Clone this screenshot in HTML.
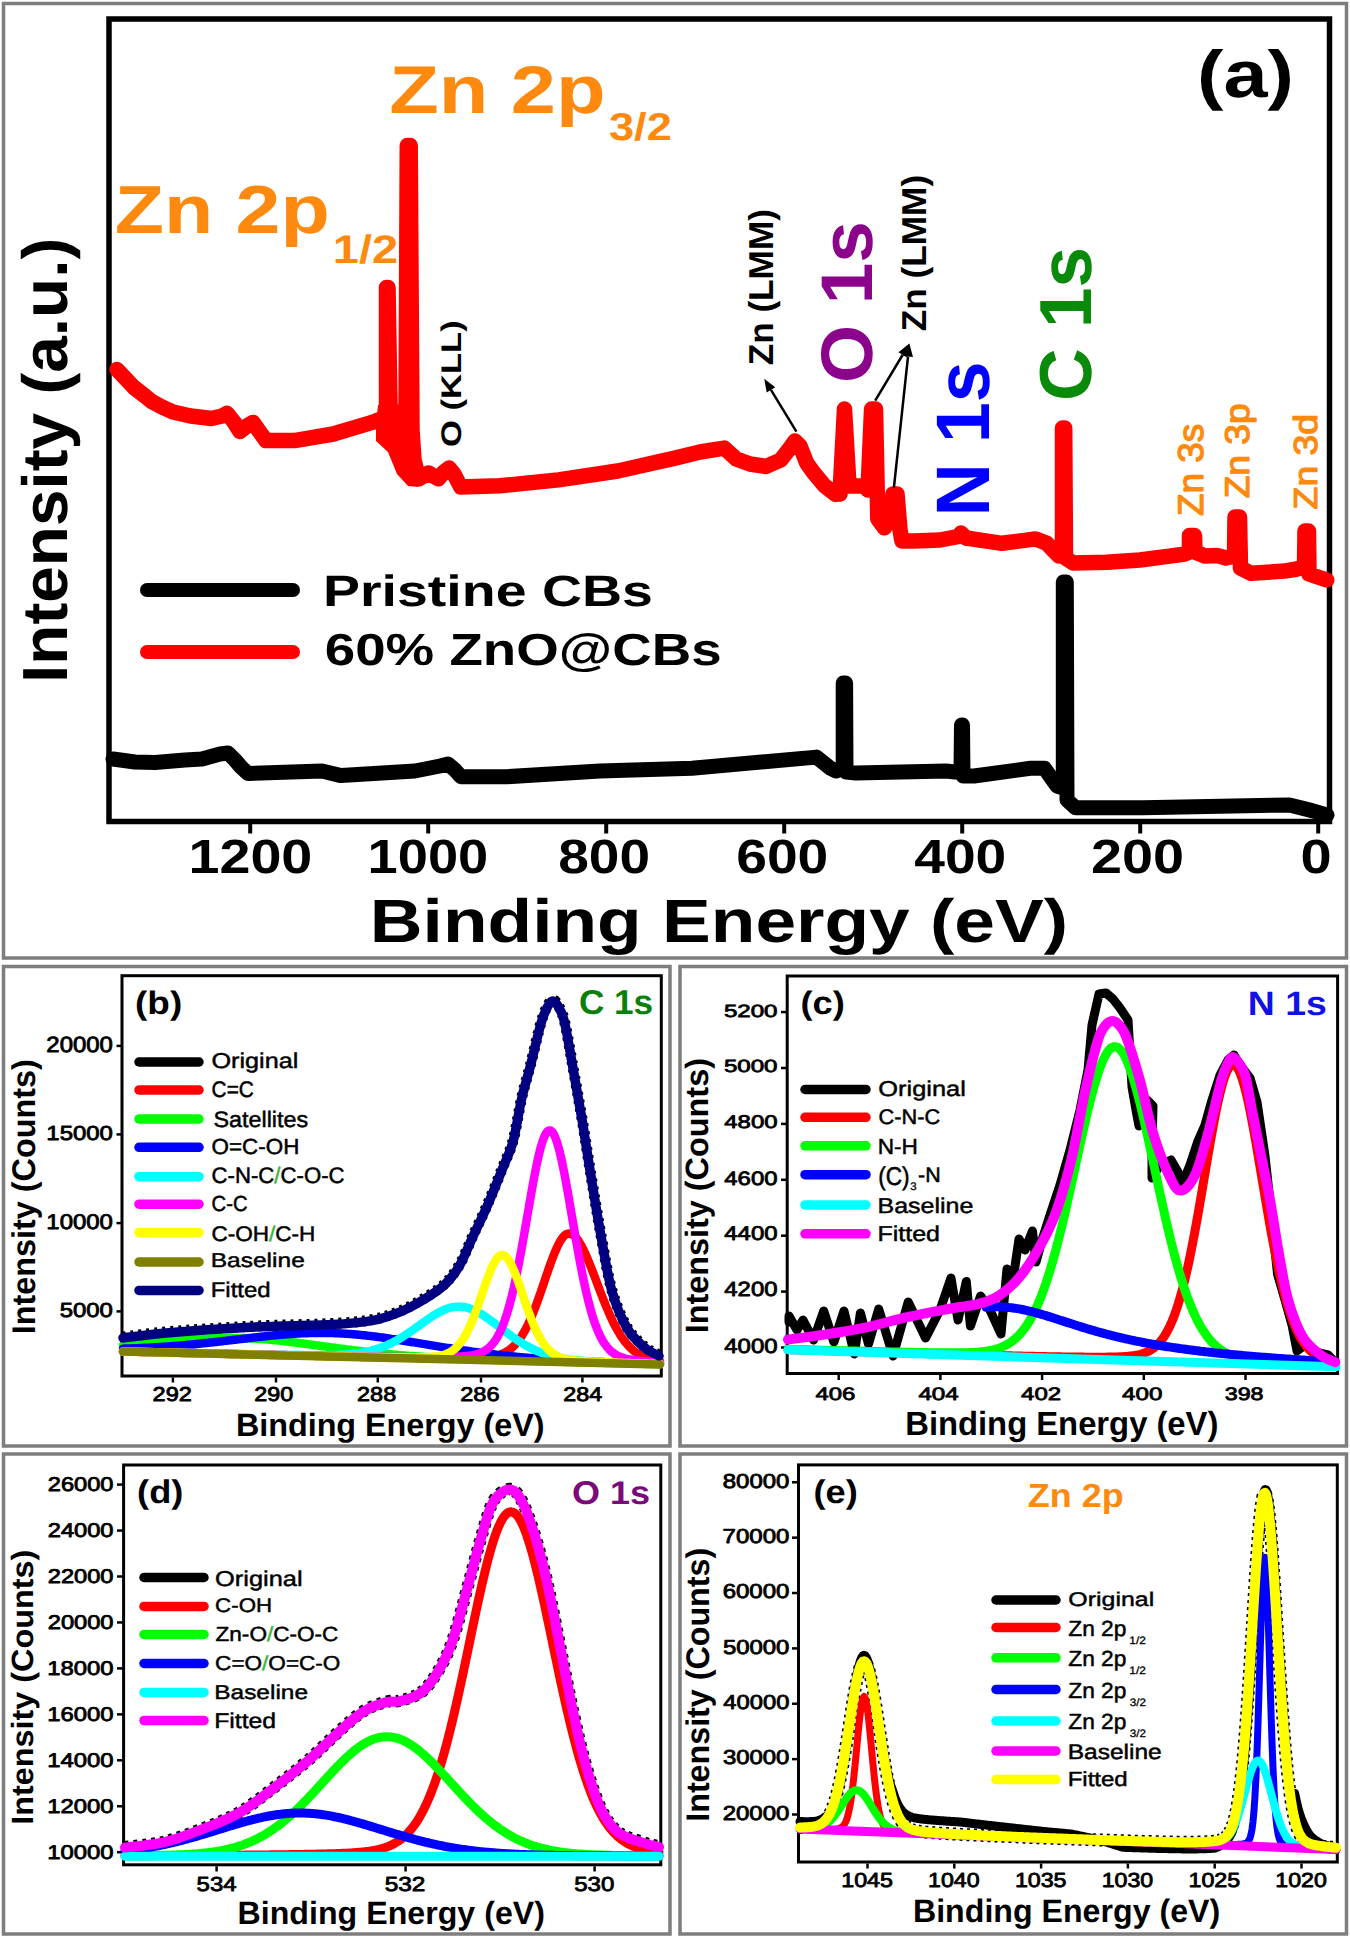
<!DOCTYPE html>
<html><head><meta charset="utf-8"><style>
html,body{margin:0;padding:0;background:#fff;}
svg{display:block;}
text{font-family:"Liberation Sans",sans-serif;font-kerning:none;text-rendering:geometricPrecision;}
</style></head><body>
<svg width="1350" height="1938" viewBox="0 0 1350 1938">
<rect width="1350" height="1938" fill="#fff"/>
<rect x="3.5" y="3.5" width="1343" height="954.5" fill="none" stroke="#7e7e7e" stroke-width="3.5"/>
<rect x="3.5" y="966.5" width="666.5" height="479.5" fill="none" stroke="#7e7e7e" stroke-width="3.5"/>
<rect x="680" y="966.5" width="666.5" height="479.5" fill="none" stroke="#7e7e7e" stroke-width="3.5"/>
<rect x="3.5" y="1454" width="666.5" height="480" fill="none" stroke="#7e7e7e" stroke-width="3.5"/>
<rect x="680" y="1454" width="666.5" height="480" fill="none" stroke="#7e7e7e" stroke-width="3.5"/>
<rect x="109" y="19" width="1220.5" height="802.5" fill="none" stroke="#000" stroke-width="5.5"/>
<line x1="1318.2" y1="824" x2="1318.2" y2="833.5" stroke="#000" stroke-width="4" stroke-linecap="butt"/>
<line x1="1140.2" y1="824" x2="1140.2" y2="833.5" stroke="#000" stroke-width="4" stroke-linecap="butt"/>
<line x1="962.2" y1="824" x2="962.2" y2="833.5" stroke="#000" stroke-width="4" stroke-linecap="butt"/>
<line x1="784.2" y1="824" x2="784.2" y2="833.5" stroke="#000" stroke-width="4" stroke-linecap="butt"/>
<line x1="606.2" y1="824" x2="606.2" y2="833.5" stroke="#000" stroke-width="4" stroke-linecap="butt"/>
<line x1="428.2" y1="824" x2="428.2" y2="833.5" stroke="#000" stroke-width="4" stroke-linecap="butt"/>
<line x1="250.2" y1="824" x2="250.2" y2="833.5" stroke="#000" stroke-width="4" stroke-linecap="butt"/>
<text transform="translate(188.5,872.53) scale(0.5564,0.4802)" font-size="100" font-weight="bold" fill="#000">1200</text>
<text transform="translate(367.58,872.53) scale(0.5423,0.4802)" font-size="100" font-weight="bold" fill="#000">1000</text>
<text transform="translate(558.25,872.53) scale(0.5502,0.4802)" font-size="100" font-weight="bold" fill="#000">800</text>
<text transform="translate(736.28,872.53) scale(0.5513,0.4802)" font-size="100" font-weight="bold" fill="#000">600</text>
<text transform="translate(914.27,872.53) scale(0.5514,0.4802)" font-size="100" font-weight="bold" fill="#000">400</text>
<text transform="translate(1090.97,872.53) scale(0.5581,0.4802)" font-size="100" font-weight="bold" fill="#000">200</text>
<text transform="translate(1300.49,872.53) scale(0.5593,0.4802)" font-size="100" font-weight="bold" fill="#000">0</text>
<text transform="translate(369.81,941.78) scale(0.7307,0.6097)" font-size="100" font-weight="bold" fill="#000">Binding Energy (eV)</text>
<text transform="translate(66.78,683) rotate(-90) scale(0.6570,0.6373)" font-size="100" font-weight="bold" fill="#000">Intensity (a.u.)</text>
<text transform="translate(1197.05,96.86) scale(0.7928,0.6619)" font-size="100" font-weight="bold" fill="#000">(a)</text>
<line x1="147" y1="590" x2="293" y2="590" stroke="#000" stroke-width="14" stroke-linecap="round"/>
<line x1="147" y1="652" x2="293" y2="652" stroke="#ff0000" stroke-width="14" stroke-linecap="round"/>
<text transform="translate(322.99,605.57) scale(0.5548,0.4385)" font-size="100" font-weight="bold" fill="#000">Pristine CBs</text>
<text transform="translate(324.7,665.39) scale(0.5472,0.4492)" font-size="100" font-weight="bold" fill="#000">60% ZnO@CBs</text>
<text transform="translate(389.18,112.7) scale(0.8113,0.6746)" font-size="100" font-weight="bold" fill="#fd8a0e">Zn 2p</text>
<text transform="translate(608.96,140.32) scale(0.4521,0.3881)" font-size="100" font-weight="bold" fill="#fd8a0e">3/2</text>
<text transform="translate(114.7,233.09) scale(0.8063,0.6801)" font-size="100" font-weight="bold" fill="#fd8a0e">Zn 2p</text>
<text transform="translate(332.84,263) scale(0.4700,0.3989)" font-size="100" font-weight="bold" fill="#fd8a0e">1/2</text>
<text transform="translate(461,446.92) rotate(-90) scale(0.3455,0.2843)" font-size="100" font-weight="bold" fill="#000">O (KLL)</text>
<text transform="translate(772.63,365.35) rotate(-90) scale(0.3518,0.3454)" font-size="100" font-weight="bold" fill="#000">Zn (LMM)</text>
<text transform="translate(872.39,382.96) rotate(-90) scale(0.7459,0.7316)" font-size="100" font-weight="bold" fill="#8b048b">O 1s</text>
<text transform="translate(926.13,331.15) rotate(-90) scale(0.3518,0.3454)" font-size="100" font-weight="bold" fill="#000">Zn (LMM)</text>
<text transform="translate(988.56,516.52) rotate(-90) scale(0.7349,0.7581)" font-size="100" font-weight="bold" fill="#0000ff">N 1s</text>
<text transform="translate(1090.78,401.09) rotate(-90) scale(0.7300,0.7373)" font-size="100" font-weight="bold" fill="#0a8a0a">C 1s</text>
<text transform="translate(1203.4,516.12) rotate(-90) scale(0.3695,0.3573)" font-size="100" font-weight="normal" fill="#fd8a0e" stroke="#fd8a0e" stroke-width="3.58" stroke-linejoin="round">Zn 3s</text>
<text transform="translate(1248.95,498.33) rotate(-90) scale(0.3709,0.3423)" font-size="100" font-weight="normal" fill="#fd8a0e" stroke="#fd8a0e" stroke-width="3.65" stroke-linejoin="round">Zn 3p</text>
<text transform="translate(1316.83,509.44) rotate(-90) scale(0.3738,0.3309)" font-size="100" font-weight="normal" fill="#fd8a0e" stroke="#fd8a0e" stroke-width="3.69" stroke-linejoin="round">Zn 3d</text>
<polyline points="113,759 135,762 155,762.5 185,760 202,759 211,756.5 220,754 228,753 235,760 241,767 248,773.5 322,771 341,775.6 415,771 440,766 448,764 455,770 461,776.7 507,776.7 600,771 692,768.3 816.5,757.1 830.6,768.3 836,771 843.2,768 843.2,683 845.6,683 846,772 856,773 946,771 955,772 961,771 961.5,725 962.5,725 963,776 974,776 1030.5,768.3 1044.5,768.3 1052,779 1057,786 1063.3,788 1063.3,582 1066.3,582 1067,800 1075.5,807.7 1143,807.7 1289.5,805 1312,810.6 1327,815" fill="none" stroke="#000" stroke-width="15" stroke-linejoin="round" stroke-linecap="round" />
<polyline points="117,369.5 125,378 134,387.5 145,396 152,401.7 162,407 173,412 190.7,416 211.5,418.5 222,416 227,413.3 234,422 240,431.5 247,426 253,422.4 259,431 266,440.6 294.5,440.6 333.3,434 372.2,422.4 381,419 386.5,418 386.5,287.5 388,287.5 390,405 395,420 400,425 406,412 407.3,145.4 410.2,145.4 412,430 414,460 418.8,478.8 428.6,473 438.4,478.8 444,472 449,468 454,474 460.7,487 499.3,485.8 558.5,479.9 617.8,471 677,457.6 700,452 724.4,448.1 736.3,459 750,464 765.9,466.5 780.7,460 790,448 795,441 800,446 806.7,463 813.3,472.2 824.4,485.6 835.6,494.4 840,494 844.5,409 844.5,409 849,486 856,486 864,486 868,490 871.6,409 875.5,409 877.8,518.9 884.4,527.8 889,520 893,494 897,494 900,530 902,541 913.3,541 940,540 957.8,536.7 961,533 966,538 1002,543.3 1035.6,538.9 1046.7,543.3 1053,550 1059,556 1062.5,548 1062.5,428 1064.7,428 1065.5,558 1073.3,563 1106.7,562.2 1140,560 1173.3,555.6 1185,554 1189.5,552 1189.5,535.5 1194.5,535.5 1195,552 1205,556 1217.8,555.6 1226,558 1234.5,556 1235,517 1239.5,517 1240.5,568 1251,573.3 1284.4,571.1 1297,569 1304.5,566 1305,531 1308.5,531 1309,574 1326.7,580" fill="none" stroke="#ff0000" stroke-width="15.5" stroke-linejoin="round" stroke-linecap="round" />
<polygon points="378,405 418.5,405 418.5,487 408,486 397,474 388,452 376,441 376,425" fill="#ff0000"/>
<line x1="796.4" y1="431.7" x2="770.96" y2="389.9" stroke="#000" stroke-width="2.5" stroke-linecap="butt"/>
<polygon points="764.2,378.8 775.23,387.3 766.69,392.5" fill="#000"/>
<line x1="875.2" y1="400.6" x2="902.71" y2="354.75" stroke="#000" stroke-width="2.5" stroke-linecap="butt"/>
<polygon points="909.4,343.6 907,357.32 898.42,352.17" fill="#000"/>
<line x1="893.9" y1="487.7" x2="908.01" y2="356.53" stroke="#000" stroke-width="2.5" stroke-linecap="butt"/>
<polygon points="909.4,343.6 912.98,357.06 903.04,355.99" fill="#000"/>
<rect x="122" y="975.7" width="539.3" height="400.3" fill="none" stroke="#000" stroke-width="3"/>
<line x1="172.9" y1="1377.5" x2="172.9" y2="1382.5" stroke="#000" stroke-width="2.5" stroke-linecap="butt"/>
<line x1="276" y1="1377.5" x2="276" y2="1382.5" stroke="#000" stroke-width="2.5" stroke-linecap="butt"/>
<line x1="377.8" y1="1377.5" x2="377.8" y2="1382.5" stroke="#000" stroke-width="2.5" stroke-linecap="butt"/>
<line x1="481" y1="1377.5" x2="481" y2="1382.5" stroke="#000" stroke-width="2.5" stroke-linecap="butt"/>
<line x1="582.4" y1="1377.5" x2="582.4" y2="1382.5" stroke="#000" stroke-width="2.5" stroke-linecap="butt"/>
<line x1="116.5" y1="1045.9" x2="122" y2="1045.9" stroke="#000" stroke-width="2.5" stroke-linecap="butt"/>
<line x1="116.5" y1="1134.4" x2="122" y2="1134.4" stroke="#000" stroke-width="2.5" stroke-linecap="butt"/>
<line x1="116.5" y1="1223.1" x2="122" y2="1223.1" stroke="#000" stroke-width="2.5" stroke-linecap="butt"/>
<line x1="116.5" y1="1311.4" x2="122" y2="1311.4" stroke="#000" stroke-width="2.5" stroke-linecap="butt"/>
<text transform="translate(152.57,1401.15) scale(0.2354,0.2006)" font-size="100" font-weight="normal" fill="#000" stroke="#000" stroke-width="4.13" stroke-linejoin="round">292</text>
<text transform="translate(254.17,1401.15) scale(0.2337,0.2006)" font-size="100" font-weight="normal" fill="#000" stroke="#000" stroke-width="4.15" stroke-linejoin="round">290</text>
<text transform="translate(357.07,1401.15) scale(0.2343,0.2006)" font-size="100" font-weight="normal" fill="#000" stroke="#000" stroke-width="4.14" stroke-linejoin="round">288</text>
<text transform="translate(460.26,1401.36) scale(0.2357,0.1992)" font-size="100" font-weight="normal" fill="#000" stroke="#000" stroke-width="4.14" stroke-linejoin="round">286</text>
<text transform="translate(563.28,1401.36) scale(0.2335,0.1992)" font-size="100" font-weight="normal" fill="#000" stroke="#000" stroke-width="4.16" stroke-linejoin="round">284</text>
<text transform="translate(46.35,1052.23) scale(0.2393,0.2203)" font-size="100" font-weight="normal" fill="#000" stroke="#000" stroke-width="3.92" stroke-linejoin="round">20000</text>
<text transform="translate(46.33,1140.15) scale(0.2394,0.2034)" font-size="100" font-weight="normal" fill="#000" stroke="#000" stroke-width="4.07" stroke-linejoin="round">15000</text>
<text transform="translate(46.33,1229.34) scale(0.2394,0.2133)" font-size="100" font-weight="normal" fill="#000" stroke="#000" stroke-width="3.98" stroke-linejoin="round">10000</text>
<text transform="translate(59.69,1317.25) scale(0.2391,0.2034)" font-size="100" font-weight="normal" fill="#000" stroke="#000" stroke-width="4.07" stroke-linejoin="round">5000</text>
<text transform="translate(235.94,1435.97) scale(0.3229,0.3225)" font-size="100" font-weight="bold" fill="#000">Binding Energy (eV)</text>
<text transform="translate(34.59,1334.26) rotate(-90) scale(0.3236,0.3283)" font-size="100" font-weight="bold" fill="#000">Intensity (Counts)</text>
<text transform="translate(135.06,1013.58) scale(0.3695,0.3240)" font-size="100" font-weight="bold" fill="#000">(b)</text>
<text transform="translate(578.96,1013.76) scale(0.3512,0.3446)" font-size="100" font-weight="bold" fill="#0a800a">C 1s</text>
<line x1="139" y1="1062" x2="199" y2="1062" stroke="#000" stroke-width="9.5" stroke-linecap="round"/>
<text transform="translate(211.46,1068.1) scale(0.2521,0.2146)" font-size="100" font-weight="normal" fill="#000" stroke="#000" stroke-width="2.14" stroke-linejoin="round">Original</text>
<line x1="139" y1="1090" x2="199" y2="1090" stroke="#ff0000" stroke-width="9.5" stroke-linecap="round"/>
<text transform="translate(211.59,1097.23) scale(0.2083,0.2246)" font-size="100" font-weight="normal" fill="#000" stroke="#000" stroke-width="2.31" stroke-linejoin="round">C=C</text>
<line x1="139" y1="1119" x2="199" y2="1119" stroke="#00ff00" stroke-width="9.5" stroke-linecap="round"/>
<text transform="translate(213.39,1126.53) scale(0.2336,0.2233)" font-size="100" font-weight="normal" fill="#000" stroke="#000" stroke-width="2.19" stroke-linejoin="round">Satellites</text>
<line x1="139" y1="1147.3" x2="199" y2="1147.3" stroke="#0000ff" stroke-width="9.5" stroke-linecap="round"/>
<text transform="translate(211.59,1153.54) scale(0.2241,0.2189)" font-size="100" font-weight="normal" fill="#000" stroke="#000" stroke-width="2.26" stroke-linejoin="round">O=C-OH</text>
<line x1="139" y1="1176.7" x2="199" y2="1176.7" stroke="#00ffff" stroke-width="9.5" stroke-linecap="round"/>
<text transform="translate(211.52,1182.83) scale(0.2218,0.2233)" font-size="100" font-weight="normal" fill="#000" stroke="#000" stroke-width="2.25" stroke-linejoin="round">C-N-C<tspan fill="#3cb43c" stroke="#3cb43c">/</tspan>C-O-C</text>
<line x1="139" y1="1204.2" x2="199" y2="1204.2" stroke="#ff00ff" stroke-width="9.5" stroke-linecap="round"/>
<text transform="translate(211.62,1211.34) scale(0.2025,0.2189)" font-size="100" font-weight="normal" fill="#000" stroke="#000" stroke-width="2.37" stroke-linejoin="round">C-C</text>
<line x1="139" y1="1232.7" x2="199" y2="1232.7" stroke="#ffff00" stroke-width="9.5" stroke-linecap="round"/>
<text transform="translate(211.51,1240.64) scale(0.2253,0.2111)" font-size="100" font-weight="normal" fill="#000" stroke="#000" stroke-width="2.29" stroke-linejoin="round">C-OH<tspan fill="#3cb43c" stroke="#3cb43c">/</tspan>C-H</text>
<line x1="139" y1="1262" x2="199" y2="1262" stroke="#808000" stroke-width="9.5" stroke-linecap="round"/>
<text transform="translate(210.64,1267.36) scale(0.2456,0.1988)" font-size="100" font-weight="normal" fill="#000" stroke="#000" stroke-width="2.25" stroke-linejoin="round">Baseline</text>
<line x1="139" y1="1290.4" x2="199" y2="1290.4" stroke="#000080" stroke-width="9.5" stroke-linecap="round"/>
<text transform="translate(210.69,1296.64) scale(0.2395,0.2111)" font-size="100" font-weight="normal" fill="#000" stroke="#000" stroke-width="2.22" stroke-linejoin="round">Fitted</text>
<path d="M123.0,1337.0 C130.7,1336.1 147.8,1333.5 169.0,1331.7 C190.2,1329.9 223.0,1327.7 250.0,1326.3 C277.0,1324.9 310.7,1324.7 331.0,1323.6 C351.3,1322.5 360.7,1321.6 372.0,1319.6 C383.3,1317.6 390.5,1314.8 399.0,1311.4 C407.5,1308.0 415.4,1303.6 423.0,1299.0 C430.6,1294.4 438.3,1289.7 444.4,1284.0 C450.5,1278.3 454.8,1272.6 459.5,1264.7 C464.2,1256.8 467.8,1246.8 472.4,1236.8 C477.0,1226.8 482.4,1216.1 487.4,1204.6 C492.4,1193.1 498.1,1178.8 502.4,1168.0 C506.7,1157.2 510.0,1151.8 513.2,1140.0 C516.4,1128.2 518.9,1109.5 521.8,1097.0 C524.7,1084.5 527.2,1077.5 530.4,1065.0 C533.6,1052.5 538.2,1032.0 541.1,1022.0 C544.0,1012.0 546.0,1008.7 548.0,1005.0 C550.0,1001.3 551.2,1000.0 552.9,1000.0 C554.6,1000.0 556.0,1001.3 558.0,1005.0 C560.0,1008.7 562.2,1011.3 564.7,1022.0 C567.2,1032.7 570.4,1052.9 573.3,1069.0 C576.2,1085.1 579.1,1101.4 582.0,1118.6 C584.9,1135.8 587.3,1152.6 590.5,1172.3 C593.7,1192.0 597.7,1217.1 601.3,1236.8 C604.9,1256.5 607.7,1275.5 612.0,1290.5 C616.3,1305.5 621.6,1317.7 627.0,1327.0 C632.4,1336.3 638.9,1341.6 644.2,1346.3 C649.5,1351.0 656.5,1353.5 659.0,1355.0" fill="none" stroke="#000" stroke-width="11" stroke-linejoin="round" stroke-linecap="butt" stroke-dasharray="3,5"/>
<polyline points="123,1351.51 124.5,1351.55 126,1351.58 127.5,1351.62 129,1351.65 130.5,1351.69 132,1351.72 133.5,1351.76 135,1351.79 136.5,1351.83 138,1351.86 139.5,1351.9 141,1351.93 142.5,1351.97 144,1352 145.5,1352.04 147,1352.07 148.5,1352.11 150,1352.14 151.5,1352.18 153,1352.21 154.5,1352.25 156,1352.28 157.5,1352.32 159,1352.35 160.5,1352.39 162,1352.42 163.5,1352.46 165,1352.49 166.5,1352.53 168,1352.56 169.5,1352.6 171,1352.63 172.5,1352.67 174,1352.7 175.5,1352.74 177,1352.77 178.5,1352.81 180,1352.84 181.5,1352.88 183,1352.91 184.5,1352.95 186,1352.98 187.5,1353.02 189,1353.05 190.5,1353.09 192,1353.12 193.5,1353.16 195,1353.19 196.5,1353.22 198,1353.26 199.5,1353.29 201,1353.33 202.5,1353.36 204,1353.4 205.5,1353.43 207,1353.47 208.5,1353.5 210,1353.54 211.5,1353.57 213,1353.61 214.5,1353.64 216,1353.67 217.5,1353.71 219,1353.74 220.5,1353.78 222,1353.81 223.5,1353.85 225,1353.88 226.5,1353.92 228,1353.95 229.5,1353.99 231,1354.02 232.5,1354.05 234,1354.09 235.5,1354.12 237,1354.16 238.5,1354.19 240,1354.23 241.5,1354.26 243,1354.29 244.5,1354.33 246,1354.36 247.5,1354.4 249,1354.43 250.5,1354.46 252,1354.5 253.5,1354.53 255,1354.57 256.5,1354.6 258,1354.64 259.5,1354.67 261,1354.7 262.5,1354.74 264,1354.77 265.5,1354.8 267,1354.84 268.5,1354.87 270,1354.91 271.5,1354.94 273,1354.97 274.5,1355.01 276,1355.04 277.5,1355.07 279,1355.11 280.5,1355.14 282,1355.18 283.5,1355.21 285,1355.24 286.5,1355.28 288,1355.31 289.5,1355.34 291,1355.38 292.5,1355.41 294,1355.44 295.5,1355.48 297,1355.51 298.5,1355.54 300,1355.58 301.5,1355.61 303,1355.64 304.5,1355.67 306,1355.71 307.5,1355.74 309,1355.77 310.5,1355.81 312,1355.84 313.5,1355.87 315,1355.9 316.5,1355.94 318,1355.97 319.5,1356 321,1356.03 322.5,1356.07 324,1356.1 325.5,1356.13 327,1356.16 328.5,1356.2 330,1356.23 331.5,1356.26 333,1356.29 334.5,1356.32 336,1356.35 337.5,1356.39 339,1356.42 340.5,1356.45 342,1356.48 343.5,1356.51 345,1356.54 346.5,1356.57 348,1356.61 349.5,1356.64 351,1356.67 352.5,1356.7 354,1356.73 355.5,1356.76 357,1356.79 358.5,1356.82 360,1356.85 361.5,1356.88 363,1356.91 364.5,1356.94 366,1356.97 367.5,1357 369,1357.03 370.5,1357.06 372,1357.09 373.5,1357.12 375,1357.15 376.5,1357.18 378,1357.2 379.5,1357.23 381,1357.26 382.5,1357.29 384,1357.32 385.5,1357.34 387,1357.37 388.5,1357.4 390,1357.43 391.5,1357.45 393,1357.48 394.5,1357.51 396,1357.53 397.5,1357.56 399,1357.59 400.5,1357.61 402,1357.64 403.5,1357.66 405,1357.69 406.5,1357.71 408,1357.74 409.5,1357.76 411,1357.78 412.5,1357.81 414,1357.83 415.5,1357.85 417,1357.87 418.5,1357.9 420,1357.92 421.5,1357.94 423,1357.96 424.5,1357.98 426,1358 427.5,1358.02 429,1358.04 430.5,1358.05 432,1358.07 433.5,1358.09 435,1358.1 436.5,1358.12 438,1358.13 439.5,1358.15 441,1358.16 442.5,1358.18 444,1358.19 445.5,1358.2 447,1358.21 448.5,1358.22 450,1358.23 451.5,1358.23 453,1358.24 454.5,1358.25 456,1358.25 457.5,1358.25 459,1358.25 460.5,1358.25 462,1358.25 463.5,1358.24 465,1358.23 466.5,1358.22 468,1358.2 469.5,1358.18 471,1358.16 472.5,1358.13 474,1358.1 475.5,1358.06 477,1358.01 478.5,1357.95 480,1357.88 481.5,1357.8 483,1357.71 484.5,1357.6 486,1357.47 487.5,1357.31 489,1357.14 490.5,1356.94 492,1356.7 493.5,1356.43 495,1356.12 496.5,1355.76 498,1355.35 499.5,1354.88 501,1354.34 502.5,1353.74 504,1353.05 505.5,1352.28 507,1351.41 508.5,1350.44 510,1349.35 511.5,1348.14 513,1346.8 514.5,1345.32 516,1343.7 517.5,1341.91 519,1339.96 520.5,1337.84 522,1335.55 523.5,1333.07 525,1330.41 526.5,1327.57 528,1324.53 529.5,1321.32 531,1317.92 532.5,1314.35 534,1310.62 535.5,1306.73 537,1302.71 538.5,1298.56 540,1294.3 541.5,1289.97 543,1285.57 544.5,1281.15 546,1276.72 547.5,1272.32 549,1267.98 550.5,1263.74 552,1259.63 553.5,1255.69 555,1251.96 556.5,1248.48 558,1245.27 559.5,1242.39 561,1239.87 562.5,1237.73 564,1236 565.5,1234.72 567,1233.89 568.5,1233.53 570,1233.62 571.5,1234.09 573,1234.92 574.5,1236.1 576,1237.63 577.5,1239.49 579,1241.66 580.5,1244.11 582,1246.83 583.5,1249.79 585,1252.96 586.5,1256.33 588,1259.85 589.5,1263.52 591,1267.29 592.5,1271.15 594,1275.08 595.5,1279.04 597,1283.01 598.5,1286.98 600,1290.93 601.5,1294.83 603,1298.67 604.5,1302.44 606,1306.12 607.5,1309.69 609,1313.16 610.5,1316.5 612,1319.71 613.5,1322.79 615,1325.73 616.5,1328.53 618,1331.18 619.5,1333.69 621,1336.05 622.5,1338.27 624,1340.35 625.5,1342.29 627,1344.1 628.5,1345.78 630,1347.34 631.5,1348.78 633,1350.11 634.5,1351.32 636,1352.44 637.5,1353.47 639,1354.4 640.5,1355.25 642,1356.03 643.5,1356.74 645,1357.38 646.5,1357.96 648,1358.49 649.5,1358.96 651,1359.39 652.5,1359.78 654,1360.14 655.5,1360.46 657,1360.75 658.5,1361.01 660,1361.25" fill="none" stroke="#ff0000" stroke-width="8.5" stroke-linejoin="round" stroke-linecap="round" />
<polyline points="123,1345.16 124.5,1345.05 126,1344.94 127.5,1344.82 129,1344.71 130.5,1344.59 132,1344.47 133.5,1344.35 135,1344.22 136.5,1344.1 138,1343.97 139.5,1343.85 141,1343.72 142.5,1343.59 144,1343.46 145.5,1343.33 147,1343.2 148.5,1343.07 150,1342.93 151.5,1342.8 153,1342.66 154.5,1342.53 156,1342.4 157.5,1342.26 159,1342.13 160.5,1341.99 162,1341.86 163.5,1341.72 165,1341.59 166.5,1341.45 168,1341.32 169.5,1341.19 171,1341.05 172.5,1340.92 174,1340.79 175.5,1340.66 177,1340.54 178.5,1340.41 180,1340.29 181.5,1340.16 183,1340.04 184.5,1339.92 186,1339.81 187.5,1339.69 189,1339.58 190.5,1339.47 192,1339.36 193.5,1339.26 195,1339.15 196.5,1339.05 198,1338.96 199.5,1338.87 201,1338.78 202.5,1338.69 204,1338.61 205.5,1338.53 207,1338.45 208.5,1338.38 210,1338.32 211.5,1338.25 213,1338.2 214.5,1338.14 216,1338.09 217.5,1338.05 219,1338.01 220.5,1337.97 222,1337.94 223.5,1337.92 225,1337.9 226.5,1337.88 228,1337.87 229.5,1337.87 231,1337.87 232.5,1337.87 234,1337.89 235.5,1337.9 237,1337.92 238.5,1337.95 240,1337.98 241.5,1338.02 243,1338.07 244.5,1338.12 246,1338.17 247.5,1338.23 249,1338.3 250.5,1338.37 252,1338.44 253.5,1338.52 255,1338.61 256.5,1338.7 258,1338.8 259.5,1338.9 261,1339.01 262.5,1339.12 264,1339.24 265.5,1339.36 267,1339.48 268.5,1339.61 270,1339.74 271.5,1339.88 273,1340.03 274.5,1340.17 276,1340.32 277.5,1340.48 279,1340.63 280.5,1340.79 282,1340.96 283.5,1341.12 285,1341.3 286.5,1341.47 288,1341.65 289.5,1341.82 291,1342.01 292.5,1342.19 294,1342.38 295.5,1342.56 297,1342.76 298.5,1342.95 300,1343.14 301.5,1343.34 303,1343.54 304.5,1343.73 306,1343.93 307.5,1344.14 309,1344.34 310.5,1344.54 312,1344.75 313.5,1344.95 315,1345.16 316.5,1345.36 318,1345.57 319.5,1345.77 321,1345.98 322.5,1346.19 324,1346.39 325.5,1346.6 327,1346.81 328.5,1347.01 330,1347.22 331.5,1347.42 333,1347.62 334.5,1347.83 336,1348.03 337.5,1348.23 339,1348.43 340.5,1348.63 342,1348.83 343.5,1349.03 345,1349.22 346.5,1349.42 348,1349.61 349.5,1349.8 351,1349.99 352.5,1350.18 354,1350.37 355.5,1350.55 357,1350.73 358.5,1350.91 360,1351.09 361.5,1351.27 363,1351.45 364.5,1351.62 366,1351.79 367.5,1351.96 369,1352.13 370.5,1352.3 372,1352.46 373.5,1352.62 375,1352.78 376.5,1352.94 378,1353.1 379.5,1353.25 381,1353.4 382.5,1353.55 384,1353.7 385.5,1353.84 387,1353.99 388.5,1354.13 390,1354.27 391.5,1354.4 393,1354.54 394.5,1354.67 396,1354.8 397.5,1354.93 399,1355.05 400.5,1355.18 402,1355.3 403.5,1355.42 405,1355.54 406.5,1355.65 408,1355.77 409.5,1355.88 411,1355.99 412.5,1356.1 414,1356.21 415.5,1356.31 417,1356.41 418.5,1356.51 420,1356.61 421.5,1356.71 423,1356.81 424.5,1356.9 426,1356.99 427.5,1357.08 429,1357.17 430.5,1357.26 432,1357.35 433.5,1357.43 435,1357.51 436.5,1357.6 438,1357.68 439.5,1357.76 441,1357.83 442.5,1357.91 444,1357.98 445.5,1358.06 447,1358.13 448.5,1358.2 450,1358.27 451.5,1358.34 453,1358.41 454.5,1358.48 456,1358.54 457.5,1358.61 459,1358.67 460.5,1358.73 462,1358.8 463.5,1358.86 465,1358.92 466.5,1358.98 468,1359.03 469.5,1359.09 471,1359.15 472.5,1359.21 474,1359.26 475.5,1359.32 477,1359.37 478.5,1359.42 480,1359.48 481.5,1359.53 483,1359.58 484.5,1359.63 486,1359.68 487.5,1359.73 489,1359.78 490.5,1359.83 492,1359.88 493.5,1359.92 495,1359.97 496.5,1360.02 498,1360.07 499.5,1360.11 501,1360.16 502.5,1360.2 504,1360.25 505.5,1360.29 507,1360.34 508.5,1360.38 510,1360.42 511.5,1360.47 513,1360.51 514.5,1360.55 516,1360.6 517.5,1360.64 519,1360.68 520.5,1360.72 522,1360.77 523.5,1360.81 525,1360.85 526.5,1360.89 528,1360.93 529.5,1360.97 531,1361.01 532.5,1361.05 534,1361.09 535.5,1361.13 537,1361.17 538.5,1361.21 540,1361.25 541.5,1361.29 543,1361.33 544.5,1361.37 546,1361.41 547.5,1361.45 549,1361.49 550.5,1361.53 552,1361.56 553.5,1361.6 555,1361.64 556.5,1361.68 558,1361.72 559.5,1361.76 561,1361.8 562.5,1361.83 564,1361.87 565.5,1361.91 567,1361.95 568.5,1361.99 570,1362.02 571.5,1362.06 573,1362.1 574.5,1362.14 576,1362.18 577.5,1362.21 579,1362.25 580.5,1362.29 582,1362.33 583.5,1362.36 585,1362.4 586.5,1362.44 588,1362.48 589.5,1362.51 591,1362.55 592.5,1362.59 594,1362.63 595.5,1362.66 597,1362.7 598.5,1362.74 600,1362.77 601.5,1362.81 603,1362.85 604.5,1362.89 606,1362.92 607.5,1362.96 609,1363 610.5,1363.03 612,1363.07 613.5,1363.11 615,1363.15 616.5,1363.18 618,1363.22 619.5,1363.26 621,1363.29 622.5,1363.33 624,1363.37 625.5,1363.4 627,1363.44 628.5,1363.48 630,1363.51 631.5,1363.55 633,1363.59 634.5,1363.62 636,1363.66 637.5,1363.7 639,1363.74 640.5,1363.77 642,1363.81 643.5,1363.85 645,1363.88 646.5,1363.92 648,1363.96 649.5,1363.99 651,1364.03 652.5,1364.07 654,1364.1 655.5,1364.14 657,1364.18 658.5,1364.21 660,1364.25" fill="none" stroke="#00ff00" stroke-width="8.5" stroke-linejoin="round" stroke-linecap="round" />
<polyline points="123,1348.65 124.5,1348.61 126,1348.57 127.5,1348.52 129,1348.47 130.5,1348.42 132,1348.37 133.5,1348.31 135,1348.25 136.5,1348.19 138,1348.13 139.5,1348.07 141,1348 142.5,1347.94 144,1347.87 145.5,1347.79 147,1347.72 148.5,1347.64 150,1347.56 151.5,1347.48 153,1347.4 154.5,1347.32 156,1347.23 157.5,1347.14 159,1347.04 160.5,1346.95 162,1346.85 163.5,1346.75 165,1346.65 166.5,1346.55 168,1346.44 169.5,1346.33 171,1346.22 172.5,1346.11 174,1345.99 175.5,1345.88 177,1345.76 178.5,1345.63 180,1345.51 181.5,1345.38 183,1345.25 184.5,1345.12 186,1344.99 187.5,1344.85 189,1344.72 190.5,1344.58 192,1344.44 193.5,1344.29 195,1344.15 196.5,1344 198,1343.85 199.5,1343.7 201,1343.55 202.5,1343.39 204,1343.23 205.5,1343.08 207,1342.92 208.5,1342.75 210,1342.59 211.5,1342.43 213,1342.26 214.5,1342.1 216,1341.93 217.5,1341.76 219,1341.59 220.5,1341.42 222,1341.24 223.5,1341.07 225,1340.9 226.5,1340.72 228,1340.55 229.5,1340.37 231,1340.2 232.5,1340.02 234,1339.84 235.5,1339.66 237,1339.49 238.5,1339.31 240,1339.13 241.5,1338.96 243,1338.78 244.5,1338.6 246,1338.43 247.5,1338.25 249,1338.08 250.5,1337.91 252,1337.73 253.5,1337.56 255,1337.39 256.5,1337.23 258,1337.06 259.5,1336.89 261,1336.73 262.5,1336.57 264,1336.41 265.5,1336.25 267,1336.09 268.5,1335.94 270,1335.79 271.5,1335.64 273,1335.49 274.5,1335.35 276,1335.21 277.5,1335.07 279,1334.94 280.5,1334.81 282,1334.68 283.5,1334.56 285,1334.44 286.5,1334.32 288,1334.21 289.5,1334.1 291,1333.99 292.5,1333.89 294,1333.8 295.5,1333.7 297,1333.62 298.5,1333.54 300,1333.46 301.5,1333.38 303,1333.32 304.5,1333.25 306,1333.2 307.5,1333.14 309,1333.1 310.5,1333.06 312,1333.02 313.5,1332.99 315,1332.96 316.5,1332.94 318,1332.93 319.5,1332.92 321,1332.92 322.5,1332.92 324,1332.93 325.5,1332.95 327,1332.97 328.5,1332.99 330,1333.03 331.5,1333.07 333,1333.11 334.5,1333.16 336,1333.22 337.5,1333.28 339,1333.35 340.5,1333.42 342,1333.5 343.5,1333.59 345,1333.68 346.5,1333.77 348,1333.88 349.5,1333.98 351,1334.1 352.5,1334.22 354,1334.34 355.5,1334.47 357,1334.6 358.5,1334.74 360,1334.89 361.5,1335.03 363,1335.19 364.5,1335.35 366,1335.51 367.5,1335.68 369,1335.85 370.5,1336.02 372,1336.21 373.5,1336.39 375,1336.58 376.5,1336.77 378,1336.96 379.5,1337.16 381,1337.37 382.5,1337.57 384,1337.78 385.5,1337.99 387,1338.21 388.5,1338.42 390,1338.64 391.5,1338.87 393,1339.09 394.5,1339.32 396,1339.55 397.5,1339.78 399,1340.01 400.5,1340.25 402,1340.49 403.5,1340.72 405,1340.96 406.5,1341.21 408,1341.45 409.5,1341.69 411,1341.94 412.5,1342.18 414,1342.43 415.5,1342.67 417,1342.92 418.5,1343.17 420,1343.42 421.5,1343.67 423,1343.91 424.5,1344.16 426,1344.41 427.5,1344.66 429,1344.91 430.5,1345.16 432,1345.4 433.5,1345.65 435,1345.9 436.5,1346.14 438,1346.38 439.5,1346.63 441,1346.87 442.5,1347.11 444,1347.35 445.5,1347.59 447,1347.83 448.5,1348.07 450,1348.3 451.5,1348.54 453,1348.77 454.5,1349 456,1349.23 457.5,1349.46 459,1349.69 460.5,1349.91 462,1350.13 463.5,1350.35 465,1350.57 466.5,1350.79 468,1351 469.5,1351.22 471,1351.43 472.5,1351.64 474,1351.84 475.5,1352.05 477,1352.25 478.5,1352.45 480,1352.65 481.5,1352.85 483,1353.04 484.5,1353.23 486,1353.42 487.5,1353.61 489,1353.79 490.5,1353.97 492,1354.15 493.5,1354.33 495,1354.51 496.5,1354.68 498,1354.85 499.5,1355.02 501,1355.18 502.5,1355.35 504,1355.51 505.5,1355.67 507,1355.83 508.5,1355.98 510,1356.13 511.5,1356.28 513,1356.43 514.5,1356.58 516,1356.72 517.5,1356.86 519,1357 520.5,1357.14 522,1357.27 523.5,1357.4 525,1357.54 526.5,1357.66 528,1357.79 529.5,1357.91 531,1358.04 532.5,1358.16 534,1358.28 535.5,1358.39 537,1358.51 538.5,1358.62 540,1358.73 541.5,1358.84 543,1358.95 544.5,1359.05 546,1359.16 547.5,1359.26 549,1359.36 550.5,1359.46 552,1359.56 553.5,1359.65 555,1359.74 556.5,1359.84 558,1359.93 559.5,1360.02 561,1360.11 562.5,1360.19 564,1360.28 565.5,1360.36 567,1360.44 568.5,1360.52 570,1360.6 571.5,1360.68 573,1360.76 574.5,1360.84 576,1360.91 577.5,1360.99 579,1361.06 580.5,1361.13 582,1361.2 583.5,1361.27 585,1361.34 586.5,1361.41 588,1361.47 589.5,1361.54 591,1361.6 592.5,1361.67 594,1361.73 595.5,1361.79 597,1361.85 598.5,1361.91 600,1361.97 601.5,1362.03 603,1362.09 604.5,1362.15 606,1362.21 607.5,1362.26 609,1362.32 610.5,1362.37 612,1362.43 613.5,1362.48 615,1362.53 616.5,1362.59 618,1362.64 619.5,1362.69 621,1362.74 622.5,1362.79 624,1362.84 625.5,1362.89 627,1362.94 628.5,1362.99 630,1363.04 631.5,1363.08 633,1363.13 634.5,1363.18 636,1363.23 637.5,1363.27 639,1363.32 640.5,1363.36 642,1363.41 643.5,1363.45 645,1363.5 646.5,1363.54 648,1363.59 649.5,1363.63 651,1363.68 652.5,1363.72 654,1363.76 655.5,1363.8 657,1363.85 658.5,1363.89 660,1363.93" fill="none" stroke="#0000ff" stroke-width="8.5" stroke-linejoin="round" stroke-linecap="round" />
<polyline points="123,1351.43 124.5,1351.47 126,1351.5 127.5,1351.53 129,1351.57 130.5,1351.6 132,1351.64 133.5,1351.67 135,1351.7 136.5,1351.74 138,1351.77 139.5,1351.81 141,1351.84 142.5,1351.87 144,1351.91 145.5,1351.94 147,1351.98 148.5,1352.01 150,1352.04 151.5,1352.08 153,1352.11 154.5,1352.15 156,1352.18 157.5,1352.21 159,1352.25 160.5,1352.28 162,1352.31 163.5,1352.35 165,1352.38 166.5,1352.41 168,1352.45 169.5,1352.48 171,1352.52 172.5,1352.55 174,1352.58 175.5,1352.62 177,1352.65 178.5,1352.68 180,1352.71 181.5,1352.75 183,1352.78 184.5,1352.81 186,1352.85 187.5,1352.88 189,1352.91 190.5,1352.95 192,1352.98 193.5,1353.01 195,1353.04 196.5,1353.08 198,1353.11 199.5,1353.14 201,1353.18 202.5,1353.21 204,1353.24 205.5,1353.27 207,1353.3 208.5,1353.34 210,1353.37 211.5,1353.4 213,1353.43 214.5,1353.47 216,1353.5 217.5,1353.53 219,1353.56 220.5,1353.59 222,1353.63 223.5,1353.66 225,1353.69 226.5,1353.72 228,1353.75 229.5,1353.78 231,1353.81 232.5,1353.85 234,1353.88 235.5,1353.91 237,1353.94 238.5,1353.97 240,1354 241.5,1354.03 243,1354.06 244.5,1354.09 246,1354.12 247.5,1354.15 249,1354.18 250.5,1354.21 252,1354.24 253.5,1354.27 255,1354.3 256.5,1354.33 258,1354.36 259.5,1354.39 261,1354.42 262.5,1354.45 264,1354.48 265.5,1354.5 267,1354.53 268.5,1354.56 270,1354.59 271.5,1354.62 273,1354.64 274.5,1354.67 276,1354.7 277.5,1354.73 279,1354.75 280.5,1354.78 282,1354.8 283.5,1354.83 285,1354.86 286.5,1354.88 288,1354.9 289.5,1354.93 291,1354.95 292.5,1354.98 294,1355 295.5,1355.02 297,1355.04 298.5,1355.06 300,1355.08 301.5,1355.1 303,1355.12 304.5,1355.13 306,1355.15 307.5,1355.16 309,1355.18 310.5,1355.19 312,1355.2 313.5,1355.21 315,1355.21 316.5,1355.22 318,1355.22 319.5,1355.22 321,1355.21 322.5,1355.21 324,1355.2 325.5,1355.18 327,1355.17 328.5,1355.15 330,1355.12 331.5,1355.09 333,1355.06 334.5,1355.01 336,1354.97 337.5,1354.91 339,1354.85 340.5,1354.78 342,1354.71 343.5,1354.62 345,1354.53 346.5,1354.42 348,1354.31 349.5,1354.18 351,1354.04 352.5,1353.89 354,1353.73 355.5,1353.55 357,1353.36 358.5,1353.15 360,1352.93 361.5,1352.68 363,1352.42 364.5,1352.14 366,1351.84 367.5,1351.52 369,1351.18 370.5,1350.82 372,1350.43 373.5,1350.02 375,1349.59 376.5,1349.13 378,1348.65 379.5,1348.13 381,1347.6 382.5,1347.03 384,1346.44 385.5,1345.82 387,1345.17 388.5,1344.49 390,1343.79 391.5,1343.06 393,1342.3 394.5,1341.51 396,1340.69 397.5,1339.85 399,1338.99 400.5,1338.09 402,1337.18 403.5,1336.24 405,1335.27 406.5,1334.29 408,1333.29 409.5,1332.27 411,1331.24 412.5,1330.19 414,1329.14 415.5,1328.07 417,1326.99 418.5,1325.92 420,1324.84 421.5,1323.76 423,1322.69 424.5,1321.62 426,1320.56 427.5,1319.52 429,1318.49 430.5,1317.49 432,1316.51 433.5,1315.55 435,1314.63 436.5,1313.73 438,1312.88 439.5,1312.07 441,1311.3 442.5,1310.58 444,1309.91 445.5,1309.29 447,1308.74 448.5,1308.24 450,1307.8 451.5,1307.43 453,1307.12 454.5,1306.89 456,1306.72 457.5,1306.63 459,1306.6 460.5,1306.65 462,1306.77 463.5,1306.96 465,1307.22 466.5,1307.55 468,1307.95 469.5,1308.41 471,1308.94 472.5,1309.53 474,1310.18 475.5,1310.89 477,1311.65 478.5,1312.46 480,1313.31 481.5,1314.21 483,1315.15 484.5,1316.12 486,1317.13 487.5,1318.16 489,1319.23 490.5,1320.31 492,1321.41 493.5,1322.53 495,1323.66 496.5,1324.8 498,1325.95 499.5,1327.1 501,1328.25 502.5,1329.4 504,1330.54 505.5,1331.68 507,1332.8 508.5,1333.92 510,1335.02 511.5,1336.1 513,1337.17 514.5,1338.22 516,1339.24 517.5,1340.24 519,1341.22 520.5,1342.18 522,1343.11 523.5,1344.02 525,1344.89 526.5,1345.74 528,1346.57 529.5,1347.36 531,1348.13 532.5,1348.87 534,1349.58 535.5,1350.26 537,1350.91 538.5,1351.54 540,1352.14 541.5,1352.71 543,1353.26 544.5,1353.78 546,1354.28 547.5,1354.75 549,1355.2 550.5,1355.63 552,1356.04 553.5,1356.42 555,1356.78 556.5,1357.13 558,1357.45 559.5,1357.76 561,1358.05 562.5,1358.33 564,1358.59 565.5,1358.83 567,1359.06 568.5,1359.28 570,1359.49 571.5,1359.68 573,1359.86 574.5,1360.03 576,1360.2 577.5,1360.35 579,1360.5 580.5,1360.63 582,1360.76 583.5,1360.89 585,1361 586.5,1361.11 588,1361.22 589.5,1361.32 591,1361.41 592.5,1361.5 594,1361.59 595.5,1361.67 597,1361.75 598.5,1361.83 600,1361.91 601.5,1361.98 603,1362.05 604.5,1362.11 606,1362.18 607.5,1362.24 609,1362.3 610.5,1362.36 612,1362.42 613.5,1362.47 615,1362.53 616.5,1362.58 618,1362.64 619.5,1362.69 621,1362.74 622.5,1362.79 624,1362.84 625.5,1362.89 627,1362.94 628.5,1362.99 630,1363.04 631.5,1363.08 633,1363.13 634.5,1363.18 636,1363.22 637.5,1363.27 639,1363.31 640.5,1363.36 642,1363.4 643.5,1363.45 645,1363.49 646.5,1363.54 648,1363.58 649.5,1363.62 651,1363.67 652.5,1363.71 654,1363.75 655.5,1363.8 657,1363.84 658.5,1363.88 660,1363.92" fill="none" stroke="#00ffff" stroke-width="8.5" stroke-linejoin="round" stroke-linecap="round" />
<polyline points="123,1351.46 124.5,1351.49 126,1351.53 127.5,1351.56 129,1351.6 130.5,1351.63 132,1351.66 133.5,1351.7 135,1351.73 136.5,1351.77 138,1351.8 139.5,1351.84 141,1351.87 142.5,1351.91 144,1351.94 145.5,1351.98 147,1352.01 148.5,1352.04 150,1352.08 151.5,1352.11 153,1352.15 154.5,1352.18 156,1352.22 157.5,1352.25 159,1352.29 160.5,1352.32 162,1352.35 163.5,1352.39 165,1352.42 166.5,1352.46 168,1352.49 169.5,1352.53 171,1352.56 172.5,1352.59 174,1352.63 175.5,1352.66 177,1352.7 178.5,1352.73 180,1352.77 181.5,1352.8 183,1352.83 184.5,1352.87 186,1352.9 187.5,1352.94 189,1352.97 190.5,1353 192,1353.04 193.5,1353.07 195,1353.11 196.5,1353.14 198,1353.17 199.5,1353.21 201,1353.24 202.5,1353.28 204,1353.31 205.5,1353.34 207,1353.38 208.5,1353.41 210,1353.44 211.5,1353.48 213,1353.51 214.5,1353.55 216,1353.58 217.5,1353.61 219,1353.65 220.5,1353.68 222,1353.71 223.5,1353.75 225,1353.78 226.5,1353.81 228,1353.85 229.5,1353.88 231,1353.91 232.5,1353.95 234,1353.98 235.5,1354.01 237,1354.05 238.5,1354.08 240,1354.11 241.5,1354.15 243,1354.18 244.5,1354.21 246,1354.25 247.5,1354.28 249,1354.31 250.5,1354.34 252,1354.38 253.5,1354.41 255,1354.44 256.5,1354.47 258,1354.51 259.5,1354.54 261,1354.57 262.5,1354.6 264,1354.64 265.5,1354.67 267,1354.7 268.5,1354.73 270,1354.77 271.5,1354.8 273,1354.83 274.5,1354.86 276,1354.89 277.5,1354.93 279,1354.96 280.5,1354.99 282,1355.02 283.5,1355.05 285,1355.08 286.5,1355.12 288,1355.15 289.5,1355.18 291,1355.21 292.5,1355.24 294,1355.27 295.5,1355.3 297,1355.33 298.5,1355.37 300,1355.4 301.5,1355.43 303,1355.46 304.5,1355.49 306,1355.52 307.5,1355.55 309,1355.58 310.5,1355.61 312,1355.64 313.5,1355.67 315,1355.7 316.5,1355.73 318,1355.76 319.5,1355.79 321,1355.82 322.5,1355.85 324,1355.88 325.5,1355.91 327,1355.93 328.5,1355.96 330,1355.99 331.5,1356.02 333,1356.05 334.5,1356.08 336,1356.1 337.5,1356.13 339,1356.16 340.5,1356.19 342,1356.21 343.5,1356.24 345,1356.27 346.5,1356.3 348,1356.32 349.5,1356.35 351,1356.37 352.5,1356.4 354,1356.43 355.5,1356.45 357,1356.48 358.5,1356.5 360,1356.53 361.5,1356.55 363,1356.57 364.5,1356.6 366,1356.62 367.5,1356.65 369,1356.67 370.5,1356.69 372,1356.71 373.5,1356.74 375,1356.76 376.5,1356.78 378,1356.8 379.5,1356.82 381,1356.84 382.5,1356.86 384,1356.88 385.5,1356.9 387,1356.92 388.5,1356.94 390,1356.96 391.5,1356.97 393,1356.99 394.5,1357.01 396,1357.02 397.5,1357.04 399,1357.05 400.5,1357.06 402,1357.08 403.5,1357.09 405,1357.1 406.5,1357.11 408,1357.12 409.5,1357.13 411,1357.14 412.5,1357.15 414,1357.16 415.5,1357.16 417,1357.17 418.5,1357.17 420,1357.18 421.5,1357.18 423,1357.18 424.5,1357.18 426,1357.18 427.5,1357.17 429,1357.17 430.5,1357.16 432,1357.16 433.5,1357.15 435,1357.14 436.5,1357.13 438,1357.11 439.5,1357.1 441,1357.08 442.5,1357.06 444,1357.03 445.5,1357.01 447,1356.98 448.5,1356.94 450,1356.91 451.5,1356.87 453,1356.82 454.5,1356.77 456,1356.71 457.5,1356.64 459,1356.57 460.5,1356.49 462,1356.39 463.5,1356.28 465,1356.16 466.5,1356.01 468,1355.85 469.5,1355.65 471,1355.43 472.5,1355.18 474,1354.88 475.5,1354.53 477,1354.13 478.5,1353.67 480,1353.13 481.5,1352.51 483,1351.79 484.5,1350.97 486,1350.02 487.5,1348.93 489,1347.68 490.5,1346.27 492,1344.66 493.5,1342.83 495,1340.78 496.5,1338.47 498,1335.89 499.5,1333.02 501,1329.83 502.5,1326.31 504,1322.44 505.5,1318.2 507,1313.58 508.5,1308.57 510,1303.17 511.5,1297.37 513,1291.17 514.5,1284.58 516,1277.62 517.5,1270.31 519,1262.66 520.5,1254.72 522,1246.51 523.5,1238.09 525,1229.51 526.5,1220.83 528,1212.1 529.5,1203.41 531,1194.82 532.5,1186.42 534,1178.29 535.5,1170.51 537,1163.18 538.5,1156.39 540,1150.22 541.5,1144.75 543,1140.07 544.5,1136.24 546,1133.34 547.5,1131.39 549,1130.45 550.5,1130.52 552,1131.6 553.5,1133.68 555,1136.72 556.5,1140.68 558,1145.49 559.5,1151.07 561,1157.36 562.5,1164.27 564,1171.7 565.5,1179.57 567,1187.8 568.5,1196.28 570,1204.95 571.5,1213.72 573,1222.52 574.5,1231.27 576,1239.91 577.5,1248.39 579,1256.65 580.5,1264.65 582,1272.34 583.5,1279.71 585,1286.71 586.5,1293.35 588,1299.59 589.5,1305.43 591,1310.88 592.5,1315.94 594,1320.6 595.5,1324.89 597,1328.81 598.5,1332.38 600,1335.62 601.5,1338.54 603,1341.17 604.5,1343.53 606,1345.64 607.5,1347.52 609,1349.19 610.5,1350.67 612,1351.97 613.5,1353.12 615,1354.13 616.5,1355.02 618,1355.8 619.5,1356.49 621,1357.09 622.5,1357.63 624,1358.09 625.5,1358.51 627,1358.87 628.5,1359.2 630,1359.49 631.5,1359.75 633,1359.99 634.5,1360.2 636,1360.4 637.5,1360.58 639,1360.74 640.5,1360.9 642,1361.04 643.5,1361.18 645,1361.31 646.5,1361.43 648,1361.55 649.5,1361.66 651,1361.77 652.5,1361.87 654,1361.97 655.5,1362.07 657,1362.16 658.5,1362.26 660,1362.35" fill="none" stroke="#ff00ff" stroke-width="8.5" stroke-linejoin="round" stroke-linecap="round" />
<polyline points="123,1351.53 124.5,1351.57 126,1351.6 127.5,1351.64 129,1351.67 130.5,1351.71 132,1351.74 133.5,1351.78 135,1351.81 136.5,1351.85 138,1351.88 139.5,1351.92 141,1351.95 142.5,1351.99 144,1352.02 145.5,1352.06 147,1352.09 148.5,1352.13 150,1352.16 151.5,1352.2 153,1352.23 154.5,1352.27 156,1352.3 157.5,1352.34 159,1352.37 160.5,1352.41 162,1352.44 163.5,1352.48 165,1352.51 166.5,1352.55 168,1352.58 169.5,1352.62 171,1352.65 172.5,1352.69 174,1352.72 175.5,1352.76 177,1352.79 178.5,1352.83 180,1352.86 181.5,1352.9 183,1352.93 184.5,1352.97 186,1353 187.5,1353.04 189,1353.07 190.5,1353.11 192,1353.14 193.5,1353.17 195,1353.21 196.5,1353.24 198,1353.28 199.5,1353.31 201,1353.35 202.5,1353.38 204,1353.42 205.5,1353.45 207,1353.49 208.5,1353.52 210,1353.56 211.5,1353.59 213,1353.62 214.5,1353.66 216,1353.69 217.5,1353.73 219,1353.76 220.5,1353.8 222,1353.83 223.5,1353.87 225,1353.9 226.5,1353.93 228,1353.97 229.5,1354 231,1354.04 232.5,1354.07 234,1354.11 235.5,1354.14 237,1354.17 238.5,1354.21 240,1354.24 241.5,1354.28 243,1354.31 244.5,1354.34 246,1354.38 247.5,1354.41 249,1354.45 250.5,1354.48 252,1354.51 253.5,1354.55 255,1354.58 256.5,1354.62 258,1354.65 259.5,1354.68 261,1354.72 262.5,1354.75 264,1354.78 265.5,1354.82 267,1354.85 268.5,1354.88 270,1354.92 271.5,1354.95 273,1354.98 274.5,1355.02 276,1355.05 277.5,1355.08 279,1355.12 280.5,1355.15 282,1355.18 283.5,1355.22 285,1355.25 286.5,1355.28 288,1355.31 289.5,1355.35 291,1355.38 292.5,1355.41 294,1355.45 295.5,1355.48 297,1355.51 298.5,1355.54 300,1355.57 301.5,1355.61 303,1355.64 304.5,1355.67 306,1355.7 307.5,1355.73 309,1355.77 310.5,1355.8 312,1355.83 313.5,1355.86 315,1355.89 316.5,1355.92 318,1355.96 319.5,1355.99 321,1356.02 322.5,1356.05 324,1356.08 325.5,1356.11 327,1356.14 328.5,1356.17 330,1356.2 331.5,1356.23 333,1356.26 334.5,1356.29 336,1356.32 337.5,1356.35 339,1356.38 340.5,1356.41 342,1356.44 343.5,1356.47 345,1356.49 346.5,1356.52 348,1356.55 349.5,1356.58 351,1356.61 352.5,1356.63 354,1356.66 355.5,1356.69 357,1356.71 358.5,1356.74 360,1356.77 361.5,1356.79 363,1356.82 364.5,1356.84 366,1356.87 367.5,1356.89 369,1356.92 370.5,1356.94 372,1356.96 373.5,1356.99 375,1357.01 376.5,1357.03 378,1357.05 379.5,1357.08 381,1357.1 382.5,1357.12 384,1357.14 385.5,1357.15 387,1357.17 388.5,1357.19 390,1357.21 391.5,1357.22 393,1357.24 394.5,1357.25 396,1357.27 397.5,1357.28 399,1357.29 400.5,1357.3 402,1357.31 403.5,1357.32 405,1357.33 406.5,1357.34 408,1357.34 409.5,1357.34 411,1357.34 412.5,1357.34 414,1357.34 415.5,1357.33 417,1357.32 418.5,1357.3 420,1357.29 421.5,1357.26 423,1357.23 424.5,1357.19 426,1357.14 427.5,1357.08 429,1357.01 430.5,1356.92 432,1356.81 433.5,1356.68 435,1356.53 436.5,1356.34 438,1356.12 439.5,1355.86 441,1355.54 442.5,1355.18 444,1354.74 445.5,1354.24 447,1353.65 448.5,1352.96 450,1352.17 451.5,1351.27 453,1350.23 454.5,1349.05 456,1347.72 457.5,1346.22 459,1344.54 460.5,1342.67 462,1340.59 463.5,1338.31 465,1335.82 466.5,1333.11 468,1330.18 469.5,1327.02 471,1323.66 472.5,1320.1 474,1316.34 475.5,1312.42 477,1308.34 478.5,1304.15 480,1299.86 481.5,1295.51 483,1291.15 484.5,1286.82 486,1282.56 487.5,1278.42 489,1274.45 490.5,1270.72 492,1267.27 493.5,1264.15 495,1261.42 496.5,1259.12 498,1257.31 499.5,1256 501,1255.24 502.5,1255.03 504,1255.39 505.5,1256.29 507,1257.74 508.5,1259.69 510,1262.12 511.5,1264.98 513,1268.21 514.5,1271.78 516,1275.62 517.5,1279.68 519,1283.91 520.5,1288.25 522,1292.67 523.5,1297.1 525,1301.51 526.5,1305.86 528,1310.11 529.5,1314.24 531,1318.22 532.5,1322.02 534,1325.63 535.5,1329.03 537,1332.23 538.5,1335.2 540,1337.96 541.5,1340.49 543,1342.81 544.5,1344.93 546,1346.85 547.5,1348.57 549,1350.12 550.5,1351.51 552,1352.74 553.5,1353.83 555,1354.79 556.5,1355.64 558,1356.38 559.5,1357.03 561,1357.59 562.5,1358.09 564,1358.52 565.5,1358.9 567,1359.23 568.5,1359.51 570,1359.77 571.5,1359.99 573,1360.19 574.5,1360.36 576,1360.52 577.5,1360.66 579,1360.79 580.5,1360.91 582,1361.02 583.5,1361.12 585,1361.22 586.5,1361.31 588,1361.4 589.5,1361.48 591,1361.56 592.5,1361.63 594,1361.7 595.5,1361.77 597,1361.84 598.5,1361.91 600,1361.97 601.5,1362.04 603,1362.1 604.5,1362.16 606,1362.22 607.5,1362.28 609,1362.34 610.5,1362.4 612,1362.45 613.5,1362.51 615,1362.57 616.5,1362.62 618,1362.67 619.5,1362.73 621,1362.78 622.5,1362.83 624,1362.88 625.5,1362.93 627,1362.98 628.5,1363.03 630,1363.08 631.5,1363.13 633,1363.18 634.5,1363.23 636,1363.27 637.5,1363.32 639,1363.37 640.5,1363.41 642,1363.46 643.5,1363.51 645,1363.55 646.5,1363.6 648,1363.64 649.5,1363.69 651,1363.73 652.5,1363.77 654,1363.82 655.5,1363.86 657,1363.91 658.5,1363.95 660,1363.99" fill="none" stroke="#ffff00" stroke-width="8.5" stroke-linejoin="round" stroke-linecap="round" />
<polyline points="123,1351.6 660,1364.38" fill="none" stroke="#808000" stroke-width="8.5" stroke-linejoin="round" stroke-linecap="round" />
<path d="M123.0,1338.0 C130.7,1337.1 147.8,1334.5 169.0,1332.7 C190.2,1330.9 223.0,1328.7 250.0,1327.3 C277.0,1325.9 310.7,1325.7 331.0,1324.6 C351.3,1323.5 360.7,1322.6 372.0,1320.6 C383.3,1318.6 390.5,1315.8 399.0,1312.4 C407.5,1309.0 415.4,1304.6 423.0,1300.0 C430.6,1295.4 438.3,1290.7 444.4,1285.0 C450.5,1279.3 454.8,1273.6 459.5,1265.7 C464.2,1257.8 467.8,1247.8 472.4,1237.8 C477.0,1227.8 482.4,1217.1 487.4,1205.6 C492.4,1194.1 498.1,1179.8 502.4,1169.0 C506.7,1158.2 510.0,1152.8 513.2,1141.0 C516.4,1129.2 518.9,1110.5 521.8,1098.0 C524.7,1085.5 527.2,1078.5 530.4,1066.0 C533.6,1053.5 538.2,1033.0 541.1,1023.0 C544.0,1013.0 546.0,1009.7 548.0,1006.0 C550.0,1002.3 551.2,1001.0 552.9,1001.0 C554.6,1001.0 556.0,1002.3 558.0,1006.0 C560.0,1009.7 562.2,1012.3 564.7,1023.0 C567.2,1033.7 570.4,1053.9 573.3,1070.0 C576.2,1086.1 579.1,1102.4 582.0,1119.6 C584.9,1136.8 587.3,1153.6 590.5,1173.3 C593.7,1193.0 597.7,1218.1 601.3,1237.8 C604.9,1257.5 607.7,1276.5 612.0,1291.5 C616.3,1306.5 621.6,1318.7 627.0,1328.0 C632.4,1337.3 638.9,1342.6 644.2,1347.3 C649.5,1352.0 656.5,1354.5 659.0,1356.0" fill="none" stroke="#000080" stroke-width="9.5" stroke-linejoin="round" stroke-linecap="round" />
<rect x="787.2" y="976" width="550.4" height="397.5" fill="none" stroke="#000" stroke-width="3"/>
<line x1="838.7" y1="1375" x2="838.7" y2="1380" stroke="#000" stroke-width="2.5" stroke-linecap="butt"/>
<line x1="940.4" y1="1375" x2="940.4" y2="1380" stroke="#000" stroke-width="2.5" stroke-linecap="butt"/>
<line x1="1042.1" y1="1375" x2="1042.1" y2="1380" stroke="#000" stroke-width="2.5" stroke-linecap="butt"/>
<line x1="1143.8" y1="1375" x2="1143.8" y2="1380" stroke="#000" stroke-width="2.5" stroke-linecap="butt"/>
<line x1="1245.5" y1="1375" x2="1245.5" y2="1380" stroke="#000" stroke-width="2.5" stroke-linecap="butt"/>
<line x1="781" y1="1347.5" x2="787.2" y2="1347.5" stroke="#000" stroke-width="2.5" stroke-linecap="butt"/>
<line x1="781" y1="1291.6" x2="787.2" y2="1291.6" stroke="#000" stroke-width="2.5" stroke-linecap="butt"/>
<line x1="781" y1="1235.7" x2="787.2" y2="1235.7" stroke="#000" stroke-width="2.5" stroke-linecap="butt"/>
<line x1="781" y1="1179.8" x2="787.2" y2="1179.8" stroke="#000" stroke-width="2.5" stroke-linecap="butt"/>
<line x1="781" y1="1123.9" x2="787.2" y2="1123.9" stroke="#000" stroke-width="2.5" stroke-linecap="butt"/>
<line x1="781" y1="1068" x2="787.2" y2="1068" stroke="#000" stroke-width="2.5" stroke-linecap="butt"/>
<line x1="781" y1="1012.1" x2="787.2" y2="1012.1" stroke="#000" stroke-width="2.5" stroke-linecap="butt"/>
<text transform="translate(815.5,1399.77) scale(0.2391,0.1808)" font-size="100" font-weight="normal" fill="#000" stroke="#000" stroke-width="4.29" stroke-linejoin="round">406</text>
<text transform="translate(918.39,1399.77) scale(0.2419,0.1808)" font-size="100" font-weight="normal" fill="#000" stroke="#000" stroke-width="4.26" stroke-linejoin="round">404</text>
<text transform="translate(1021,1399.77) scale(0.2407,0.1808)" font-size="100" font-weight="normal" fill="#000" stroke="#000" stroke-width="4.27" stroke-linejoin="round">402</text>
<text transform="translate(1122.1,1399.77) scale(0.2415,0.1808)" font-size="100" font-weight="normal" fill="#000" stroke="#000" stroke-width="4.26" stroke-linejoin="round">400</text>
<text transform="translate(1224.76,1399.77) scale(0.2325,0.1808)" font-size="100" font-weight="normal" fill="#000" stroke="#000" stroke-width="4.36" stroke-linejoin="round">398</text>
<text transform="translate(723.89,1017.08) scale(0.2410,0.1766)" font-size="100" font-weight="normal" fill="#000" stroke="#000" stroke-width="4.31" stroke-linejoin="round">5200</text>
<text transform="translate(723.89,1072.48) scale(0.2410,0.1766)" font-size="100" font-weight="normal" fill="#000" stroke="#000" stroke-width="4.31" stroke-linejoin="round">5000</text>
<text transform="translate(724.3,1128.37) scale(0.2391,0.1822)" font-size="100" font-weight="normal" fill="#000" stroke="#000" stroke-width="4.27" stroke-linejoin="round">4800</text>
<text transform="translate(724.3,1184.56) scale(0.2391,0.1935)" font-size="100" font-weight="normal" fill="#000" stroke="#000" stroke-width="4.16" stroke-linejoin="round">4600</text>
<text transform="translate(724.3,1240.26) scale(0.2391,0.1992)" font-size="100" font-weight="normal" fill="#000" stroke="#000" stroke-width="4.11" stroke-linejoin="round">4400</text>
<text transform="translate(724.3,1296.45) scale(0.2391,0.2048)" font-size="100" font-weight="normal" fill="#000" stroke="#000" stroke-width="4.06" stroke-linejoin="round">4200</text>
<text transform="translate(724.3,1352.75) scale(0.2391,0.2062)" font-size="100" font-weight="normal" fill="#000" stroke="#000" stroke-width="4.04" stroke-linejoin="round">4000</text>
<text transform="translate(905.21,1435.07) scale(0.3277,0.3364)" font-size="100" font-weight="bold" fill="#000">Binding Energy (eV)</text>
<text transform="translate(708.3,1333.37) rotate(-90) scale(0.3239,0.3229)" font-size="100" font-weight="bold" fill="#000">Intensity (Counts)</text>
<text transform="translate(800.39,1013.9) scale(0.3635,0.3229)" font-size="100" font-weight="bold" fill="#000">(c)</text>
<text transform="translate(1247.8,1015.47) scale(0.3742,0.3397)" font-size="100" font-weight="bold" fill="#1010e8">N 1s</text>
<line x1="805" y1="1089.5" x2="866" y2="1089.5" stroke="#000" stroke-width="9.5" stroke-linecap="round"/>
<text transform="translate(878.35,1096.32) scale(0.2539,0.2135)" font-size="100" font-weight="normal" fill="#000" stroke="#000" stroke-width="2.14" stroke-linejoin="round">Original</text>
<line x1="805" y1="1117.3" x2="866" y2="1117.3" stroke="#ff0000" stroke-width="9.5" stroke-linecap="round"/>
<text transform="translate(878.44,1124.14) scale(0.2180,0.2119)" font-size="100" font-weight="normal" fill="#000" stroke="#000" stroke-width="2.33" stroke-linejoin="round">C-N-C</text>
<line x1="805" y1="1145.8" x2="866" y2="1145.8" stroke="#00ff00" stroke-width="9.5" stroke-linecap="round"/>
<text transform="translate(877.69,1153.65) scale(0.2262,0.2180)" font-size="100" font-weight="normal" fill="#000" stroke="#000" stroke-width="2.25" stroke-linejoin="round">N-H</text>
<line x1="805" y1="1174.7" x2="866" y2="1174.7" stroke="#0000ff" stroke-width="9.5" stroke-linecap="round"/>
<line x1="805" y1="1204.9" x2="866" y2="1204.9" stroke="#00ffff" stroke-width="9.5" stroke-linecap="round"/>
<text transform="translate(877.5,1212.94) scale(0.2499,0.2151)" font-size="100" font-weight="normal" fill="#000" stroke="#000" stroke-width="2.15" stroke-linejoin="round">Baseline</text>
<line x1="805" y1="1233.8" x2="866" y2="1233.8" stroke="#ff00ff" stroke-width="9.5" stroke-linecap="round"/>
<text transform="translate(877.5,1240.64) scale(0.2497,0.2151)" font-size="100" font-weight="normal" fill="#000" stroke="#000" stroke-width="2.15" stroke-linejoin="round">Fitted</text>
<text transform="translate(878.14,1185.04) scale(0.2270,0.2565)" font-size="100" font-weight="normal" fill="#000" stroke="#000" stroke-width="2.07" stroke-linejoin="round">(C)</text>
<text transform="translate(910.32,1190.34) scale(0.1139,0.1102)" font-size="100" font-weight="normal" fill="#000" stroke="#000" stroke-width="2.68" stroke-linejoin="round">3</text>
<text transform="translate(918,1182.25) scale(0.2142,0.2108)" font-size="100" font-weight="normal" fill="#000" stroke="#000" stroke-width="2.35" stroke-linejoin="round">-N</text>
<polyline points="789,1322 789,1316 797,1330 803,1320 813.5,1340 823.7,1311 833.9,1342 844,1311 854.3,1354 860.4,1313 868.5,1344 878.7,1309 893,1356 908.2,1302 925.6,1338 940,1310 951,1278 958,1320 966.3,1281.5 970.4,1326 980.6,1296 990,1310 1001,1334 1007,1269 1013,1280 1019,1239 1025,1250 1032.5,1231 1036,1262 1042,1240 1050,1215 1060,1185 1070,1150 1080,1110 1088,1070 1092,1025 1099,994 1106,993 1113,999 1120,1008 1128,1020 1132,1087 1136,1110 1139,1126 1147,1100 1153,1106 1152,1150 1152,1178 1160,1165 1171,1160 1178,1172 1182,1185 1190,1165 1198,1141 1205,1125 1212,1100 1220,1075 1228,1060 1234,1055 1240,1065 1250,1078 1257,1102 1265,1156 1272,1220 1277.5,1274 1285,1300 1292,1325 1297,1351 1305,1345 1315,1352 1328,1355 1335,1362" fill="none" stroke="#000" stroke-width="9" stroke-linejoin="round" stroke-linecap="round" />
<polyline points="788,1349.57 789.5,1349.62 791,1349.66 792.5,1349.71 794,1349.75 795.5,1349.8 797,1349.84 798.5,1349.89 800,1349.93 801.5,1349.98 803,1350.02 804.5,1350.07 806,1350.11 807.5,1350.16 809,1350.2 810.5,1350.25 812,1350.29 813.5,1350.34 815,1350.38 816.5,1350.43 818,1350.47 819.5,1350.52 821,1350.56 822.5,1350.61 824,1350.65 825.5,1350.7 827,1350.74 828.5,1350.79 830,1350.83 831.5,1350.88 833,1350.92 834.5,1350.97 836,1351.01 837.5,1351.05 839,1351.1 840.5,1351.14 842,1351.19 843.5,1351.23 845,1351.28 846.5,1351.32 848,1351.37 849.5,1351.41 851,1351.45 852.5,1351.5 854,1351.54 855.5,1351.59 857,1351.63 858.5,1351.68 860,1351.72 861.5,1351.76 863,1351.81 864.5,1351.85 866,1351.9 867.5,1351.94 869,1351.98 870.5,1352.03 872,1352.07 873.5,1352.12 875,1352.16 876.5,1352.2 878,1352.25 879.5,1352.29 881,1352.33 882.5,1352.38 884,1352.42 885.5,1352.47 887,1352.51 888.5,1352.55 890,1352.6 891.5,1352.64 893,1352.68 894.5,1352.73 896,1352.77 897.5,1352.81 899,1352.86 900.5,1352.9 902,1352.94 903.5,1352.99 905,1353.03 906.5,1353.07 908,1353.11 909.5,1353.16 911,1353.2 912.5,1353.24 914,1353.29 915.5,1353.33 917,1353.37 918.5,1353.41 920,1353.46 921.5,1353.5 923,1353.54 924.5,1353.58 926,1353.63 927.5,1353.67 929,1353.71 930.5,1353.75 932,1353.79 933.5,1353.84 935,1353.88 936.5,1353.92 938,1353.96 939.5,1354 941,1354.04 942.5,1354.09 944,1354.13 945.5,1354.17 947,1354.21 948.5,1354.25 950,1354.29 951.5,1354.33 953,1354.37 954.5,1354.41 956,1354.46 957.5,1354.5 959,1354.54 960.5,1354.58 962,1354.62 963.5,1354.66 965,1354.7 966.5,1354.74 968,1354.78 969.5,1354.82 971,1354.86 972.5,1354.9 974,1354.94 975.5,1354.97 977,1355.01 978.5,1355.05 980,1355.09 981.5,1355.13 983,1355.17 984.5,1355.21 986,1355.25 987.5,1355.28 989,1355.32 990.5,1355.36 992,1355.4 993.5,1355.44 995,1355.47 996.5,1355.51 998,1355.55 999.5,1355.58 1001,1355.62 1002.5,1355.66 1004,1355.69 1005.5,1355.73 1007,1355.77 1008.5,1355.8 1010,1355.84 1011.5,1355.87 1013,1355.91 1014.5,1355.94 1016,1355.98 1017.5,1356.01 1019,1356.04 1020.5,1356.08 1022,1356.11 1023.5,1356.14 1025,1356.18 1026.5,1356.21 1028,1356.24 1029.5,1356.28 1031,1356.31 1032.5,1356.34 1034,1356.37 1035.5,1356.4 1037,1356.43 1038.5,1356.46 1040,1356.49 1041.5,1356.52 1043,1356.55 1044.5,1356.58 1046,1356.61 1047.5,1356.63 1049,1356.66 1050.5,1356.69 1052,1356.71 1053.5,1356.74 1055,1356.76 1056.5,1356.79 1058,1356.81 1059.5,1356.84 1061,1356.86 1062.5,1356.88 1064,1356.9 1065.5,1356.93 1067,1356.95 1068.5,1356.97 1070,1356.99 1071.5,1357 1073,1357.02 1074.5,1357.04 1076,1357.06 1077.5,1357.07 1079,1357.09 1080.5,1357.1 1082,1357.11 1083.5,1357.12 1085,1357.13 1086.5,1357.14 1088,1357.15 1089.5,1357.16 1091,1357.16 1092.5,1357.17 1094,1357.17 1095.5,1357.17 1097,1357.17 1098.5,1357.17 1100,1357.17 1101.5,1357.16 1103,1357.15 1104.5,1357.14 1106,1357.13 1107.5,1357.11 1109,1357.09 1110.5,1357.07 1112,1357.04 1113.5,1357.01 1115,1356.97 1116.5,1356.93 1118,1356.88 1119.5,1356.82 1121,1356.76 1122.5,1356.68 1124,1356.59 1125.5,1356.49 1127,1356.38 1128.5,1356.24 1130,1356.09 1131.5,1355.92 1133,1355.72 1134.5,1355.5 1136,1355.24 1137.5,1354.95 1139,1354.62 1140.5,1354.24 1142,1353.82 1143.5,1353.34 1145,1352.79 1146.5,1352.17 1148,1351.48 1149.5,1350.7 1151,1349.83 1152.5,1348.85 1154,1347.75 1155.5,1346.53 1157,1345.17 1158.5,1343.66 1160,1342 1161.5,1340.16 1163,1338.13 1164.5,1335.9 1166,1333.45 1167.5,1330.79 1169,1327.88 1170.5,1324.71 1172,1321.29 1173.5,1317.58 1175,1313.59 1176.5,1309.31 1178,1304.71 1179.5,1299.81 1181,1294.58 1182.5,1289.04 1184,1283.17 1185.5,1276.98 1187,1270.48 1188.5,1263.67 1190,1256.55 1191.5,1249.15 1193,1241.47 1194.5,1233.54 1196,1225.38 1197.5,1217.02 1199,1208.47 1200.5,1199.79 1202,1190.99 1203.5,1182.12 1205,1173.23 1206.5,1164.35 1208,1155.53 1209.5,1146.82 1211,1138.27 1212.5,1129.94 1214,1121.88 1215.5,1114.14 1217,1106.78 1218.5,1099.84 1220,1093.4 1221.5,1087.49 1223,1082.17 1224.5,1077.49 1226,1073.48 1227.5,1070.18 1229,1067.63 1230.5,1065.85 1232,1064.86 1233.5,1064.66 1235,1065.27 1236.5,1066.67 1238,1068.86 1239.5,1071.8 1241,1075.48 1242.5,1079.86 1244,1084.9 1245.5,1090.55 1247,1096.77 1248.5,1103.51 1250,1110.72 1251.5,1118.33 1253,1126.3 1254.5,1134.57 1256,1143.09 1257.5,1151.8 1259,1160.65 1260.5,1169.59 1262,1178.58 1263.5,1187.56 1265,1196.5 1266.5,1205.35 1268,1214.08 1269.5,1222.64 1271,1231.02 1272.5,1239.19 1274,1247.11 1275.5,1254.77 1277,1262.16 1278.5,1269.25 1280,1276.03 1281.5,1282.5 1283,1288.65 1284.5,1294.48 1286,1299.99 1287.5,1305.18 1289,1310.06 1290.5,1314.62 1292,1318.88 1293.5,1322.85 1295,1326.54 1296.5,1329.95 1298,1333.1 1299.5,1336.01 1301,1338.68 1302.5,1341.12 1304,1343.36 1305.5,1345.41 1307,1347.27 1308.5,1348.97 1310,1350.51 1311.5,1351.9 1313,1353.17 1314.5,1354.31 1316,1355.34 1317.5,1356.27 1319,1357.1 1320.5,1357.86 1322,1358.54 1323.5,1359.15 1325,1359.71 1326.5,1360.2 1328,1360.66 1329.5,1361.06 1331,1361.43 1332.5,1361.77 1334,1362.08 1335.5,1362.36" fill="none" stroke="#ff0000" stroke-width="9" stroke-linejoin="round" stroke-linecap="round" />
<polyline points="788,1349.28 789.5,1349.32 791,1349.36 792.5,1349.4 794,1349.44 795.5,1349.48 797,1349.53 798.5,1349.57 800,1349.61 801.5,1349.65 803,1349.69 804.5,1349.73 806,1349.77 807.5,1349.82 809,1349.86 810.5,1349.9 812,1349.94 813.5,1349.98 815,1350.02 816.5,1350.06 818,1350.1 819.5,1350.14 821,1350.18 822.5,1350.22 824,1350.26 825.5,1350.3 827,1350.34 828.5,1350.38 830,1350.42 831.5,1350.46 833,1350.5 834.5,1350.54 836,1350.58 837.5,1350.62 839,1350.66 840.5,1350.7 842,1350.74 843.5,1350.77 845,1350.81 846.5,1350.85 848,1350.89 849.5,1350.93 851,1350.97 852.5,1351 854,1351.04 855.5,1351.08 857,1351.12 858.5,1351.15 860,1351.19 861.5,1351.23 863,1351.27 864.5,1351.3 866,1351.34 867.5,1351.38 869,1351.41 870.5,1351.45 872,1351.48 873.5,1351.52 875,1351.55 876.5,1351.59 878,1351.62 879.5,1351.66 881,1351.69 882.5,1351.73 884,1351.76 885.5,1351.8 887,1351.83 888.5,1351.86 890,1351.9 891.5,1351.93 893,1351.96 894.5,1351.99 896,1352.03 897.5,1352.06 899,1352.09 900.5,1352.12 902,1352.15 903.5,1352.18 905,1352.21 906.5,1352.24 908,1352.27 909.5,1352.3 911,1352.33 912.5,1352.36 914,1352.39 915.5,1352.41 917,1352.44 918.5,1352.47 920,1352.49 921.5,1352.52 923,1352.54 924.5,1352.57 926,1352.59 927.5,1352.61 929,1352.64 930.5,1352.66 932,1352.68 933.5,1352.7 935,1352.72 936.5,1352.74 938,1352.76 939.5,1352.77 941,1352.79 942.5,1352.8 944,1352.81 945.5,1352.82 947,1352.83 948.5,1352.84 950,1352.85 951.5,1352.85 953,1352.85 954.5,1352.85 956,1352.84 957.5,1352.83 959,1352.82 960.5,1352.81 962,1352.78 963.5,1352.76 965,1352.73 966.5,1352.69 968,1352.64 969.5,1352.59 971,1352.53 972.5,1352.46 974,1352.38 975.5,1352.29 977,1352.19 978.5,1352.07 980,1351.94 981.5,1351.79 983,1351.62 984.5,1351.43 986,1351.22 987.5,1350.99 989,1350.73 990.5,1350.44 992,1350.12 993.5,1349.77 995,1349.38 996.5,1348.95 998,1348.48 999.5,1347.96 1001,1347.39 1002.5,1346.77 1004,1346.09 1005.5,1345.34 1007,1344.53 1008.5,1343.65 1010,1342.69 1011.5,1341.66 1013,1340.53 1014.5,1339.31 1016,1338 1017.5,1336.58 1019,1335.06 1020.5,1333.42 1022,1331.66 1023.5,1329.78 1025,1327.77 1026.5,1325.62 1028,1323.33 1029.5,1320.88 1031,1318.29 1032.5,1315.54 1034,1312.63 1035.5,1309.54 1037,1306.29 1038.5,1302.86 1040,1299.26 1041.5,1295.47 1043,1291.5 1044.5,1287.34 1046,1283 1047.5,1278.47 1049,1273.75 1050.5,1268.85 1052,1263.77 1053.5,1258.5 1055,1253.07 1056.5,1247.46 1058,1241.68 1059.5,1235.75 1061,1229.67 1062.5,1223.45 1064,1217.1 1065.5,1210.63 1067,1204.05 1068.5,1197.38 1070,1190.63 1071.5,1183.81 1073,1176.94 1074.5,1170.05 1076,1163.14 1077.5,1156.23 1079,1149.35 1080.5,1142.52 1082,1135.75 1083.5,1129.07 1085,1122.5 1086.5,1116.06 1088,1109.78 1089.5,1103.67 1091,1097.76 1092.5,1092.07 1094,1086.63 1095.5,1081.45 1097,1076.56 1098.5,1071.98 1100,1067.72 1101.5,1063.81 1103,1060.27 1104.5,1057.1 1106,1054.34 1107.5,1051.98 1109,1050.04 1110.5,1048.53 1112,1047.47 1113.5,1046.84 1115,1046.66 1116.5,1046.93 1118,1047.65 1119.5,1048.81 1121,1050.41 1122.5,1052.44 1124,1054.9 1125.5,1057.76 1127,1061.01 1128.5,1064.65 1130,1068.65 1131.5,1073 1133,1077.68 1134.5,1082.66 1136,1087.93 1137.5,1093.47 1139,1099.25 1140.5,1105.26 1142,1111.46 1143.5,1117.84 1145,1124.37 1146.5,1131.03 1148,1137.81 1149.5,1144.67 1151,1151.59 1152.5,1158.57 1154,1165.56 1155.5,1172.57 1157,1179.56 1158.5,1186.51 1160,1193.42 1161.5,1200.27 1163,1207.04 1164.5,1213.71 1166,1220.27 1167.5,1226.72 1169,1233.03 1170.5,1239.21 1172,1245.23 1173.5,1251.1 1175,1256.8 1176.5,1262.33 1178,1267.68 1179.5,1272.86 1181,1277.86 1182.5,1282.66 1184,1287.29 1185.5,1291.72 1187,1295.97 1188.5,1300.04 1190,1303.92 1191.5,1307.62 1193,1311.14 1194.5,1314.49 1196,1317.66 1197.5,1320.67 1199,1323.52 1200.5,1326.2 1202,1328.74 1203.5,1331.12 1205,1333.37 1206.5,1335.47 1208,1337.45 1209.5,1339.3 1211,1341.03 1212.5,1342.65 1214,1344.16 1215.5,1345.56 1217,1346.87 1218.5,1348.09 1220,1349.23 1221.5,1350.28 1223,1351.25 1224.5,1352.15 1226,1352.99 1227.5,1353.77 1229,1354.48 1230.5,1355.14 1232,1355.76 1233.5,1356.32 1235,1356.84 1236.5,1357.33 1238,1357.77 1239.5,1358.19 1241,1358.57 1242.5,1358.92 1244,1359.25 1245.5,1359.55 1247,1359.83 1248.5,1360.09 1250,1360.33 1251.5,1360.56 1253,1360.77 1254.5,1360.97 1256,1361.15 1257.5,1361.33 1259,1361.49 1260.5,1361.64 1262,1361.79 1263.5,1361.93 1265,1362.06 1266.5,1362.18 1268,1362.3 1269.5,1362.42 1271,1362.52 1272.5,1362.63 1274,1362.73 1275.5,1362.83 1277,1362.93 1278.5,1363.02 1280,1363.11 1281.5,1363.2 1283,1363.28 1284.5,1363.37 1286,1363.45 1287.5,1363.53 1289,1363.61 1290.5,1363.69 1292,1363.76 1293.5,1363.84 1295,1363.92 1296.5,1363.99 1298,1364.06 1299.5,1364.13 1301,1364.21 1302.5,1364.28 1304,1364.35 1305.5,1364.42 1307,1364.49 1308.5,1364.55 1310,1364.62 1311.5,1364.69 1313,1364.76 1314.5,1364.82 1316,1364.89 1317.5,1364.95 1319,1365.02 1320.5,1365.08 1322,1365.15 1323.5,1365.21 1325,1365.27 1326.5,1365.34 1328,1365.4 1329.5,1365.46 1331,1365.52 1332.5,1365.59 1334,1365.65 1335.5,1365.71" fill="none" stroke="#00ff00" stroke-width="9" stroke-linejoin="round" stroke-linecap="round" />
<polyline points="986,1307.24 987.5,1307.13 989,1307.03 990.5,1306.96 992,1306.9 993.5,1306.86 995,1306.83 996.5,1306.83 998,1306.84 999.5,1306.87 1001,1306.92 1002.5,1306.99 1004,1307.08 1005.5,1307.18 1007,1307.3 1008.5,1307.44 1010,1307.6 1011.5,1307.78 1013,1307.97 1014.5,1308.18 1016,1308.41 1017.5,1308.65 1019,1308.91 1020.5,1309.19 1022,1309.47 1023.5,1309.78 1025,1310.1 1026.5,1310.43 1028,1310.77 1029.5,1311.13 1031,1311.49 1032.5,1311.87 1034,1312.26 1035.5,1312.66 1037,1313.07 1038.5,1313.49 1040,1313.91 1041.5,1314.34 1043,1314.79 1044.5,1315.23 1046,1315.68 1047.5,1316.14 1049,1316.61 1050.5,1317.07 1052,1317.55 1053.5,1318.02 1055,1318.5 1056.5,1318.98 1058,1319.46 1059.5,1319.94 1061,1320.43 1062.5,1320.91 1064,1321.4 1065.5,1321.88 1067,1322.36 1068.5,1322.85 1070,1323.33 1071.5,1323.81 1073,1324.29 1074.5,1324.77 1076,1325.24 1077.5,1325.72 1079,1326.19 1080.5,1326.65 1082,1327.12 1083.5,1327.58 1085,1328.04 1086.5,1328.49 1088,1328.94 1089.5,1329.39 1091,1329.83 1092.5,1330.27 1094,1330.7 1095.5,1331.13 1097,1331.56 1098.5,1331.98 1100,1332.39 1101.5,1332.81 1103,1333.21 1104.5,1333.62 1106,1334.02 1107.5,1334.41 1109,1334.8 1110.5,1335.19 1112,1335.57 1113.5,1335.94 1115,1336.31 1116.5,1336.68 1118,1337.04 1119.5,1337.4 1121,1337.75 1122.5,1338.1 1124,1338.44 1125.5,1338.78 1127,1339.12 1128.5,1339.45 1130,1339.78 1131.5,1340.1 1133,1340.42 1134.5,1340.73 1136,1341.04 1137.5,1341.35 1139,1341.65 1140.5,1341.94 1142,1342.24 1143.5,1342.53 1145,1342.81 1146.5,1343.1 1148,1343.38 1149.5,1343.65 1151,1343.92 1152.5,1344.19 1154,1344.45 1155.5,1344.71 1157,1344.97 1158.5,1345.22 1160,1345.48 1161.5,1345.72 1163,1345.97 1164.5,1346.21 1166,1346.45 1167.5,1346.68 1169,1346.91 1170.5,1347.14 1172,1347.37 1173.5,1347.59 1175,1347.81 1176.5,1348.03 1178,1348.24 1179.5,1348.45 1181,1348.66 1182.5,1348.87 1184,1349.08 1185.5,1349.28 1187,1349.48 1188.5,1349.67 1190,1349.87 1191.5,1350.06 1193,1350.25 1194.5,1350.44 1196,1350.63 1197.5,1350.81 1199,1350.99 1200.5,1351.17 1202,1351.35 1203.5,1351.52 1205,1351.7 1206.5,1351.87 1208,1352.04 1209.5,1352.2 1211,1352.37 1212.5,1352.53 1214,1352.7 1215.5,1352.86 1217,1353.02 1218.5,1353.17 1220,1353.33 1221.5,1353.48 1223,1353.63 1224.5,1353.79 1226,1353.93 1227.5,1354.08 1229,1354.23 1230.5,1354.37 1232,1354.52 1233.5,1354.66 1235,1354.8 1236.5,1354.94 1238,1355.08 1239.5,1355.21 1241,1355.35 1242.5,1355.48 1244,1355.61 1245.5,1355.75 1247,1355.88 1248.5,1356 1250,1356.13 1251.5,1356.26 1253,1356.39 1254.5,1356.51 1256,1356.63 1257.5,1356.76 1259,1356.88 1260.5,1357 1262,1357.12 1263.5,1357.24 1265,1357.35 1266.5,1357.47 1268,1357.58 1269.5,1357.7 1271,1357.81 1272.5,1357.93 1274,1358.04 1275.5,1358.15 1277,1358.26 1278.5,1358.37 1280,1358.48 1281.5,1358.58 1283,1358.69 1284.5,1358.8 1286,1358.9 1287.5,1359.01 1289,1359.11 1290.5,1359.21 1292,1359.32 1293.5,1359.42 1295,1359.52 1296.5,1359.62 1298,1359.72 1299.5,1359.82 1301,1359.92 1302.5,1360.01 1304,1360.11 1305.5,1360.21 1307,1360.3 1308.5,1360.4 1310,1360.49 1311.5,1360.59 1313,1360.68 1314.5,1360.77 1316,1360.86 1317.5,1360.96 1319,1361.05 1320.5,1361.14 1322,1361.23 1323.5,1361.32 1325,1361.41 1326.5,1361.49 1328,1361.58 1329.5,1361.67 1331,1361.76 1332.5,1361.84 1334,1361.93 1335.5,1362.02" fill="none" stroke="#0000ff" stroke-width="9" stroke-linejoin="round" stroke-linecap="round" />
<polyline points="788,1349.79 1336,1366.84" fill="none" stroke="#00ffff" stroke-width="9" stroke-linejoin="round" stroke-linecap="round" />
<path d="M788.0,1339.5 C794.3,1338.7 812.6,1336.4 825.7,1334.4 C838.8,1332.4 852.9,1330.2 866.5,1327.3 C880.1,1324.4 893.6,1320.1 907.2,1317.1 C920.8,1314.0 936.1,1311.2 948.0,1309.0 C959.9,1306.8 970.0,1306.1 978.5,1303.9 C987.0,1301.7 992.1,1300.1 998.9,1295.7 C1005.7,1291.3 1012.5,1285.5 1019.3,1277.4 C1026.1,1269.3 1033.5,1257.8 1039.6,1246.9 C1045.7,1236.0 1050.7,1226.9 1056.0,1212.2 C1061.3,1197.5 1066.7,1178.8 1071.5,1159.0 C1076.3,1139.2 1080.3,1113.0 1084.7,1093.3 C1089.1,1073.6 1094.4,1051.9 1097.8,1040.7 C1101.2,1029.5 1102.6,1029.3 1105.0,1026.0 C1107.4,1022.7 1110.0,1021.2 1112.3,1021.0 C1114.6,1020.8 1116.6,1022.2 1119.0,1025.0 C1121.4,1027.8 1123.2,1028.8 1126.7,1038.0 C1130.2,1047.2 1135.5,1064.4 1139.9,1080.2 C1144.3,1096.0 1148.2,1117.0 1153.0,1132.8 C1157.8,1148.6 1164.2,1165.2 1168.8,1174.8 C1173.4,1184.4 1176.2,1190.6 1180.6,1190.6 C1185.0,1190.6 1190.5,1184.4 1195.1,1174.8 C1199.7,1165.2 1203.8,1148.6 1208.2,1132.8 C1212.6,1117.0 1218.1,1091.8 1221.4,1080.2 C1224.7,1068.6 1226.2,1066.9 1228.0,1063.0 C1229.8,1059.1 1230.7,1057.2 1232.4,1057.0 C1234.1,1056.8 1235.9,1059.0 1238.0,1062.0 C1240.1,1065.0 1242.7,1066.7 1245.1,1074.9 C1247.5,1083.1 1249.5,1097.7 1252.2,1111.3 C1254.9,1124.9 1258.3,1141.4 1261.3,1156.4 C1264.3,1171.5 1267.3,1185.0 1270.3,1201.6 C1273.3,1218.2 1276.3,1239.2 1279.3,1255.8 C1282.3,1272.3 1284.5,1287.4 1288.4,1300.9 C1292.3,1314.4 1297.4,1328.0 1302.8,1337.0 C1308.2,1346.0 1315.5,1350.9 1320.9,1355.1 C1326.3,1359.3 1332.9,1361.1 1335.3,1362.3" fill="none" stroke="#ff00ff" stroke-width="10" stroke-linejoin="round" stroke-linecap="round" />
<rect x="123.6" y="1465" width="537.2" height="399.8" fill="none" stroke="#000" stroke-width="3"/>
<line x1="216.6" y1="1866.3" x2="216.6" y2="1871.5" stroke="#000" stroke-width="2.5" stroke-linecap="butt"/>
<line x1="405.6" y1="1866.3" x2="405.6" y2="1871.5" stroke="#000" stroke-width="2.5" stroke-linecap="butt"/>
<line x1="594.6" y1="1866.3" x2="594.6" y2="1871.5" stroke="#000" stroke-width="2.5" stroke-linecap="butt"/>
<line x1="117" y1="1852.2" x2="123.6" y2="1852.2" stroke="#000" stroke-width="2.5" stroke-linecap="butt"/>
<line x1="117" y1="1806.25" x2="123.6" y2="1806.25" stroke="#000" stroke-width="2.5" stroke-linecap="butt"/>
<line x1="117" y1="1760.3" x2="123.6" y2="1760.3" stroke="#000" stroke-width="2.5" stroke-linecap="butt"/>
<line x1="117" y1="1714.35" x2="123.6" y2="1714.35" stroke="#000" stroke-width="2.5" stroke-linecap="butt"/>
<line x1="117" y1="1668.4" x2="123.6" y2="1668.4" stroke="#000" stroke-width="2.5" stroke-linecap="butt"/>
<line x1="117" y1="1622.45" x2="123.6" y2="1622.45" stroke="#000" stroke-width="2.5" stroke-linecap="butt"/>
<line x1="117" y1="1576.5" x2="123.6" y2="1576.5" stroke="#000" stroke-width="2.5" stroke-linecap="butt"/>
<line x1="117" y1="1530.55" x2="123.6" y2="1530.55" stroke="#000" stroke-width="2.5" stroke-linecap="butt"/>
<line x1="117" y1="1484.6" x2="123.6" y2="1484.6" stroke="#000" stroke-width="2.5" stroke-linecap="butt"/>
<text transform="translate(196.59,1890.65) scale(0.2389,0.2034)" font-size="100" font-weight="normal" fill="#000" stroke="#000" stroke-width="4.07" stroke-linejoin="round">534</text>
<text transform="translate(384.67,1890.65) scale(0.2440,0.2034)" font-size="100" font-weight="normal" fill="#000" stroke="#000" stroke-width="4.02" stroke-linejoin="round">532</text>
<text transform="translate(574.19,1890.65) scale(0.2403,0.2034)" font-size="100" font-weight="normal" fill="#000" stroke="#000" stroke-width="4.06" stroke-linejoin="round">530</text>
<text transform="translate(47.13,1858.66) scale(0.2386,0.1992)" font-size="100" font-weight="normal" fill="#000" stroke="#000" stroke-width="4.11" stroke-linejoin="round">10000</text>
<text transform="translate(47.13,1812.71) scale(0.2386,0.1992)" font-size="100" font-weight="normal" fill="#000" stroke="#000" stroke-width="4.11" stroke-linejoin="round">12000</text>
<text transform="translate(47.13,1766.76) scale(0.2386,0.1992)" font-size="100" font-weight="normal" fill="#000" stroke="#000" stroke-width="4.11" stroke-linejoin="round">14000</text>
<text transform="translate(47.13,1720.81) scale(0.2386,0.1992)" font-size="100" font-weight="normal" fill="#000" stroke="#000" stroke-width="4.11" stroke-linejoin="round">16000</text>
<text transform="translate(47.13,1674.86) scale(0.2386,0.1992)" font-size="100" font-weight="normal" fill="#000" stroke="#000" stroke-width="4.11" stroke-linejoin="round">18000</text>
<text transform="translate(47.76,1628.91) scale(0.2363,0.1992)" font-size="100" font-weight="normal" fill="#000" stroke="#000" stroke-width="4.13" stroke-linejoin="round">20000</text>
<text transform="translate(47.76,1582.96) scale(0.2363,0.1992)" font-size="100" font-weight="normal" fill="#000" stroke="#000" stroke-width="4.13" stroke-linejoin="round">22000</text>
<text transform="translate(47.76,1537.01) scale(0.2363,0.1992)" font-size="100" font-weight="normal" fill="#000" stroke="#000" stroke-width="4.13" stroke-linejoin="round">24000</text>
<text transform="translate(47.76,1491.06) scale(0.2363,0.1992)" font-size="100" font-weight="normal" fill="#000" stroke="#000" stroke-width="4.13" stroke-linejoin="round">26000</text>
<text transform="translate(237.55,1924.27) scale(0.3217,0.3225)" font-size="100" font-weight="bold" fill="#000">Binding Energy (eV)</text>
<text transform="translate(33.41,1824.76) rotate(-90) scale(0.3236,0.3079)" font-size="100" font-weight="bold" fill="#000">Intensity (Counts)</text>
<text transform="translate(137.1,1502.81) scale(0.3619,0.3272)" font-size="100" font-weight="bold" fill="#000">(d)</text>
<text transform="translate(572.02,1504.08) scale(0.3600,0.3277)" font-size="100" font-weight="bold" fill="#7a0a7a">O 1s</text>
<line x1="144" y1="1577.5" x2="204" y2="1577.5" stroke="#000" stroke-width="9.5" stroke-linecap="round"/>
<text transform="translate(215.05,1586) scale(0.2542,0.2146)" font-size="100" font-weight="normal" fill="#000" stroke="#000" stroke-width="2.13" stroke-linejoin="round">Original</text>
<line x1="144" y1="1606.4" x2="204" y2="1606.4" stroke="#ff0000" stroke-width="9.5" stroke-linecap="round"/>
<text transform="translate(215.12,1612.36) scale(0.2229,0.1977)" font-size="100" font-weight="normal" fill="#000" stroke="#000" stroke-width="2.38" stroke-linejoin="round">C-OH</text>
<line x1="144" y1="1634.5" x2="204" y2="1634.5" stroke="#00ff00" stroke-width="9.5" stroke-linecap="round"/>
<text transform="translate(215.53,1641.35) scale(0.2257,0.2029)" font-size="100" font-weight="normal" fill="#000" stroke="#000" stroke-width="2.33" stroke-linejoin="round">Zn-O<tspan fill="#3cb43c" stroke="#3cb43c">/</tspan>C-O-C</text>
<line x1="144" y1="1663.5" x2="204" y2="1663.5" stroke="#0000ff" stroke-width="9.5" stroke-linecap="round"/>
<text transform="translate(215.11,1670.25) scale(0.2254,0.2015)" font-size="100" font-weight="normal" fill="#000" stroke="#000" stroke-width="2.34" stroke-linejoin="round">C=O<tspan fill="#3cb43c" stroke="#3cb43c">/</tspan>O=C-O</text>
<line x1="144" y1="1692.5" x2="204" y2="1692.5" stroke="#00ffff" stroke-width="9.5" stroke-linecap="round"/>
<text transform="translate(214.24,1699.25) scale(0.2445,0.2015)" font-size="100" font-weight="normal" fill="#000" stroke="#000" stroke-width="2.24" stroke-linejoin="round">Baseline</text>
<line x1="144" y1="1720.6" x2="204" y2="1720.6" stroke="#ff00ff" stroke-width="9.5" stroke-linecap="round"/>
<text transform="translate(214.22,1728.24) scale(0.2476,0.2138)" font-size="100" font-weight="normal" fill="#000" stroke="#000" stroke-width="2.17" stroke-linejoin="round">Fitted</text>
<path d="M125.0,1847.1 C131.6,1846.2 150.4,1845.2 164.4,1841.7 C178.4,1838.2 195.9,1831.4 208.9,1826.2 C221.9,1821.0 231.1,1817.3 242.2,1810.6 C253.3,1803.9 264.5,1794.7 275.6,1786.2 C286.7,1777.7 297.8,1769.1 308.9,1759.5 C320.0,1749.9 332.9,1736.6 342.2,1728.4 C351.4,1720.2 357.0,1715.0 364.4,1710.6 C371.8,1706.1 380.8,1703.3 386.7,1701.7 C392.6,1700.1 394.2,1702.3 400.0,1700.7 C405.8,1699.1 414.8,1697.1 421.2,1692.2 C427.6,1687.3 432.8,1679.9 438.1,1671.1 C443.4,1662.3 448.0,1653.4 452.9,1639.3 C457.8,1625.2 463.1,1603.1 467.7,1586.5 C472.3,1569.9 476.5,1553.3 480.4,1539.9 C484.3,1526.5 487.7,1513.7 491.0,1506.0 C494.3,1498.3 496.8,1496.3 500.0,1493.5 C503.2,1490.7 507.0,1488.9 510.0,1489.1 C513.0,1489.3 515.2,1490.6 518.0,1494.5 C520.8,1498.4 523.8,1504.1 527.0,1512.4 C530.2,1520.7 534.0,1531.8 537.5,1544.1 C541.0,1556.4 544.2,1568.9 548.1,1586.5 C552.0,1604.1 556.6,1628.8 560.8,1649.9 C565.0,1671.1 569.3,1694.0 573.5,1713.4 C577.7,1732.8 581.6,1750.4 586.2,1766.2 C590.8,1782.0 595.7,1797.6 601.0,1808.5 C606.3,1819.4 610.9,1826.1 617.9,1831.8 C624.9,1837.5 636.4,1839.9 643.3,1842.4 C650.1,1844.9 656.4,1845.9 659.0,1846.6" fill="none" stroke="#000" stroke-width="12.5" stroke-linejoin="round" stroke-linecap="butt" stroke-dasharray="4,5"/>
<polyline points="125,1855.73 126.5,1855.72 128,1855.72 129.5,1855.71 131,1855.71 132.5,1855.7 134,1855.7 135.5,1855.69 137,1855.69 138.5,1855.68 140,1855.68 141.5,1855.67 143,1855.67 144.5,1855.66 146,1855.66 147.5,1855.65 149,1855.65 150.5,1855.64 152,1855.64 153.5,1855.63 155,1855.63 156.5,1855.62 158,1855.62 159.5,1855.61 161,1855.6 162.5,1855.6 164,1855.59 165.5,1855.59 167,1855.58 168.5,1855.57 170,1855.57 171.5,1855.56 173,1855.56 174.5,1855.55 176,1855.54 177.5,1855.54 179,1855.53 180.5,1855.52 182,1855.51 183.5,1855.51 185,1855.5 186.5,1855.49 188,1855.49 189.5,1855.48 191,1855.47 192.5,1855.46 194,1855.46 195.5,1855.45 197,1855.44 198.5,1855.43 200,1855.42 201.5,1855.42 203,1855.41 204.5,1855.4 206,1855.39 207.5,1855.38 209,1855.37 210.5,1855.36 212,1855.35 213.5,1855.34 215,1855.33 216.5,1855.33 218,1855.32 219.5,1855.31 221,1855.3 222.5,1855.29 224,1855.28 225.5,1855.26 227,1855.25 228.5,1855.24 230,1855.23 231.5,1855.22 233,1855.21 234.5,1855.2 236,1855.19 237.5,1855.18 239,1855.16 240.5,1855.15 242,1855.14 243.5,1855.13 245,1855.11 246.5,1855.1 248,1855.09 249.5,1855.07 251,1855.06 252.5,1855.05 254,1855.03 255.5,1855.02 257,1855 258.5,1854.99 260,1854.97 261.5,1854.96 263,1854.94 264.5,1854.93 266,1854.91 267.5,1854.89 269,1854.88 270.5,1854.86 272,1854.84 273.5,1854.82 275,1854.81 276.5,1854.79 278,1854.77 279.5,1854.75 281,1854.73 282.5,1854.71 284,1854.69 285.5,1854.67 287,1854.65 288.5,1854.63 290,1854.61 291.5,1854.58 293,1854.56 294.5,1854.54 296,1854.51 297.5,1854.49 299,1854.47 300.5,1854.44 302,1854.42 303.5,1854.39 305,1854.36 306.5,1854.34 308,1854.31 309.5,1854.28 311,1854.25 312.5,1854.22 314,1854.19 315.5,1854.16 317,1854.12 318.5,1854.09 320,1854.06 321.5,1854.02 323,1853.98 324.5,1853.95 326,1853.91 327.5,1853.87 329,1853.82 330.5,1853.78 332,1853.74 333.5,1853.69 335,1853.64 336.5,1853.59 338,1853.54 339.5,1853.48 341,1853.42 342.5,1853.36 344,1853.29 345.5,1853.22 347,1853.15 348.5,1853.07 350,1852.99 351.5,1852.9 353,1852.81 354.5,1852.71 356,1852.6 357.5,1852.48 359,1852.36 360.5,1852.23 362,1852.08 363.5,1851.93 365,1851.76 366.5,1851.58 368,1851.38 369.5,1851.17 371,1850.94 372.5,1850.69 374,1850.42 375.5,1850.13 377,1849.81 378.5,1849.47 380,1849.09 381.5,1848.69 383,1848.25 384.5,1847.77 386,1847.25 387.5,1846.7 389,1846.09 390.5,1845.44 392,1844.73 393.5,1843.97 395,1843.14 396.5,1842.25 398,1841.3 399.5,1840.27 401,1839.16 402.5,1837.97 404,1836.69 405.5,1835.32 407,1833.86 408.5,1832.29 410,1830.62 411.5,1828.83 413,1826.92 414.5,1824.89 416,1822.74 417.5,1820.45 419,1818.02 420.5,1815.45 422,1812.73 423.5,1809.85 425,1806.82 426.5,1803.63 428,1800.27 429.5,1796.74 431,1793.04 432.5,1789.17 434,1785.11 435.5,1780.88 437,1776.47 438.5,1771.87 440,1767.1 441.5,1762.14 443,1757 444.5,1751.69 446,1746.2 447.5,1740.54 449,1734.71 450.5,1728.72 452,1722.57 453.5,1716.28 455,1709.84 456.5,1703.28 458,1696.59 459.5,1689.79 461,1682.89 462.5,1675.91 464,1668.85 465.5,1661.73 467,1654.57 468.5,1647.38 470,1640.17 471.5,1632.97 473,1625.8 474.5,1618.67 476,1611.59 477.5,1604.6 479,1597.72 480.5,1590.95 482,1584.32 483.5,1577.86 485,1571.59 486.5,1565.52 488,1559.67 489.5,1554.08 491,1548.75 492.5,1543.71 494,1538.98 495.5,1534.58 497,1530.52 498.5,1526.82 500,1523.5 501.5,1520.58 503,1518.05 504.5,1515.94 506,1514.26 507.5,1513.01 509,1512.19 510.5,1511.82 512,1511.9 513.5,1512.42 515,1513.38 516.5,1514.77 518,1516.6 519.5,1518.85 521,1521.51 522.5,1524.57 524,1528.02 525.5,1531.84 527,1536.01 528.5,1540.53 530,1545.36 531.5,1550.5 533,1555.92 534.5,1561.6 536,1567.52 537.5,1573.66 539,1580 540.5,1586.51 542,1593.19 543.5,1600 545,1606.92 546.5,1613.94 548,1621.04 549.5,1628.19 551,1635.37 552.5,1642.57 554,1649.77 555.5,1656.96 557,1664.11 558.5,1671.21 560,1678.25 561.5,1685.2 563,1692.07 564.5,1698.83 566,1705.48 567.5,1712 569,1718.39 570.5,1724.64 572,1730.73 573.5,1736.67 575,1742.44 576.5,1748.05 578,1753.48 579.5,1758.73 581,1763.81 582.5,1768.71 584,1773.42 585.5,1777.96 587,1782.31 588.5,1786.48 590,1790.48 591.5,1794.3 593,1797.94 594.5,1801.41 596,1804.71 597.5,1807.85 599,1810.83 600.5,1813.65 602,1816.32 603.5,1818.84 605,1821.23 606.5,1823.47 608,1825.58 609.5,1827.57 611,1829.44 612.5,1831.19 614,1832.82 615.5,1834.36 617,1835.79 618.5,1837.13 620,1838.38 621.5,1839.54 623,1840.62 624.5,1841.62 626,1842.56 627.5,1843.42 629,1844.23 630.5,1844.97 632,1845.66 633.5,1846.3 635,1846.89 636.5,1847.43 638,1847.93 639.5,1848.4 641,1848.82 642.5,1849.22 644,1849.58 645.5,1849.92 647,1850.23 648.5,1850.51 650,1850.78 651.5,1851.02 653,1851.24 654.5,1851.45 656,1851.64 657.5,1851.82 659,1851.98" fill="none" stroke="#ff0000" stroke-width="9" stroke-linejoin="round" stroke-linecap="round" />
<polyline points="125,1855.79 126.5,1855.78 128,1855.77 129.5,1855.76 131,1855.75 132.5,1855.74 134,1855.73 135.5,1855.72 137,1855.7 138.5,1855.69 140,1855.68 141.5,1855.66 143,1855.65 144.5,1855.63 146,1855.61 147.5,1855.6 149,1855.58 150.5,1855.56 152,1855.54 153.5,1855.52 155,1855.49 156.5,1855.47 158,1855.44 159.5,1855.41 161,1855.38 162.5,1855.35 164,1855.32 165.5,1855.28 167,1855.24 168.5,1855.2 170,1855.16 171.5,1855.12 173,1855.07 174.5,1855.02 176,1854.96 177.5,1854.91 179,1854.84 180.5,1854.78 182,1854.71 183.5,1854.64 185,1854.56 186.5,1854.48 188,1854.39 189.5,1854.3 191,1854.21 192.5,1854.11 194,1854 195.5,1853.88 197,1853.76 198.5,1853.63 200,1853.5 201.5,1853.36 203,1853.21 204.5,1853.05 206,1852.88 207.5,1852.71 209,1852.52 210.5,1852.33 212,1852.12 213.5,1851.91 215,1851.68 216.5,1851.44 218,1851.19 219.5,1850.93 221,1850.65 222.5,1850.36 224,1850.06 225.5,1849.74 227,1849.41 228.5,1849.06 230,1848.7 231.5,1848.32 233,1847.92 234.5,1847.51 236,1847.07 237.5,1846.62 239,1846.15 240.5,1845.66 242,1845.15 243.5,1844.62 245,1844.07 246.5,1843.5 248,1842.9 249.5,1842.29 251,1841.65 252.5,1840.98 254,1840.29 255.5,1839.58 257,1838.84 258.5,1838.08 260,1837.29 261.5,1836.48 263,1835.64 264.5,1834.77 266,1833.88 267.5,1832.96 269,1832.01 270.5,1831.04 272,1830.04 273.5,1829.01 275,1827.95 276.5,1826.87 278,1825.76 279.5,1824.62 281,1823.45 282.5,1822.26 284,1821.04 285.5,1819.79 287,1818.52 288.5,1817.22 290,1815.9 291.5,1814.55 293,1813.18 294.5,1811.79 296,1810.37 297.5,1808.93 299,1807.46 300.5,1805.98 302,1804.48 303.5,1802.96 305,1801.42 306.5,1799.87 308,1798.3 309.5,1796.71 311,1795.12 312.5,1793.51 314,1791.89 315.5,1790.26 317,1788.63 318.5,1786.99 320,1785.34 321.5,1783.69 323,1782.05 324.5,1780.4 326,1778.76 327.5,1777.12 329,1775.48 330.5,1773.86 332,1772.24 333.5,1770.64 335,1769.05 336.5,1767.48 338,1765.92 339.5,1764.39 341,1762.87 342.5,1761.38 344,1759.92 345.5,1758.48 347,1757.08 348.5,1755.7 350,1754.36 351.5,1753.06 353,1751.79 354.5,1750.56 356,1749.37 357.5,1748.23 359,1747.13 360.5,1746.08 362,1745.08 363.5,1744.13 365,1743.23 366.5,1742.38 368,1741.58 369.5,1740.85 371,1740.17 372.5,1739.54 374,1738.98 375.5,1738.48 377,1738.04 378.5,1737.66 380,1737.34 381.5,1737.09 383,1736.9 384.5,1736.77 386,1736.71 387.5,1736.71 389,1736.78 390.5,1736.91 392,1737.1 393.5,1737.36 395,1737.68 396.5,1738.06 398,1738.51 399.5,1739.02 401,1739.58 402.5,1740.21 404,1740.89 405.5,1741.64 407,1742.43 408.5,1743.28 410,1744.19 411.5,1745.14 413,1746.15 414.5,1747.21 416,1748.31 417.5,1749.45 419,1750.64 420.5,1751.87 422,1753.14 423.5,1754.45 425,1755.79 426.5,1757.17 428,1758.58 429.5,1760.01 431,1761.48 432.5,1762.97 434,1764.49 435.5,1766.02 437,1767.58 438.5,1769.16 440,1770.75 441.5,1772.35 443,1773.97 444.5,1775.59 446,1777.23 447.5,1778.87 449,1780.51 450.5,1782.16 452,1783.8 453.5,1785.45 455,1787.1 456.5,1788.74 458,1790.37 459.5,1792 461,1793.61 462.5,1795.22 464,1796.82 465.5,1798.4 467,1799.97 468.5,1801.52 470,1803.06 471.5,1804.58 473,1806.08 474.5,1807.56 476,1809.02 477.5,1810.46 479,1811.88 480.5,1813.27 482,1814.64 483.5,1815.99 485,1817.31 486.5,1818.61 488,1819.88 489.5,1821.12 491,1822.34 492.5,1823.53 494,1824.69 495.5,1825.83 497,1826.94 498.5,1828.02 500,1829.08 501.5,1830.1 503,1831.1 504.5,1832.08 506,1833.02 507.5,1833.94 509,1834.83 510.5,1835.7 512,1836.53 513.5,1837.35 515,1838.13 516.5,1838.89 518,1839.63 519.5,1840.34 521,1841.03 522.5,1841.69 524,1842.33 525.5,1842.94 527,1843.54 528.5,1844.11 530,1844.66 531.5,1845.19 533,1845.7 534.5,1846.19 536,1846.65 537.5,1847.1 539,1847.54 540.5,1847.95 542,1848.34 543.5,1848.72 545,1849.09 546.5,1849.43 548,1849.76 549.5,1850.08 551,1850.38 552.5,1850.67 554,1850.95 555.5,1851.21 557,1851.46 558.5,1851.69 560,1851.92 561.5,1852.14 563,1852.34 564.5,1852.53 566,1852.72 567.5,1852.89 569,1853.06 570.5,1853.22 572,1853.37 573.5,1853.51 575,1853.64 576.5,1853.77 578,1853.89 579.5,1854 581,1854.11 582.5,1854.21 584,1854.31 585.5,1854.4 587,1854.49 588.5,1854.57 590,1854.64 591.5,1854.72 593,1854.78 594.5,1854.85 596,1854.91 597.5,1854.97 599,1855.02 600.5,1855.07 602,1855.12 603.5,1855.16 605,1855.21 606.5,1855.25 608,1855.28 609.5,1855.32 611,1855.35 612.5,1855.38 614,1855.41 615.5,1855.44 617,1855.47 618.5,1855.49 620,1855.52 621.5,1855.54 623,1855.56 624.5,1855.58 626,1855.6 627.5,1855.62 629,1855.63 630.5,1855.65 632,1855.66 633.5,1855.68 635,1855.69 636.5,1855.7 638,1855.72 639.5,1855.73 641,1855.74 642.5,1855.75 644,1855.76 645.5,1855.77 647,1855.78 648.5,1855.79 650,1855.79 651.5,1855.8 653,1855.81 654.5,1855.82 656,1855.82 657.5,1855.83 659,1855.84" fill="none" stroke="#00ff00" stroke-width="9" stroke-linejoin="round" stroke-linecap="round" />
<polyline points="125,1850.99 126.5,1850.81 128,1850.63 129.5,1850.44 131,1850.25 132.5,1850.05 134,1849.85 135.5,1849.64 137,1849.42 138.5,1849.2 140,1848.98 141.5,1848.74 143,1848.51 144.5,1848.26 146,1848.02 147.5,1847.76 149,1847.5 150.5,1847.23 152,1846.96 153.5,1846.68 155,1846.4 156.5,1846.11 158,1845.81 159.5,1845.51 161,1845.2 162.5,1844.88 164,1844.56 165.5,1844.24 167,1843.91 168.5,1843.57 170,1843.22 171.5,1842.87 173,1842.52 174.5,1842.16 176,1841.79 177.5,1841.42 179,1841.04 180.5,1840.66 182,1840.27 183.5,1839.87 185,1839.47 186.5,1839.07 188,1838.66 189.5,1838.25 191,1837.83 192.5,1837.41 194,1836.98 195.5,1836.55 197,1836.12 198.5,1835.68 200,1835.24 201.5,1834.8 203,1834.35 204.5,1833.9 206,1833.45 207.5,1832.99 209,1832.54 210.5,1832.08 212,1831.62 213.5,1831.16 215,1830.69 216.5,1830.23 218,1829.77 219.5,1829.3 221,1828.84 222.5,1828.37 224,1827.91 225.5,1827.45 227,1826.99 228.5,1826.53 230,1826.07 231.5,1825.62 233,1825.16 234.5,1824.71 236,1824.27 237.5,1823.83 239,1823.39 240.5,1822.95 242,1822.52 243.5,1822.1 245,1821.68 246.5,1821.27 248,1820.86 249.5,1820.46 251,1820.07 252.5,1819.68 254,1819.3 255.5,1818.93 257,1818.57 258.5,1818.21 260,1817.87 261.5,1817.53 263,1817.21 264.5,1816.89 266,1816.58 267.5,1816.29 269,1816.01 270.5,1815.73 272,1815.47 273.5,1815.22 275,1814.98 276.5,1814.76 278,1814.55 279.5,1814.35 281,1814.16 282.5,1813.99 284,1813.83 285.5,1813.68 287,1813.55 288.5,1813.43 290,1813.32 291.5,1813.24 293,1813.16 294.5,1813.1 296,1813.05 297.5,1813.02 299,1813 300.5,1813 302,1813.01 303.5,1813.04 305,1813.08 306.5,1813.14 308,1813.21 309.5,1813.29 311,1813.39 312.5,1813.51 314,1813.63 315.5,1813.78 317,1813.93 318.5,1814.1 320,1814.28 321.5,1814.48 323,1814.69 324.5,1814.91 326,1815.14 327.5,1815.39 329,1815.64 330.5,1815.91 332,1816.19 333.5,1816.48 335,1816.79 336.5,1817.1 338,1817.42 339.5,1817.76 341,1818.1 342.5,1818.45 344,1818.81 345.5,1819.18 347,1819.55 348.5,1819.94 350,1820.33 351.5,1820.73 353,1821.13 354.5,1821.54 356,1821.96 357.5,1822.38 359,1822.81 360.5,1823.24 362,1823.68 363.5,1824.12 365,1824.57 366.5,1825.01 368,1825.46 369.5,1825.92 371,1826.38 372.5,1826.83 374,1827.29 375.5,1827.76 377,1828.22 378.5,1828.68 380,1829.15 381.5,1829.61 383,1830.08 384.5,1830.54 386,1831 387.5,1831.46 389,1831.93 390.5,1832.38 392,1832.84 393.5,1833.3 395,1833.75 396.5,1834.2 398,1834.65 399.5,1835.1 401,1835.54 402.5,1835.98 404,1836.41 405.5,1836.84 407,1837.27 408.5,1837.69 410,1838.11 411.5,1838.53 413,1838.94 414.5,1839.34 416,1839.74 417.5,1840.14 419,1840.53 420.5,1840.91 422,1841.29 423.5,1841.67 425,1842.03 426.5,1842.4 428,1842.75 429.5,1843.11 431,1843.45 432.5,1843.79 434,1844.13 435.5,1844.46 437,1844.78 438.5,1845.09 440,1845.41 441.5,1845.71 443,1846.01 444.5,1846.3 446,1846.59 447.5,1846.87 449,1847.14 450.5,1847.41 452,1847.67 453.5,1847.93 455,1848.18 456.5,1848.43 458,1848.67 459.5,1848.9 461,1849.13 462.5,1849.35 464,1849.57 465.5,1849.78 467,1849.98 468.5,1850.18 470,1850.38 471.5,1850.57 473,1850.75 474.5,1850.93 476,1851.11 477.5,1851.28 479,1851.44 480.5,1851.6 482,1851.76 483.5,1851.91 485,1852.06 486.5,1852.2 488,1852.33 489.5,1852.47 491,1852.6 492.5,1852.72 494,1852.84 495.5,1852.96 497,1853.07 498.5,1853.18 500,1853.29 501.5,1853.39 503,1853.49 504.5,1853.59 506,1853.68 507.5,1853.77 509,1853.85 510.5,1853.94 512,1854.02 513.5,1854.09 515,1854.17 516.5,1854.24 518,1854.31 519.5,1854.38 521,1854.44 522.5,1854.5 524,1854.56 525.5,1854.62 527,1854.67 528.5,1854.73 530,1854.78 531.5,1854.83 533,1854.87 534.5,1854.92 536,1854.96 537.5,1855.01 539,1855.05 540.5,1855.08 542,1855.12 543.5,1855.16 545,1855.19 546.5,1855.22 548,1855.25 549.5,1855.29 551,1855.31 552.5,1855.34 554,1855.37 555.5,1855.39 557,1855.42 558.5,1855.44 560,1855.46 561.5,1855.49 563,1855.51 564.5,1855.53 566,1855.55 567.5,1855.56 569,1855.58 570.5,1855.6 572,1855.62 573.5,1855.63 575,1855.65 576.5,1855.66 578,1855.67 579.5,1855.69 581,1855.7 582.5,1855.71 584,1855.72 585.5,1855.73 587,1855.75 588.5,1855.76 590,1855.77 591.5,1855.78 593,1855.78 594.5,1855.79 596,1855.8 597.5,1855.81 599,1855.82 600.5,1855.83 602,1855.83 603.5,1855.84 605,1855.85 606.5,1855.85 608,1855.86 609.5,1855.87 611,1855.87 612.5,1855.88 614,1855.88 615.5,1855.89 617,1855.89 618.5,1855.9 620,1855.9 621.5,1855.91 623,1855.91 624.5,1855.92 626,1855.92 627.5,1855.93 629,1855.93 630.5,1855.94 632,1855.94 633.5,1855.94 635,1855.95 636.5,1855.95 638,1855.95 639.5,1855.96 641,1855.96 642.5,1855.96 644,1855.97 645.5,1855.97 647,1855.97 648.5,1855.98 650,1855.98 651.5,1855.98 653,1855.99 654.5,1855.99 656,1855.99 657.5,1855.99 659,1856" fill="none" stroke="#0000ff" stroke-width="9" stroke-linejoin="round" stroke-linecap="round" />
<polyline points="125,1856.3 659,1856.3" fill="none" stroke="#00ffff" stroke-width="9" stroke-linejoin="round" stroke-linecap="round" />
<path d="M125.0,1847.6 C131.6,1846.7 150.4,1845.7 164.4,1842.2 C178.4,1838.7 195.9,1831.9 208.9,1826.7 C221.9,1821.5 231.1,1817.8 242.2,1811.1 C253.3,1804.4 264.5,1795.2 275.6,1786.7 C286.7,1778.2 297.8,1769.6 308.9,1760.0 C320.0,1750.4 332.9,1737.1 342.2,1728.9 C351.4,1720.8 357.0,1715.5 364.4,1711.1 C371.8,1706.6 380.8,1703.8 386.7,1702.2 C392.6,1700.6 394.2,1702.8 400.0,1701.2 C405.8,1699.6 414.8,1697.6 421.2,1692.7 C427.6,1687.8 432.8,1680.4 438.1,1671.6 C443.4,1662.8 448.0,1653.9 452.9,1639.8 C457.8,1625.7 463.1,1603.6 467.7,1587.0 C472.3,1570.4 476.5,1553.8 480.4,1540.4 C484.3,1527.0 487.7,1514.2 491.0,1506.5 C494.3,1498.8 496.8,1496.8 500.0,1494.0 C503.2,1491.2 507.0,1489.4 510.0,1489.6 C513.0,1489.8 515.2,1491.1 518.0,1495.0 C520.8,1498.9 523.8,1504.6 527.0,1512.9 C530.2,1521.2 534.0,1532.2 537.5,1544.6 C541.0,1556.9 544.2,1569.4 548.1,1587.0 C552.0,1604.6 556.6,1629.2 560.8,1650.4 C565.0,1671.6 569.3,1694.5 573.5,1713.9 C577.7,1733.3 581.6,1750.9 586.2,1766.7 C590.8,1782.5 595.7,1798.1 601.0,1809.0 C606.3,1819.9 610.9,1826.6 617.9,1832.3 C624.9,1838.0 636.4,1840.4 643.3,1842.9 C650.1,1845.4 656.4,1846.4 659.0,1847.1" fill="none" stroke="#ff00ff" stroke-width="10" stroke-linejoin="round" stroke-linecap="round" />
<rect x="798.5" y="1464.9" width="538.8" height="397.1" fill="none" stroke="#000" stroke-width="3"/>
<line x1="1301.5" y1="1863.5" x2="1301.5" y2="1868.5" stroke="#000" stroke-width="2.5" stroke-linecap="butt"/>
<line x1="1214.7" y1="1863.5" x2="1214.7" y2="1868.5" stroke="#000" stroke-width="2.5" stroke-linecap="butt"/>
<line x1="1127.9" y1="1863.5" x2="1127.9" y2="1868.5" stroke="#000" stroke-width="2.5" stroke-linecap="butt"/>
<line x1="1041.1" y1="1863.5" x2="1041.1" y2="1868.5" stroke="#000" stroke-width="2.5" stroke-linecap="butt"/>
<line x1="954.3" y1="1863.5" x2="954.3" y2="1868.5" stroke="#000" stroke-width="2.5" stroke-linecap="butt"/>
<line x1="867.5" y1="1863.5" x2="867.5" y2="1868.5" stroke="#000" stroke-width="2.5" stroke-linecap="butt"/>
<line x1="792" y1="1814.5" x2="798.5" y2="1814.5" stroke="#000" stroke-width="2.5" stroke-linecap="butt"/>
<line x1="792" y1="1759.13" x2="798.5" y2="1759.13" stroke="#000" stroke-width="2.5" stroke-linecap="butt"/>
<line x1="792" y1="1703.76" x2="798.5" y2="1703.76" stroke="#000" stroke-width="2.5" stroke-linecap="butt"/>
<line x1="792" y1="1648.39" x2="798.5" y2="1648.39" stroke="#000" stroke-width="2.5" stroke-linecap="butt"/>
<line x1="792" y1="1593.02" x2="798.5" y2="1593.02" stroke="#000" stroke-width="2.5" stroke-linecap="butt"/>
<line x1="792" y1="1537.65" x2="798.5" y2="1537.65" stroke="#000" stroke-width="2.5" stroke-linecap="butt"/>
<line x1="792" y1="1482.28" x2="798.5" y2="1482.28" stroke="#000" stroke-width="2.5" stroke-linecap="butt"/>
<text transform="translate(1275.28,1887.25) scale(0.2318,0.2034)" font-size="100" font-weight="normal" fill="#000" stroke="#000" stroke-width="4.14" stroke-linejoin="round">1020</text>
<text transform="translate(1188.48,1887.25) scale(0.2321,0.2034)" font-size="100" font-weight="normal" fill="#000" stroke="#000" stroke-width="4.13" stroke-linejoin="round">1025</text>
<text transform="translate(1101.68,1887.25) scale(0.2318,0.2034)" font-size="100" font-weight="normal" fill="#000" stroke="#000" stroke-width="4.14" stroke-linejoin="round">1030</text>
<text transform="translate(1014.88,1887.25) scale(0.2321,0.2034)" font-size="100" font-weight="normal" fill="#000" stroke="#000" stroke-width="4.13" stroke-linejoin="round">1035</text>
<text transform="translate(928.08,1887.25) scale(0.2318,0.2034)" font-size="100" font-weight="normal" fill="#000" stroke="#000" stroke-width="4.14" stroke-linejoin="round">1040</text>
<text transform="translate(841.28,1887.25) scale(0.2321,0.2034)" font-size="100" font-weight="normal" fill="#000" stroke="#000" stroke-width="4.13" stroke-linejoin="round">1045</text>
<text transform="translate(722.64,1819.75) scale(0.2400,0.2020)" font-size="100" font-weight="normal" fill="#000" stroke="#000" stroke-width="4.07" stroke-linejoin="round">20000</text>
<text transform="translate(722.94,1764.38) scale(0.2389,0.2020)" font-size="100" font-weight="normal" fill="#000" stroke="#000" stroke-width="4.08" stroke-linejoin="round">30000</text>
<text transform="translate(723.3,1709.01) scale(0.2376,0.2020)" font-size="100" font-weight="normal" fill="#000" stroke="#000" stroke-width="4.09" stroke-linejoin="round">40000</text>
<text transform="translate(722.89,1653.64) scale(0.2391,0.2020)" font-size="100" font-weight="normal" fill="#000" stroke="#000" stroke-width="4.08" stroke-linejoin="round">50000</text>
<text transform="translate(722.63,1598.27) scale(0.2401,0.2020)" font-size="100" font-weight="normal" fill="#000" stroke="#000" stroke-width="4.07" stroke-linejoin="round">60000</text>
<text transform="translate(722.62,1542.9) scale(0.2401,0.2020)" font-size="100" font-weight="normal" fill="#000" stroke="#000" stroke-width="4.07" stroke-linejoin="round">70000</text>
<text transform="translate(722.81,1487.53) scale(0.2394,0.2020)" font-size="100" font-weight="normal" fill="#000" stroke="#000" stroke-width="4.08" stroke-linejoin="round">80000</text>
<text transform="translate(912.95,1922.44) scale(0.3215,0.3235)" font-size="100" font-weight="bold" fill="#000">Binding Energy (eV)</text>
<text transform="translate(709.31,1821.76) rotate(-90) scale(0.3223,0.3272)" font-size="100" font-weight="bold" fill="#000">Intensity (Counts)</text>
<text transform="translate(813.39,1502.81) scale(0.3626,0.3272)" font-size="100" font-weight="bold" fill="#000">(e)</text>
<text transform="translate(1027.73,1507.36) scale(0.3598,0.3345)" font-size="100" font-weight="bold" fill="#fd8a0e">Zn 2p</text>
<line x1="996" y1="1600" x2="1056" y2="1600" stroke="#000" stroke-width="9.5" stroke-linecap="round"/>
<text transform="translate(1068.27,1605.93) scale(0.2494,0.1985)" font-size="100" font-weight="normal" fill="#000" stroke="#000" stroke-width="2.23" stroke-linejoin="round">Original</text>
<line x1="996" y1="1627.5" x2="1056" y2="1627.5" stroke="#ff0000" stroke-width="9.5" stroke-linecap="round"/>
<text transform="translate(1068.23,1635.69) scale(0.2275,0.2197)" font-size="100" font-weight="normal" fill="#000" stroke="#000" stroke-width="2.24" stroke-linejoin="round">Zn 2p</text>
<text transform="translate(1129.24,1643.74) scale(0.1195,0.1076)" font-size="100" font-weight="normal" fill="#000" stroke="#000" stroke-width="2.64" stroke-linejoin="round">1/2</text>
<line x1="996" y1="1657.8" x2="1056" y2="1657.8" stroke="#00ff00" stroke-width="9.5" stroke-linecap="round"/>
<text transform="translate(1068.23,1665.99) scale(0.2275,0.2197)" font-size="100" font-weight="normal" fill="#000" stroke="#000" stroke-width="2.24" stroke-linejoin="round">Zn 2p</text>
<text transform="translate(1129.24,1674.04) scale(0.1195,0.1076)" font-size="100" font-weight="normal" fill="#000" stroke="#000" stroke-width="2.64" stroke-linejoin="round">1/2</text>
<line x1="996" y1="1689.5" x2="1056" y2="1689.5" stroke="#0000ff" stroke-width="9.5" stroke-linecap="round"/>
<text transform="translate(1068.23,1697.69) scale(0.2275,0.2197)" font-size="100" font-weight="normal" fill="#000" stroke="#000" stroke-width="2.24" stroke-linejoin="round">Zn 2p</text>
<text transform="translate(1129.71,1705.74) scale(0.1160,0.1076)" font-size="100" font-weight="normal" fill="#000" stroke="#000" stroke-width="2.68" stroke-linejoin="round">3/2</text>
<line x1="996" y1="1721" x2="1056" y2="1721" stroke="#00ffff" stroke-width="9.5" stroke-linecap="round"/>
<text transform="translate(1068.23,1729.19) scale(0.2275,0.2197)" font-size="100" font-weight="normal" fill="#000" stroke="#000" stroke-width="2.24" stroke-linejoin="round">Zn 2p</text>
<text transform="translate(1129.71,1737.24) scale(0.1160,0.1076)" font-size="100" font-weight="normal" fill="#000" stroke="#000" stroke-width="2.68" stroke-linejoin="round">3/2</text>
<line x1="996" y1="1751" x2="1056" y2="1751" stroke="#ff00ff" stroke-width="9.5" stroke-linecap="round"/>
<text transform="translate(1067.64,1758.94) scale(0.2453,0.2124)" font-size="100" font-weight="normal" fill="#000" stroke="#000" stroke-width="2.18" stroke-linejoin="round">Baseline</text>
<line x1="996" y1="1779.6" x2="1056" y2="1779.6" stroke="#ffff00" stroke-width="9.5" stroke-linecap="round"/>
<text transform="translate(1067.68,1786.45) scale(0.2400,0.2043)" font-size="100" font-weight="normal" fill="#000" stroke="#000" stroke-width="2.25" stroke-linejoin="round">Fitted</text>
<polyline points="800,1821.52 801,1821.55 802,1821.58 803,1821.61 804,1821.63 805,1821.64 806,1821.65 807,1821.66 808,1821.66 809,1821.64 810,1821.62 811,1821.58 812,1821.53 813,1821.46 814,1821.36 815,1821.24 816,1821.09 817,1820.9 818,1820.67 819,1820.39 820,1820.05 821,1819.63 822,1819.14 823,1818.56 824,1817.87 825,1817.07 826,1816.42 827,1815.62 828,1814.66 829,1813.5 830,1812.14 831,1810.56 832,1808.73 833,1806.64 834,1804.26 835,1801.59 836,1798.6 837,1795.28 838,1791.63 839,1787.63 840,1783.29 841,1778.27 842,1772.91 843,1767.23 844,1761.24 845,1754.97 846,1748.45 847,1741.72 848,1734.82 849,1727.8 850,1720.73 851,1713.66 852,1706.66 853,1699.8 854,1693.16 855,1686.82 856,1680.85 857,1675.34 858,1670.37 859,1666 860,1662.31 861,1659.37 862,1657.21 863,1655.87 864,1655.39 865,1655.78 866,1657.02 867,1659.09 868,1661.96 869,1665.58 870,1669.89 871,1674.83 872,1680.31 873,1686.27 874,1692.62 875,1699.28 876,1706.17 877,1713.23 878,1720.37 879,1726.65 880,1732.9 881,1739.03 882,1745.01 883,1750.79 884,1756.32 885,1761.57 886,1766.53 887,1771.16 888,1775.46 889,1779.42 890,1783.02 891,1786.29 892,1789.21 893,1791.81 894,1794.96 895,1797.81 896,1800.38 897,1802.68 898,1804.73 899,1806.55 900,1808.16 901,1809.58 902,1810.83 903,1811.93 904,1812.88 905,1813.72 906,1814.44 907,1815.08 908,1815.63 909,1816.11 910,1816.53 911,1816.89 912,1817.22 913,1817.5 914,1817.75 915,1817.97 916,1818.17 917,1818.35 918,1818.52 919,1818.67 920,1818.81 921,1818.94 922,1819.06 923,1819.18 924,1819.29 925,1819.39 926,1819.49 927,1819.59 928,1819.68 929,1819.77 930,1819.86 931,1819.95 932,1820.03 933,1820.11 934,1820.19 935,1820.27 936,1820.35 937,1820.43 938,1820.5 939,1820.58 940,1820.65 941,1820.72 942,1820.79 943,1820.86 944,1820.93 945,1821 946,1821.07 947,1821.14 948,1821.2 949,1821.27 950,1821.34 951,1821.4 952,1821.46 953,1821.53 954,1821.59 955,1821.65 956,1821.71 957,1821.78 958,1821.84 959,1821.9 960,1821.96 961,1822.08 962,1822.2 963,1822.32 964,1822.44 965,1822.56 966,1822.68 967,1822.8 968,1822.92 969,1823.04 970,1823.16 971,1823.27 972,1823.39 973,1823.51 974,1823.63 975,1823.74 976,1823.86 977,1823.98 978,1824.09 979,1824.21 980,1824.32 981,1824.44 982,1824.56 983,1824.67 984,1824.79 985,1824.9 986,1825.02 987,1825.13 988,1825.24 989,1825.36 990,1825.47 991,1825.59 992,1825.7 993,1825.81 994,1825.93 995,1826.04 996,1826.15 997,1826.27 998,1826.38 999,1826.49 1000,1826.61 1001,1826.72 1002,1826.83 1003,1826.94 1004,1827.06 1005,1827.17 1006,1827.28 1007,1827.39 1008,1827.5 1009,1827.62 1010,1827.73 1011,1827.84 1012,1827.95 1013,1828.06 1014,1828.17 1015,1828.28 1016,1828.4 1017,1828.51 1018,1828.62 1019,1828.73 1020,1828.84 1021,1828.95 1022,1829.06 1023,1829.17 1024,1829.28 1025,1829.39 1026,1829.5 1027,1829.61 1028,1829.72 1029,1829.83 1030,1829.94 1031,1830.05 1032,1830.16 1033,1830.27 1034,1830.38 1035,1830.49 1036,1830.6 1037,1830.71 1038,1830.82 1039,1830.93 1040,1831.04 1041,1831.15 1042,1831.26 1043,1831.37 1044,1831.48 1045,1831.59 1046,1831.68 1047,1831.77 1048,1831.87 1049,1831.96 1050,1832.05 1051,1832.14 1052,1832.23 1053,1832.33 1054,1832.42 1055,1832.51 1056,1832.6 1057,1832.69 1058,1832.79 1059,1832.88 1060,1832.97 1061,1833.06 1062,1833.15 1063,1833.24 1064,1833.34 1065,1833.43 1066,1833.52 1067,1833.61 1068,1833.7 1069,1833.79 1070,1833.88 1071,1833.97 1072,1834.18 1073,1834.39 1074,1834.6 1075,1834.81 1076,1835.02 1077,1835.23 1078,1835.44 1079,1835.65 1080,1835.86 1081,1836.07 1082,1836.27 1083,1836.48 1084,1836.69 1085,1836.9 1086,1837.11 1087,1837.32 1088,1837.53 1089,1837.74 1090,1837.94 1091,1838.15 1092,1838.36 1093,1838.57 1094,1838.78 1095,1838.98 1096,1839.19 1097,1839.4 1098,1839.61 1099,1839.82 1100,1840.02 1101,1840.34 1102,1840.66 1103,1840.98 1104,1841.29 1105,1841.61 1106,1841.93 1107,1842.25 1108,1842.56 1109,1842.88 1110,1843.2 1111,1843.51 1112,1843.83 1113,1844.15 1114,1844.46 1115,1844.78 1116,1845.09 1117,1845.41 1118,1845.73 1119,1846.04 1120,1846.36 1121,1846.67 1122,1846.99 1123,1847.3 1124,1847.34 1125,1847.37 1126,1847.41 1127,1847.44 1128,1847.48 1129,1847.51 1130,1847.54 1131,1847.58 1132,1847.61 1133,1847.65 1134,1847.68 1135,1847.71 1136,1847.74 1137,1847.78 1138,1847.81 1139,1847.84 1140,1847.87 1141,1847.9 1142,1847.94 1143,1847.97 1144,1848 1145,1848.03 1146,1848.06 1147,1848.09 1148,1848.12 1149,1848.15 1150,1848.18 1151,1848.21 1152,1848.24 1153,1848.27 1154,1848.29 1155,1848.32 1156,1848.35 1157,1848.38 1158,1848.4 1159,1848.43 1160,1848.45 1161,1848.48 1162,1848.5 1163,1848.53 1164,1848.55 1165,1848.58 1166,1848.6 1167,1848.62 1168,1848.64 1169,1848.66 1170,1848.69 1171,1848.71 1172,1848.72 1173,1848.74 1174,1848.76 1175,1848.78 1176,1848.8 1177,1848.81 1178,1848.83 1179,1848.84 1180,1848.85 1181,1848.87 1182,1848.88 1183,1848.89 1184,1848.9 1185,1848.9 1186,1848.91 1187,1848.92 1188,1848.92 1189,1848.92 1190,1848.92 1191,1848.92 1192,1848.92 1193,1848.92 1194,1848.91 1195,1848.9 1196,1848.9 1197,1848.88 1198,1848.87 1199,1848.85 1200,1848.84 1201,1848.82 1202,1848.79 1203,1848.76 1204,1848.73 1205,1848.7 1206,1848.66 1207,1848.62 1208,1848.58 1209,1848.52 1210,1848.47 1211,1848.4 1212,1848.33 1213,1848.25 1214,1848.16 1215,1848.05 1216,1847.66 1217,1847.25 1218,1846.82 1219,1846.35 1220,1845.86 1221,1845.32 1222,1844.73 1223,1844.07 1224,1843.33 1225,1842.5 1226,1841.55 1227,1840.47 1228,1839.21 1229,1837.76 1230,1836.07 1231,1834.11 1232,1831.82 1233,1829.17 1234,1826.09 1235,1822.52 1236,1818.42 1237,1813.71 1238,1808.33 1239,1802.22 1240,1795.33 1241,1787.87 1242,1779.53 1243,1770.26 1244,1760.03 1245,1748.84 1246,1736.7 1247,1723.62 1248,1709.67 1249,1694.9 1250,1679.43 1251,1663.36 1252,1646.84 1253,1630.05 1254,1613.18 1255,1596.43 1256,1580.05 1257,1564.28 1258,1549.37 1259,1535.57 1260,1523.16 1261,1512.37 1262,1503.44 1263,1496.56 1264,1491.9 1265,1489.57 1266,1489.63 1267,1492.07 1268,1496.85 1269,1503.85 1270,1512.9 1271,1523.81 1272,1536.34 1273,1550.25 1274,1565.29 1275,1581.18 1276,1597.68 1277,1614.54 1278,1631.53 1279,1648.44 1280,1665.08 1281,1681.26 1282,1696.86 1283,1711.74 1284,1725.82 1285,1739.01 1286,1751.27 1287,1762.58 1288,1772.93 1289,1782.32 1290,1790.78 1291,1798.35 1292,1805.08 1293,1811.01 1294,1816.22 1295,1820.76 1296,1824.7 1297,1828.09 1298,1831 1299,1833.48 1300,1835.6 1301,1837.39 1302,1838.91 1303,1840.19 1304,1841.28 1305,1842.19 1306,1842.97 1307,1843.63 1308,1844.2 1309,1844.68 1310,1845.11 1311,1845.48 1312,1845.8 1313,1846.09 1314,1846.36 1315,1846.6 1316,1846.82 1317,1847.02 1318,1847.21 1319,1847.4 1320,1847.57 1321,1847.73 1322,1847.89 1323,1848.04 1324,1848.19 1325,1848.33 1326,1848.47 1327,1848.6 1328,1848.73 1329,1848.86 1330,1848.98 1331,1849.1 1332,1849.22 1333,1849.34 1334,1849.45 1335,1849.56 1336,1849.67" fill="none" stroke="#000" stroke-width="9" stroke-linejoin="round" stroke-linecap="round" />
<path d="M1295.0,1793.0 C1295.7,1795.8 1297.5,1804.8 1299.0,1810.0 C1300.5,1815.2 1302.0,1819.7 1304.0,1824.0 C1306.0,1828.3 1308.2,1832.8 1311.0,1836.0 C1313.8,1839.2 1317.2,1841.2 1321.0,1843.0 C1324.8,1844.8 1331.8,1846.3 1334.0,1847.0" fill="none" stroke="#000" stroke-width="8" stroke-linejoin="round" stroke-linecap="round" />
<polyline points="800,1827.44 801,1827.43 802,1827.41 803,1827.39 804,1827.36 805,1827.33 806,1827.29 807,1827.24 808,1827.18 809,1827.1 810,1827.02 811,1826.91 812,1826.79 813,1826.64 814,1826.46 815,1826.25 816,1826 817,1825.7 818,1825.35 819,1824.94 820,1824.47 821,1823.91 822,1823.26 823,1822.51 824,1821.65 825,1820.65 826,1819.51 827,1818.22 828,1816.74 829,1815.08 830,1813.21 831,1811.11 832,1808.78 833,1806.19 834,1803.32 835,1800.18 836,1796.74 837,1793.01 838,1788.97 839,1784.62 840,1779.96 841,1775.01 842,1769.76 843,1764.24 844,1758.48 845,1752.48 846,1746.29 847,1739.94 848,1733.47 849,1726.93 850,1720.38 851,1713.86 852,1707.44 853,1701.18 854,1695.14 855,1689.4 856,1684.02 857,1679.07 858,1674.62 859,1670.72 860,1667.43 861,1664.81 862,1662.89 863,1661.71 864,1661.29 865,1661.64 866,1662.74 867,1664.59 868,1667.15 869,1670.38 870,1674.24 871,1678.66 872,1683.6 873,1688.97 874,1694.72 875,1700.78 876,1707.07 877,1713.54 878,1720.12 879,1726.75 880,1733.37 881,1739.93 882,1746.39 883,1752.69 884,1758.8 885,1764.7 886,1770.34 887,1775.72 888,1780.81 889,1785.6 890,1790.09 891,1794.27 892,1798.14 893,1801.71 894,1804.99 895,1807.98 896,1810.7 897,1813.16 898,1815.38 899,1817.37 900,1819.15 901,1820.74 902,1822.14 903,1823.39 904,1824.49 905,1825.45 906,1826.3 907,1827.04 908,1827.69 909,1828.26 910,1828.76 911,1829.19 912,1829.58 913,1829.91 914,1830.21 915,1830.47 916,1830.7 917,1830.9 918,1831.09 919,1831.25 920,1831.4 921,1831.54 922,1831.67 923,1831.79 924,1831.9 925,1832 926,1832.1 927,1832.2 928,1832.29 929,1832.37 930,1832.46 931,1832.54 932,1832.61 933,1832.69 934,1832.76 935,1832.84 936,1832.91 937,1832.98 938,1833.04 939,1833.11 940,1833.18 941,1833.24 942,1833.3 943,1833.37 944,1833.43 945,1833.49 946,1833.55 947,1833.61 948,1833.67 949,1833.72 950,1833.78 951,1833.84 952,1833.89 953,1833.95 954,1834 955,1834.06 956,1834.11 957,1834.17 958,1834.22 959,1834.27 960,1834.32 961,1834.37 962,1834.42 963,1834.47 964,1834.53 965,1834.57 966,1834.62 967,1834.67 968,1834.72 969,1834.77 970,1834.82 971,1834.87 972,1834.91 973,1834.96 974,1835.01 975,1835.06 976,1835.1 977,1835.15 978,1835.19 979,1835.24 980,1835.29 981,1835.33 982,1835.38 983,1835.42 984,1835.47 985,1835.51 986,1835.56 987,1835.6 988,1835.64 989,1835.69 990,1835.73 991,1835.78 992,1835.82 993,1835.86 994,1835.91 995,1835.95 996,1835.99 997,1836.03 998,1836.08 999,1836.12 1000,1836.16 1001,1836.2 1002,1836.25 1003,1836.29 1004,1836.33 1005,1836.37 1006,1836.41 1007,1836.45 1008,1836.5 1009,1836.54 1010,1836.58 1011,1836.62 1012,1836.66 1013,1836.7 1014,1836.74 1015,1836.78 1016,1836.82 1017,1836.87 1018,1836.91 1019,1836.95 1020,1836.99 1021,1837.03 1022,1837.07 1023,1837.11 1024,1837.15 1025,1837.19 1026,1837.23 1027,1837.27 1028,1837.31 1029,1837.35 1030,1837.39 1031,1837.43 1032,1837.47 1033,1837.5 1034,1837.54 1035,1837.58 1036,1837.62 1037,1837.66 1038,1837.7 1039,1837.74 1040,1837.78 1041,1837.82 1042,1837.86 1043,1837.9 1044,1837.93 1045,1837.97 1046,1838.01 1047,1838.05 1048,1838.09 1049,1838.13 1050,1838.17 1051,1838.2 1052,1838.24 1053,1838.28 1054,1838.32 1055,1838.36 1056,1838.39 1057,1838.43 1058,1838.47 1059,1838.51 1060,1838.55 1061,1838.58 1062,1838.62 1063,1838.66 1064,1838.7 1065,1838.73 1066,1838.77 1067,1838.81 1068,1838.85 1069,1838.88 1070,1838.92 1071,1838.96 1072,1839 1073,1839.03 1074,1839.07 1075,1839.11 1076,1839.14 1077,1839.18 1078,1839.22 1079,1839.25 1080,1839.29 1081,1839.33 1082,1839.36 1083,1839.4 1084,1839.44 1085,1839.47 1086,1839.51 1087,1839.54 1088,1839.58 1089,1839.62 1090,1839.65 1091,1839.69 1092,1839.72 1093,1839.76 1094,1839.79 1095,1839.83 1096,1839.87 1097,1839.9 1098,1839.94 1099,1839.97 1100,1840.01 1101,1840.04 1102,1840.08 1103,1840.11 1104,1840.15 1105,1840.18 1106,1840.21 1107,1840.25 1108,1840.28 1109,1840.32 1110,1840.35 1111,1840.39 1112,1840.42 1113,1840.45 1114,1840.49 1115,1840.52 1116,1840.55 1117,1840.59 1118,1840.62 1119,1840.65 1120,1840.69 1121,1840.72 1122,1840.75 1123,1840.78 1124,1840.82 1125,1840.85 1126,1840.88 1127,1840.91 1128,1840.94 1129,1840.98 1130,1841.01 1131,1841.04 1132,1841.07 1133,1841.1 1134,1841.13 1135,1841.16 1136,1841.19 1137,1841.22 1138,1841.25 1139,1841.28 1140,1841.31 1141,1841.34 1142,1841.37 1143,1841.4 1144,1841.43 1145,1841.45 1146,1841.48 1147,1841.51 1148,1841.54 1149,1841.56 1150,1841.59 1151,1841.62 1152,1841.64 1153,1841.67 1154,1841.69 1155,1841.72 1156,1841.74 1157,1841.77 1158,1841.79 1159,1841.82 1160,1841.84 1161,1841.86 1162,1841.88 1163,1841.91 1164,1841.93 1165,1841.95 1166,1841.97 1167,1841.99 1168,1842.01 1169,1842.02 1170,1842.04 1171,1842.06 1172,1842.07 1173,1842.09 1174,1842.1 1175,1842.12 1176,1842.13 1177,1842.14 1178,1842.16 1179,1842.17 1180,1842.18 1181,1842.18 1182,1842.19 1183,1842.2 1184,1842.2 1185,1842.21 1186,1842.21 1187,1842.21 1188,1842.21 1189,1842.21 1190,1842.21 1191,1842.2 1192,1842.2 1193,1842.19 1194,1842.18 1195,1842.17 1196,1842.15 1197,1842.14 1198,1842.12 1199,1842.1 1200,1842.07 1201,1842.05 1202,1842.02 1203,1841.98 1204,1841.95 1205,1841.91 1206,1841.86 1207,1841.81 1208,1841.75 1209,1841.69 1210,1841.62 1211,1841.55 1212,1841.46 1213,1841.36 1214,1841.25 1215,1841.12 1216,1840.97 1217,1840.79 1218,1840.59 1219,1840.34 1220,1840.05 1221,1839.7 1222,1839.29 1223,1838.79 1224,1838.19 1225,1837.47 1226,1836.61 1227,1835.57 1228,1834.32 1229,1832.84 1230,1831.08 1231,1828.99 1232,1826.53 1233,1823.65 1234,1820.28 1235,1816.38 1236,1811.88 1237,1806.73 1238,1800.86 1239,1794.23 1240,1786.78 1241,1778.46 1242,1769.26 1243,1759.14 1244,1748.09 1245,1736.14 1246,1723.3 1247,1709.63 1248,1695.19 1249,1680.07 1250,1664.4 1251,1648.31 1252,1631.96 1253,1615.54 1254,1599.23 1255,1583.27 1256,1567.88 1257,1553.3 1258,1539.77 1259,1527.54 1260,1516.84 1261,1507.89 1262,1500.88 1263,1495.97 1264,1493.27 1265,1492.85 1266,1494.72 1267,1498.83 1268,1505.1 1269,1513.37 1270,1523.47 1271,1535.2 1272,1548.31 1273,1562.58 1274,1577.75 1275,1593.59 1276,1609.86 1277,1626.34 1278,1642.82 1279,1659.11 1280,1675.04 1281,1690.47 1282,1705.27 1283,1719.34 1284,1732.59 1285,1744.98 1286,1756.47 1287,1767.03 1288,1776.68 1289,1785.43 1290,1793.29 1291,1800.33 1292,1806.57 1293,1812.08 1294,1816.91 1295,1821.12 1296,1824.77 1297,1827.92 1298,1830.62 1299,1832.92 1300,1834.89 1301,1836.55 1302,1837.97 1303,1839.16 1304,1840.17 1305,1841.02 1306,1841.74 1307,1842.35 1308,1842.88 1309,1843.33 1310,1843.72 1311,1844.05 1312,1844.35 1313,1844.62 1314,1844.85 1315,1845.07 1316,1845.26 1317,1845.44 1318,1845.61 1319,1845.77 1320,1845.92 1321,1846.06 1322,1846.2 1323,1846.33 1324,1846.45 1325,1846.57 1326,1846.68 1327,1846.8 1328,1846.9 1329,1847.01 1330,1847.11 1331,1847.21 1332,1847.31 1333,1847.4 1334,1847.49 1335,1847.58 1336,1847.67" fill="none" stroke="#000" stroke-width="13" stroke-linejoin="round" stroke-linecap="butt" stroke-dasharray="3,4"/>
<polyline points="800,1828.74 801,1828.77 802,1828.8 803,1828.83 804,1828.86 805,1828.89 806,1828.92 807,1828.95 808,1828.97 809,1829 810,1829.03 811,1829.05 812,1829.08 813,1829.1 814,1829.12 815,1829.14 816,1829.17 817,1829.18 818,1829.2 819,1829.22 820,1829.24 821,1829.25 822,1829.26 823,1829.27 824,1829.28 825,1829.29 826,1829.3 827,1829.3 828,1829.3 829,1829.29 830,1829.28 831,1829.27 832,1829.25 833,1829.21 834,1829.17 835,1829.11 836,1829.02 837,1828.9 838,1828.73 839,1828.49 840,1828.16 841,1827.68 842,1827.03 843,1826.14 844,1824.93 845,1823.32 846,1821.22 847,1818.52 848,1815.1 849,1810.87 850,1805.73 851,1799.62 852,1792.51 853,1784.41 854,1775.4 855,1765.64 856,1755.33 857,1744.77 858,1734.3 859,1724.33 860,1715.28 861,1707.59 862,1701.68 863,1697.89 864,1696.46 865,1697.48 866,1700.89 867,1706.48 868,1713.92 869,1722.8 870,1732.7 871,1743.18 872,1753.83 873,1764.29 874,1774.26 875,1783.51 876,1791.88 877,1799.27 878,1805.66 879,1811.06 880,1815.54 881,1819.19 882,1822.1 883,1824.39 884,1826.16 885,1827.52 886,1828.55 887,1829.32 888,1829.9 889,1830.34 890,1830.67 891,1830.93 892,1831.14 893,1831.31 894,1831.45 895,1831.57 896,1831.68 897,1831.78 898,1831.87 899,1831.96 900,1832.04 901,1832.12 902,1832.2 903,1832.27 904,1832.34 905,1832.41 906,1832.47 907,1832.54 908,1832.6 909,1832.66 910,1832.72 911,1832.78 912,1832.83 913,1832.89 914,1832.94 915,1833 916,1833.05 917,1833.1 918,1833.15 919,1833.21 920,1833.26 921,1833.31 922,1833.35 923,1833.4 924,1833.45 925,1833.5 926,1833.55 927,1833.59 928,1833.64 929,1833.68 930,1833.73 931,1833.78 932,1833.82 933,1833.87 934,1833.91 935,1833.95 936,1834 937,1834.04 938,1834.08 939,1834.13 940,1834.17 941,1834.21 942,1834.26 943,1834.3 944,1834.34 945,1834.38 946,1834.43 947,1834.47 948,1834.51 949,1834.55 950,1834.59 951,1834.64 952,1834.68 953,1834.72 954,1834.76 955,1834.8 956,1834.84 957,1834.88 958,1834.92 959,1834.96 960,1835 961,1835.04 962,1835.09 963,1835.13 964,1835.17 965,1835.21 966,1835.25 967,1835.29 968,1835.33 969,1835.37 970,1835.41 971,1835.45 972,1835.49 973,1835.53 974,1835.57 975,1835.61 976,1835.65 977,1835.69 978,1835.73 979,1835.77 980,1835.81 981,1835.84 982,1835.88 983,1835.92 984,1835.96 985,1836 986,1836.04 987,1836.08 988,1836.12 989,1836.16 990,1836.2 991,1836.24 992,1836.28 993,1836.32 994,1836.36 995,1836.4 996,1836.44 997,1836.47 998,1836.51 999,1836.55 1000,1836.59 1001,1836.63 1002,1836.67 1003,1836.71 1004,1836.75 1005,1836.79 1006,1836.83 1007,1836.86 1008,1836.9 1009,1836.94 1010,1836.98 1011,1837.02 1012,1837.06 1013,1837.1 1014,1837.14 1015,1837.18 1016,1837.22 1017,1837.25 1018,1837.29 1019,1837.33 1020,1837.37 1021,1837.41 1022,1837.45 1023,1837.49 1024,1837.53 1025,1837.56 1026,1837.6 1027,1837.64 1028,1837.68 1029,1837.72 1030,1837.76 1031,1837.8 1032,1837.84 1033,1837.87 1034,1837.91 1035,1837.95 1036,1837.99 1037,1838.03 1038,1838.07 1039,1838.11 1040,1838.14 1041,1838.18 1042,1838.22 1043,1838.26 1044,1838.3 1045,1838.34 1046,1838.38 1047,1838.41 1048,1838.45 1049,1838.49 1050,1838.53 1051,1838.57 1052,1838.61 1053,1838.65 1054,1838.68 1055,1838.72 1056,1838.76 1057,1838.8 1058,1838.84 1059,1838.88 1060,1838.92 1061,1838.95 1062,1838.99 1063,1839.03 1064,1839.07 1065,1839.11 1066,1839.15 1067,1839.19 1068,1839.22 1069,1839.26 1070,1839.3 1071,1839.34 1072,1839.38 1073,1839.42 1074,1839.46 1075,1839.49 1076,1839.53 1077,1839.57 1078,1839.61 1079,1839.65 1080,1839.69 1081,1839.72 1082,1839.76 1083,1839.8 1084,1839.84 1085,1839.88 1086,1839.92 1087,1839.96 1088,1839.99 1089,1840.03 1090,1840.07 1091,1840.11 1092,1840.15 1093,1840.19 1094,1840.22 1095,1840.26 1096,1840.3 1097,1840.34 1098,1840.38 1099,1840.42 1100,1840.45 1101,1840.49 1102,1840.53 1103,1840.57 1104,1840.61 1105,1840.65 1106,1840.69 1107,1840.72 1108,1840.76 1109,1840.8 1110,1840.84 1111,1840.88 1112,1840.92 1113,1840.95 1114,1840.99 1115,1841.03 1116,1841.07 1117,1841.11 1118,1841.15 1119,1841.18 1120,1841.22 1121,1841.26 1122,1841.3 1123,1841.34 1124,1841.38 1125,1841.41 1126,1841.45 1127,1841.49 1128,1841.53 1129,1841.57 1130,1841.61 1131,1841.64 1132,1841.68 1133,1841.72 1134,1841.76 1135,1841.8 1136,1841.84 1137,1841.87 1138,1841.91 1139,1841.95 1140,1841.99 1141,1842.03 1142,1842.07 1143,1842.1 1144,1842.14 1145,1842.18 1146,1842.22 1147,1842.26 1148,1842.3 1149,1842.33 1150,1842.37 1151,1842.41 1152,1842.45 1153,1842.49 1154,1842.53 1155,1842.56 1156,1842.6 1157,1842.64 1158,1842.68 1159,1842.72 1160,1842.76 1161,1842.79 1162,1842.83 1163,1842.87 1164,1842.91 1165,1842.95 1166,1842.99 1167,1843.02 1168,1843.06 1169,1843.1 1170,1843.14 1171,1843.18 1172,1843.22 1173,1843.25 1174,1843.29 1175,1843.33 1176,1843.37 1177,1843.41 1178,1843.45 1179,1843.48 1180,1843.52 1181,1843.56 1182,1843.6 1183,1843.64 1184,1843.68 1185,1843.71 1186,1843.75 1187,1843.79 1188,1843.83 1189,1843.87 1190,1843.91 1191,1843.94 1192,1843.98 1193,1844.02 1194,1844.06 1195,1844.1 1196,1844.14 1197,1844.17 1198,1844.21 1199,1844.25 1200,1844.29 1201,1844.33 1202,1844.37 1203,1844.4 1204,1844.44 1205,1844.48 1206,1844.52 1207,1844.56 1208,1844.6 1209,1844.63 1210,1844.67 1211,1844.71 1212,1844.75 1213,1844.79 1214,1844.83 1215,1844.86 1216,1844.9 1217,1844.94 1218,1844.98 1219,1845.02 1220,1845.05 1221,1845.09 1222,1845.13 1223,1845.17 1224,1845.21 1225,1845.25 1226,1845.28 1227,1845.32 1228,1845.36 1229,1845.4 1230,1845.44 1231,1845.48 1232,1845.51 1233,1845.55 1234,1845.59 1235,1845.63 1236,1845.67 1237,1845.71 1238,1845.74 1239,1845.78 1240,1845.82 1241,1845.86 1242,1845.9 1243,1845.94 1244,1845.97 1245,1846.01 1246,1846.05 1247,1846.09 1248,1846.13 1249,1846.17 1250,1846.2 1251,1846.24 1252,1846.28 1253,1846.32 1254,1846.36 1255,1846.4 1256,1846.43 1257,1846.47 1258,1846.51 1259,1846.55 1260,1846.59 1261,1846.62 1262,1846.66 1263,1846.7 1264,1846.74 1265,1846.78 1266,1846.82 1267,1846.85 1268,1846.89 1269,1846.93 1270,1846.97 1271,1847.01 1272,1847.05 1273,1847.08 1274,1847.12 1275,1847.16 1276,1847.2 1277,1847.24 1278,1847.28 1279,1847.31 1280,1847.35 1281,1847.39 1282,1847.43 1283,1847.47 1284,1847.51 1285,1847.54 1286,1847.58 1287,1847.62 1288,1847.66 1289,1847.7 1290,1847.73 1291,1847.77 1292,1847.81 1293,1847.85 1294,1847.89 1295,1847.93 1296,1847.96 1297,1848 1298,1848.04 1299,1848.08 1300,1848.12 1301,1848.16 1302,1848.19 1303,1848.23 1304,1848.27 1305,1848.31 1306,1848.35 1307,1848.39 1308,1848.42 1309,1848.46 1310,1848.5 1311,1848.54 1312,1848.58 1313,1848.62 1314,1848.65 1315,1848.69 1316,1848.73 1317,1848.77 1318,1848.81 1319,1848.84 1320,1848.88 1321,1848.92 1322,1848.96 1323,1849 1324,1849.04 1325,1849.07 1326,1849.11 1327,1849.15 1328,1849.19 1329,1849.23 1330,1849.27 1331,1849.3 1332,1849.34 1333,1849.38 1334,1849.42 1335,1849.46 1336,1849.5" fill="none" stroke="#ff0000" stroke-width="7" stroke-linejoin="round" stroke-linecap="round" />
<polyline points="800,1828.59 801,1828.6 802,1828.61 803,1828.62 804,1828.63 805,1828.63 806,1828.62 807,1828.61 808,1828.58 809,1828.55 810,1828.5 811,1828.45 812,1828.37 813,1828.28 814,1828.17 815,1828.04 816,1827.87 817,1827.68 818,1827.46 819,1827.2 820,1826.9 821,1826.56 822,1826.16 823,1825.72 824,1825.22 825,1824.66 826,1824.03 827,1823.34 828,1822.58 829,1821.74 830,1820.84 831,1819.85 832,1818.8 833,1817.67 834,1816.46 835,1815.19 836,1813.86 837,1812.46 838,1811.02 839,1809.53 840,1808.01 841,1806.46 842,1804.91 843,1803.35 844,1801.81 845,1800.31 846,1798.85 847,1797.45 848,1796.13 849,1794.9 850,1793.79 851,1792.8 852,1791.95 853,1791.26 854,1790.73 855,1790.37 856,1790.19 857,1790.19 858,1790.37 859,1790.74 860,1791.28 861,1791.99 862,1792.85 863,1793.86 864,1795 865,1796.26 866,1797.62 867,1799.07 868,1800.58 869,1802.15 870,1803.75 871,1805.38 872,1807.01 873,1808.64 874,1810.25 875,1811.83 876,1813.37 877,1814.86 878,1816.3 879,1817.67 880,1818.98 881,1820.21 882,1821.38 883,1822.46 884,1823.48 885,1824.42 886,1825.29 887,1826.08 888,1826.81 889,1827.47 890,1828.07 891,1828.62 892,1829.11 893,1829.55 894,1829.94 895,1830.29 896,1830.61 897,1830.88 898,1831.13 899,1831.36 900,1831.55 901,1831.73 902,1831.88 903,1832.02 904,1832.15 905,1832.26 906,1832.37 907,1832.46 908,1832.55 909,1832.63 910,1832.7 911,1832.77 912,1832.84 913,1832.9 914,1832.96 915,1833.02 916,1833.07 917,1833.12 918,1833.18 919,1833.23 920,1833.28 921,1833.32 922,1833.37 923,1833.42 924,1833.47 925,1833.51 926,1833.56 927,1833.6 928,1833.65 929,1833.69 930,1833.74 931,1833.78 932,1833.83 933,1833.87 934,1833.91 935,1833.96 936,1834 937,1834.04 938,1834.09 939,1834.13 940,1834.17 941,1834.21 942,1834.26 943,1834.3 944,1834.34 945,1834.38 946,1834.42 947,1834.47 948,1834.51 949,1834.55 950,1834.59 951,1834.63 952,1834.67 953,1834.71 954,1834.75 955,1834.8 956,1834.84 957,1834.88 958,1834.92 959,1834.96 960,1835 961,1835.04 962,1835.08 963,1835.12 964,1835.16 965,1835.2 966,1835.24 967,1835.28 968,1835.32 969,1835.36 970,1835.4 971,1835.44 972,1835.48 973,1835.52 974,1835.56 975,1835.6 976,1835.64 977,1835.68 978,1835.72 979,1835.76 980,1835.8 981,1835.84 982,1835.88 983,1835.92 984,1835.96 985,1836 986,1836.04 987,1836.08 988,1836.11 989,1836.15 990,1836.19 991,1836.23 992,1836.27 993,1836.31 994,1836.35 995,1836.39 996,1836.43 997,1836.47 998,1836.51 999,1836.55 1000,1836.59 1001,1836.62 1002,1836.66 1003,1836.7 1004,1836.74 1005,1836.78 1006,1836.82 1007,1836.86 1008,1836.9 1009,1836.94 1010,1836.98 1011,1837.01 1012,1837.05 1013,1837.09 1014,1837.13 1015,1837.17 1016,1837.21 1017,1837.25 1018,1837.29 1019,1837.33 1020,1837.36 1021,1837.4 1022,1837.44 1023,1837.48 1024,1837.52 1025,1837.56 1026,1837.6 1027,1837.64 1028,1837.68 1029,1837.71 1030,1837.75 1031,1837.79 1032,1837.83 1033,1837.87 1034,1837.91 1035,1837.95 1036,1837.99 1037,1838.02 1038,1838.06 1039,1838.1 1040,1838.14 1041,1838.18 1042,1838.22 1043,1838.26 1044,1838.29 1045,1838.33 1046,1838.37 1047,1838.41 1048,1838.45 1049,1838.49 1050,1838.53 1051,1838.56 1052,1838.6 1053,1838.64 1054,1838.68 1055,1838.72 1056,1838.76 1057,1838.8 1058,1838.84 1059,1838.87 1060,1838.91 1061,1838.95 1062,1838.99 1063,1839.03 1064,1839.07 1065,1839.1 1066,1839.14 1067,1839.18 1068,1839.22 1069,1839.26 1070,1839.3 1071,1839.34 1072,1839.37 1073,1839.41 1074,1839.45 1075,1839.49 1076,1839.53 1077,1839.57 1078,1839.61 1079,1839.64 1080,1839.68 1081,1839.72 1082,1839.76 1083,1839.8 1084,1839.84 1085,1839.87 1086,1839.91 1087,1839.95 1088,1839.99 1089,1840.03 1090,1840.07 1091,1840.11 1092,1840.14 1093,1840.18 1094,1840.22 1095,1840.26 1096,1840.3 1097,1840.34 1098,1840.37 1099,1840.41 1100,1840.45 1101,1840.49 1102,1840.53 1103,1840.57 1104,1840.61 1105,1840.64 1106,1840.68 1107,1840.72 1108,1840.76 1109,1840.8 1110,1840.84 1111,1840.87 1112,1840.91 1113,1840.95 1114,1840.99 1115,1841.03 1116,1841.07 1117,1841.1 1118,1841.14 1119,1841.18 1120,1841.22 1121,1841.26 1122,1841.3 1123,1841.33 1124,1841.37 1125,1841.41 1126,1841.45 1127,1841.49 1128,1841.53 1129,1841.57 1130,1841.6 1131,1841.64 1132,1841.68 1133,1841.72 1134,1841.76 1135,1841.8 1136,1841.83 1137,1841.87 1138,1841.91 1139,1841.95 1140,1841.99 1141,1842.03 1142,1842.06 1143,1842.1 1144,1842.14 1145,1842.18 1146,1842.22 1147,1842.26 1148,1842.29 1149,1842.33 1150,1842.37 1151,1842.41 1152,1842.45 1153,1842.49 1154,1842.52 1155,1842.56 1156,1842.6 1157,1842.64 1158,1842.68 1159,1842.72 1160,1842.75 1161,1842.79 1162,1842.83 1163,1842.87 1164,1842.91 1165,1842.95 1166,1842.98 1167,1843.02 1168,1843.06 1169,1843.1 1170,1843.14 1171,1843.18 1172,1843.21 1173,1843.25 1174,1843.29 1175,1843.33 1176,1843.37 1177,1843.41 1178,1843.44 1179,1843.48 1180,1843.52 1181,1843.56 1182,1843.6 1183,1843.64 1184,1843.67 1185,1843.71 1186,1843.75 1187,1843.79 1188,1843.83 1189,1843.87 1190,1843.9 1191,1843.94 1192,1843.98 1193,1844.02 1194,1844.06 1195,1844.1 1196,1844.13 1197,1844.17 1198,1844.21 1199,1844.25 1200,1844.29 1201,1844.33 1202,1844.36 1203,1844.4 1204,1844.44 1205,1844.48 1206,1844.52 1207,1844.56 1208,1844.59 1209,1844.63 1210,1844.67 1211,1844.71 1212,1844.75 1213,1844.79 1214,1844.82 1215,1844.86 1216,1844.9 1217,1844.94 1218,1844.98 1219,1845.02 1220,1845.05 1221,1845.09 1222,1845.13 1223,1845.17 1224,1845.21 1225,1845.24 1226,1845.28 1227,1845.32 1228,1845.36 1229,1845.4 1230,1845.44 1231,1845.47 1232,1845.51 1233,1845.55 1234,1845.59 1235,1845.63 1236,1845.67 1237,1845.7 1238,1845.74 1239,1845.78 1240,1845.82 1241,1845.86 1242,1845.9 1243,1845.93 1244,1845.97 1245,1846.01 1246,1846.05 1247,1846.09 1248,1846.13 1249,1846.16 1250,1846.2 1251,1846.24 1252,1846.28 1253,1846.32 1254,1846.36 1255,1846.39 1256,1846.43 1257,1846.47 1258,1846.51 1259,1846.55 1260,1846.59 1261,1846.62 1262,1846.66 1263,1846.7 1264,1846.74 1265,1846.78 1266,1846.81 1267,1846.85 1268,1846.89 1269,1846.93 1270,1846.97 1271,1847.01 1272,1847.04 1273,1847.08 1274,1847.12 1275,1847.16 1276,1847.2 1277,1847.24 1278,1847.27 1279,1847.31 1280,1847.35 1281,1847.39 1282,1847.43 1283,1847.47 1284,1847.5 1285,1847.54 1286,1847.58 1287,1847.62 1288,1847.66 1289,1847.7 1290,1847.73 1291,1847.77 1292,1847.81 1293,1847.85 1294,1847.89 1295,1847.92 1296,1847.96 1297,1848 1298,1848.04 1299,1848.08 1300,1848.12 1301,1848.15 1302,1848.19 1303,1848.23 1304,1848.27 1305,1848.31 1306,1848.35 1307,1848.38 1308,1848.42 1309,1848.46 1310,1848.5 1311,1848.54 1312,1848.58 1313,1848.61 1314,1848.65 1315,1848.69 1316,1848.73 1317,1848.77 1318,1848.81 1319,1848.84 1320,1848.88 1321,1848.92 1322,1848.96 1323,1849 1324,1849.03 1325,1849.07 1326,1849.11 1327,1849.15 1328,1849.19 1329,1849.23 1330,1849.26 1331,1849.3 1332,1849.34 1333,1849.38 1334,1849.42 1335,1849.46 1336,1849.49" fill="none" stroke="#00ff00" stroke-width="8" stroke-linejoin="round" stroke-linecap="round" />
<polyline points="800,1829 801,1829.03 802,1829.07 803,1829.11 804,1829.15 805,1829.19 806,1829.22 807,1829.26 808,1829.3 809,1829.34 810,1829.38 811,1829.42 812,1829.45 813,1829.49 814,1829.53 815,1829.57 816,1829.61 817,1829.64 818,1829.68 819,1829.72 820,1829.76 821,1829.8 822,1829.84 823,1829.87 824,1829.91 825,1829.95 826,1829.99 827,1830.03 828,1830.07 829,1830.1 830,1830.14 831,1830.18 832,1830.22 833,1830.26 834,1830.29 835,1830.33 836,1830.37 837,1830.41 838,1830.45 839,1830.49 840,1830.52 841,1830.56 842,1830.6 843,1830.64 844,1830.68 845,1830.72 846,1830.75 847,1830.79 848,1830.83 849,1830.87 850,1830.91 851,1830.94 852,1830.98 853,1831.02 854,1831.06 855,1831.1 856,1831.14 857,1831.17 858,1831.21 859,1831.25 860,1831.29 861,1831.33 862,1831.36 863,1831.4 864,1831.44 865,1831.48 866,1831.52 867,1831.56 868,1831.59 869,1831.63 870,1831.67 871,1831.71 872,1831.75 873,1831.79 874,1831.82 875,1831.86 876,1831.9 877,1831.94 878,1831.98 879,1832.01 880,1832.05 881,1832.09 882,1832.13 883,1832.17 884,1832.21 885,1832.24 886,1832.28 887,1832.32 888,1832.36 889,1832.4 890,1832.43 891,1832.47 892,1832.51 893,1832.55 894,1832.59 895,1832.63 896,1832.66 897,1832.7 898,1832.74 899,1832.78 900,1832.82 901,1832.85 902,1832.89 903,1832.93 904,1832.97 905,1833.01 906,1833.05 907,1833.08 908,1833.12 909,1833.16 910,1833.2 911,1833.24 912,1833.28 913,1833.31 914,1833.35 915,1833.39 916,1833.43 917,1833.47 918,1833.5 919,1833.54 920,1833.58 921,1833.62 922,1833.66 923,1833.7 924,1833.73 925,1833.77 926,1833.81 927,1833.85 928,1833.89 929,1833.92 930,1833.96 931,1834 932,1834.04 933,1834.08 934,1834.12 935,1834.15 936,1834.19 937,1834.23 938,1834.27 939,1834.31 940,1834.34 941,1834.38 942,1834.42 943,1834.46 944,1834.5 945,1834.54 946,1834.57 947,1834.61 948,1834.65 949,1834.69 950,1834.73 951,1834.76 952,1834.8 953,1834.84 954,1834.88 955,1834.92 956,1834.96 957,1834.99 958,1835.03 959,1835.07 960,1835.11 961,1835.15 962,1835.18 963,1835.22 964,1835.26 965,1835.3 966,1835.34 967,1835.38 968,1835.41 969,1835.45 970,1835.49 971,1835.53 972,1835.57 973,1835.6 974,1835.64 975,1835.68 976,1835.72 977,1835.76 978,1835.8 979,1835.83 980,1835.87 981,1835.91 982,1835.95 983,1835.99 984,1836.02 985,1836.06 986,1836.1 987,1836.14 988,1836.18 989,1836.21 990,1836.25 991,1836.29 992,1836.33 993,1836.37 994,1836.41 995,1836.44 996,1836.48 997,1836.52 998,1836.56 999,1836.6 1000,1836.63 1001,1836.67 1002,1836.71 1003,1836.75 1004,1836.79 1005,1836.83 1006,1836.86 1007,1836.9 1008,1836.94 1009,1836.98 1010,1837.02 1011,1837.05 1012,1837.09 1013,1837.13 1014,1837.17 1015,1837.21 1016,1837.24 1017,1837.28 1018,1837.32 1019,1837.36 1020,1837.4 1021,1837.43 1022,1837.47 1023,1837.51 1024,1837.55 1025,1837.59 1026,1837.63 1027,1837.66 1028,1837.7 1029,1837.74 1030,1837.78 1031,1837.82 1032,1837.85 1033,1837.89 1034,1837.93 1035,1837.97 1036,1838.01 1037,1838.04 1038,1838.08 1039,1838.12 1040,1838.16 1041,1838.2 1042,1838.23 1043,1838.27 1044,1838.31 1045,1838.35 1046,1838.39 1047,1838.42 1048,1838.46 1049,1838.5 1050,1838.54 1051,1838.58 1052,1838.62 1053,1838.65 1054,1838.69 1055,1838.73 1056,1838.77 1057,1838.81 1058,1838.84 1059,1838.88 1060,1838.92 1061,1838.96 1062,1839 1063,1839.03 1064,1839.07 1065,1839.11 1066,1839.15 1067,1839.19 1068,1839.22 1069,1839.26 1070,1839.3 1071,1839.34 1072,1839.37 1073,1839.41 1074,1839.45 1075,1839.49 1076,1839.53 1077,1839.56 1078,1839.6 1079,1839.64 1080,1839.68 1081,1839.72 1082,1839.75 1083,1839.79 1084,1839.83 1085,1839.87 1086,1839.91 1087,1839.94 1088,1839.98 1089,1840.02 1090,1840.06 1091,1840.1 1092,1840.13 1093,1840.17 1094,1840.21 1095,1840.25 1096,1840.28 1097,1840.32 1098,1840.36 1099,1840.4 1100,1840.44 1101,1840.47 1102,1840.51 1103,1840.55 1104,1840.59 1105,1840.62 1106,1840.66 1107,1840.7 1108,1840.74 1109,1840.78 1110,1840.81 1111,1840.85 1112,1840.89 1113,1840.93 1114,1840.96 1115,1841 1116,1841.04 1117,1841.08 1118,1841.11 1119,1841.15 1120,1841.19 1121,1841.23 1122,1841.26 1123,1841.3 1124,1841.34 1125,1841.38 1126,1841.41 1127,1841.45 1128,1841.49 1129,1841.53 1130,1841.56 1131,1841.6 1132,1841.64 1133,1841.68 1134,1841.71 1135,1841.75 1136,1841.79 1137,1841.83 1138,1841.86 1139,1841.9 1140,1841.94 1141,1841.97 1142,1842.01 1143,1842.05 1144,1842.09 1145,1842.12 1146,1842.16 1147,1842.2 1148,1842.23 1149,1842.27 1150,1842.31 1151,1842.34 1152,1842.38 1153,1842.42 1154,1842.45 1155,1842.49 1156,1842.53 1157,1842.56 1158,1842.6 1159,1842.64 1160,1842.67 1161,1842.71 1162,1842.75 1163,1842.78 1164,1842.82 1165,1842.86 1166,1842.89 1167,1842.93 1168,1842.96 1169,1843 1170,1843.04 1171,1843.07 1172,1843.11 1173,1843.14 1174,1843.18 1175,1843.21 1176,1843.25 1177,1843.28 1178,1843.32 1179,1843.35 1180,1843.39 1181,1843.42 1182,1843.46 1183,1843.49 1184,1843.53 1185,1843.56 1186,1843.6 1187,1843.63 1188,1843.66 1189,1843.7 1190,1843.73 1191,1843.76 1192,1843.8 1193,1843.83 1194,1843.86 1195,1843.89 1196,1843.93 1197,1843.96 1198,1843.99 1199,1844.02 1200,1844.05 1201,1844.08 1202,1844.11 1203,1844.14 1204,1844.17 1205,1844.2 1206,1844.23 1207,1844.26 1208,1844.28 1209,1844.31 1210,1844.34 1211,1844.36 1212,1844.39 1213,1844.41 1214,1844.43 1215,1844.46 1216,1844.48 1217,1844.5 1218,1844.52 1219,1844.53 1220,1844.55 1221,1844.57 1222,1844.58 1223,1844.59 1224,1844.6 1225,1844.61 1226,1844.61 1227,1844.61 1228,1844.61 1229,1844.61 1230,1844.6 1231,1844.59 1232,1844.58 1233,1844.56 1234,1844.53 1235,1844.5 1236,1844.46 1237,1844.41 1238,1844.36 1239,1844.29 1240,1844.21 1241,1844.11 1242,1844 1243,1843.85 1244,1843.67 1245,1843.41 1246,1843.04 1247,1842.48 1248,1841.6 1249,1840.21 1250,1838 1251,1834.55 1252,1829.3 1253,1821.58 1254,1810.63 1255,1795.73 1256,1776.32 1257,1752.18 1258,1723.64 1259,1691.69 1260,1658.04 1261,1625.1 1262,1595.73 1263,1572.99 1264,1559.59 1265,1557.31 1266,1566.48 1267,1585.85 1268,1613 1269,1644.96 1270,1678.72 1271,1711.67 1272,1741.81 1273,1767.86 1274,1789.24 1275,1805.97 1276,1818.5 1277,1827.49 1278,1833.72 1279,1837.89 1280,1840.61 1281,1842.37 1282,1843.5 1283,1844.24 1284,1844.76 1285,1845.13 1286,1845.41 1287,1845.65 1288,1845.85 1289,1846.03 1290,1846.2 1291,1846.34 1292,1846.48 1293,1846.61 1294,1846.73 1295,1846.84 1296,1846.94 1297,1847.04 1298,1847.13 1299,1847.22 1300,1847.31 1301,1847.39 1302,1847.47 1303,1847.54 1304,1847.62 1305,1847.69 1306,1847.75 1307,1847.82 1308,1847.88 1309,1847.94 1310,1848.01 1311,1848.06 1312,1848.12 1313,1848.18 1314,1848.24 1315,1848.29 1316,1848.34 1317,1848.4 1318,1848.45 1319,1848.5 1320,1848.55 1321,1848.6 1322,1848.65 1323,1848.7 1324,1848.75 1325,1848.79 1326,1848.84 1327,1848.89 1328,1848.94 1329,1848.98 1330,1849.03 1331,1849.07 1332,1849.12 1333,1849.16 1334,1849.21 1335,1849.25 1336,1849.3" fill="none" stroke="#0000ff" stroke-width="7" stroke-linejoin="round" stroke-linecap="round" />
<polyline points="800,1828.99 801,1829.03 802,1829.07 803,1829.1 804,1829.14 805,1829.18 806,1829.22 807,1829.26 808,1829.3 809,1829.33 810,1829.37 811,1829.41 812,1829.45 813,1829.49 814,1829.52 815,1829.56 816,1829.6 817,1829.64 818,1829.68 819,1829.72 820,1829.75 821,1829.79 822,1829.83 823,1829.87 824,1829.91 825,1829.94 826,1829.98 827,1830.02 828,1830.06 829,1830.1 830,1830.14 831,1830.17 832,1830.21 833,1830.25 834,1830.29 835,1830.33 836,1830.36 837,1830.4 838,1830.44 839,1830.48 840,1830.52 841,1830.56 842,1830.59 843,1830.63 844,1830.67 845,1830.71 846,1830.75 847,1830.78 848,1830.82 849,1830.86 850,1830.9 851,1830.94 852,1830.98 853,1831.01 854,1831.05 855,1831.09 856,1831.13 857,1831.17 858,1831.2 859,1831.24 860,1831.28 861,1831.32 862,1831.36 863,1831.4 864,1831.43 865,1831.47 866,1831.51 867,1831.55 868,1831.59 869,1831.62 870,1831.66 871,1831.7 872,1831.74 873,1831.78 874,1831.82 875,1831.85 876,1831.89 877,1831.93 878,1831.97 879,1832.01 880,1832.04 881,1832.08 882,1832.12 883,1832.16 884,1832.2 885,1832.24 886,1832.27 887,1832.31 888,1832.35 889,1832.39 890,1832.43 891,1832.46 892,1832.5 893,1832.54 894,1832.58 895,1832.62 896,1832.65 897,1832.69 898,1832.73 899,1832.77 900,1832.81 901,1832.85 902,1832.88 903,1832.92 904,1832.96 905,1833 906,1833.04 907,1833.07 908,1833.11 909,1833.15 910,1833.19 911,1833.23 912,1833.27 913,1833.3 914,1833.34 915,1833.38 916,1833.42 917,1833.46 918,1833.49 919,1833.53 920,1833.57 921,1833.61 922,1833.65 923,1833.68 924,1833.72 925,1833.76 926,1833.8 927,1833.84 928,1833.88 929,1833.91 930,1833.95 931,1833.99 932,1834.03 933,1834.07 934,1834.1 935,1834.14 936,1834.18 937,1834.22 938,1834.26 939,1834.29 940,1834.33 941,1834.37 942,1834.41 943,1834.45 944,1834.49 945,1834.52 946,1834.56 947,1834.6 948,1834.64 949,1834.68 950,1834.71 951,1834.75 952,1834.79 953,1834.83 954,1834.87 955,1834.9 956,1834.94 957,1834.98 958,1835.02 959,1835.06 960,1835.09 961,1835.13 962,1835.17 963,1835.21 964,1835.25 965,1835.29 966,1835.32 967,1835.36 968,1835.4 969,1835.44 970,1835.48 971,1835.51 972,1835.55 973,1835.59 974,1835.63 975,1835.67 976,1835.7 977,1835.74 978,1835.78 979,1835.82 980,1835.86 981,1835.89 982,1835.93 983,1835.97 984,1836.01 985,1836.05 986,1836.08 987,1836.12 988,1836.16 989,1836.2 990,1836.24 991,1836.27 992,1836.31 993,1836.35 994,1836.39 995,1836.43 996,1836.46 997,1836.5 998,1836.54 999,1836.58 1000,1836.62 1001,1836.65 1002,1836.69 1003,1836.73 1004,1836.77 1005,1836.81 1006,1836.84 1007,1836.88 1008,1836.92 1009,1836.96 1010,1837 1011,1837.03 1012,1837.07 1013,1837.11 1014,1837.15 1015,1837.19 1016,1837.22 1017,1837.26 1018,1837.3 1019,1837.34 1020,1837.38 1021,1837.41 1022,1837.45 1023,1837.49 1024,1837.53 1025,1837.57 1026,1837.6 1027,1837.64 1028,1837.68 1029,1837.72 1030,1837.75 1031,1837.79 1032,1837.83 1033,1837.87 1034,1837.91 1035,1837.94 1036,1837.98 1037,1838.02 1038,1838.06 1039,1838.1 1040,1838.13 1041,1838.17 1042,1838.21 1043,1838.25 1044,1838.28 1045,1838.32 1046,1838.36 1047,1838.4 1048,1838.44 1049,1838.47 1050,1838.51 1051,1838.55 1052,1838.59 1053,1838.62 1054,1838.66 1055,1838.7 1056,1838.74 1057,1838.78 1058,1838.81 1059,1838.85 1060,1838.89 1061,1838.93 1062,1838.96 1063,1839 1064,1839.04 1065,1839.08 1066,1839.11 1067,1839.15 1068,1839.19 1069,1839.23 1070,1839.26 1071,1839.3 1072,1839.34 1073,1839.38 1074,1839.42 1075,1839.45 1076,1839.49 1077,1839.53 1078,1839.57 1079,1839.6 1080,1839.64 1081,1839.68 1082,1839.72 1083,1839.75 1084,1839.79 1085,1839.83 1086,1839.86 1087,1839.9 1088,1839.94 1089,1839.98 1090,1840.01 1091,1840.05 1092,1840.09 1093,1840.13 1094,1840.16 1095,1840.2 1096,1840.24 1097,1840.28 1098,1840.31 1099,1840.35 1100,1840.39 1101,1840.42 1102,1840.46 1103,1840.5 1104,1840.54 1105,1840.57 1106,1840.61 1107,1840.65 1108,1840.68 1109,1840.72 1110,1840.76 1111,1840.79 1112,1840.83 1113,1840.87 1114,1840.9 1115,1840.94 1116,1840.98 1117,1841.01 1118,1841.05 1119,1841.09 1120,1841.12 1121,1841.16 1122,1841.2 1123,1841.23 1124,1841.27 1125,1841.31 1126,1841.34 1127,1841.38 1128,1841.42 1129,1841.45 1130,1841.49 1131,1841.53 1132,1841.56 1133,1841.6 1134,1841.63 1135,1841.67 1136,1841.71 1137,1841.74 1138,1841.78 1139,1841.81 1140,1841.85 1141,1841.88 1142,1841.92 1143,1841.96 1144,1841.99 1145,1842.03 1146,1842.06 1147,1842.1 1148,1842.13 1149,1842.17 1150,1842.2 1151,1842.24 1152,1842.27 1153,1842.31 1154,1842.34 1155,1842.38 1156,1842.41 1157,1842.44 1158,1842.48 1159,1842.51 1160,1842.55 1161,1842.58 1162,1842.61 1163,1842.65 1164,1842.68 1165,1842.71 1166,1842.75 1167,1842.78 1168,1842.81 1169,1842.84 1170,1842.88 1171,1842.91 1172,1842.94 1173,1842.97 1174,1843 1175,1843.03 1176,1843.07 1177,1843.1 1178,1843.13 1179,1843.16 1180,1843.19 1181,1843.22 1182,1843.25 1183,1843.27 1184,1843.3 1185,1843.33 1186,1843.36 1187,1843.39 1188,1843.41 1189,1843.44 1190,1843.47 1191,1843.49 1192,1843.52 1193,1843.54 1194,1843.56 1195,1843.59 1196,1843.61 1197,1843.63 1198,1843.65 1199,1843.67 1200,1843.68 1201,1843.7 1202,1843.71 1203,1843.72 1204,1843.73 1205,1843.74 1206,1843.74 1207,1843.73 1208,1843.72 1209,1843.7 1210,1843.68 1211,1843.64 1212,1843.59 1213,1843.52 1214,1843.43 1215,1843.32 1216,1843.19 1217,1843.02 1218,1842.81 1219,1842.56 1220,1842.25 1221,1841.89 1222,1841.46 1223,1840.94 1224,1840.34 1225,1839.64 1226,1838.83 1227,1837.89 1228,1836.82 1229,1835.6 1230,1834.22 1231,1832.67 1232,1830.94 1233,1829.02 1234,1826.91 1235,1824.6 1236,1822.09 1237,1819.39 1238,1816.49 1239,1813.42 1240,1810.18 1241,1806.79 1242,1803.27 1243,1799.65 1244,1795.96 1245,1792.24 1246,1788.52 1247,1784.85 1248,1781.26 1249,1777.82 1250,1774.56 1251,1771.54 1252,1768.8 1253,1766.38 1254,1764.34 1255,1762.7 1256,1761.5 1257,1760.77 1258,1760.52 1259,1760.75 1260,1761.47 1261,1762.65 1262,1764.27 1263,1766.32 1264,1768.74 1265,1771.49 1266,1774.54 1267,1777.83 1268,1781.32 1269,1784.95 1270,1788.69 1271,1792.48 1272,1796.28 1273,1800.05 1274,1803.77 1275,1807.38 1276,1810.88 1277,1814.23 1278,1817.42 1279,1820.42 1280,1823.24 1281,1825.86 1282,1828.29 1283,1830.52 1284,1832.55 1285,1834.39 1286,1836.05 1287,1837.54 1288,1838.87 1289,1840.05 1290,1841.09 1291,1842 1292,1842.8 1293,1843.5 1294,1844.11 1295,1844.63 1296,1845.09 1297,1845.48 1298,1845.82 1299,1846.11 1300,1846.36 1301,1846.58 1302,1846.77 1303,1846.94 1304,1847.09 1305,1847.22 1306,1847.33 1307,1847.44 1308,1847.54 1309,1847.62 1310,1847.71 1311,1847.78 1312,1847.86 1313,1847.92 1314,1847.99 1315,1848.05 1316,1848.12 1317,1848.18 1318,1848.23 1319,1848.29 1320,1848.35 1321,1848.4 1322,1848.46 1323,1848.51 1324,1848.56 1325,1848.61 1326,1848.66 1327,1848.72 1328,1848.77 1329,1848.82 1330,1848.86 1331,1848.91 1332,1848.96 1333,1849.01 1334,1849.06 1335,1849.1 1336,1849.15" fill="none" stroke="#00ffff" stroke-width="8" stroke-linejoin="round" stroke-linecap="round" />
<polyline points="800,1829 1336,1849.5" fill="none" stroke="#ff00ff" stroke-width="9" stroke-linejoin="round" stroke-linecap="round" />
<polyline points="800,1827.44 801,1827.43 802,1827.41 803,1827.39 804,1827.36 805,1827.33 806,1827.29 807,1827.24 808,1827.18 809,1827.1 810,1827.02 811,1826.91 812,1826.79 813,1826.64 814,1826.46 815,1826.25 816,1826 817,1825.7 818,1825.35 819,1824.94 820,1824.47 821,1823.91 822,1823.26 823,1822.51 824,1821.65 825,1820.65 826,1819.51 827,1818.22 828,1816.74 829,1815.08 830,1813.21 831,1811.11 832,1808.78 833,1806.19 834,1803.32 835,1800.18 836,1796.74 837,1793.01 838,1788.97 839,1784.62 840,1779.96 841,1775.01 842,1769.76 843,1764.24 844,1758.48 845,1752.48 846,1746.29 847,1739.94 848,1733.47 849,1726.93 850,1720.38 851,1713.86 852,1707.44 853,1701.18 854,1695.14 855,1689.4 856,1684.02 857,1679.07 858,1674.62 859,1670.72 860,1667.43 861,1664.81 862,1662.89 863,1661.71 864,1661.29 865,1661.64 866,1662.74 867,1664.59 868,1667.15 869,1670.38 870,1674.24 871,1678.66 872,1683.6 873,1688.97 874,1694.72 875,1700.78 876,1707.07 877,1713.54 878,1720.12 879,1726.75 880,1733.37 881,1739.93 882,1746.39 883,1752.69 884,1758.8 885,1764.7 886,1770.34 887,1775.72 888,1780.81 889,1785.6 890,1790.09 891,1794.27 892,1798.14 893,1801.71 894,1804.99 895,1807.98 896,1810.7 897,1813.16 898,1815.38 899,1817.37 900,1819.15 901,1820.74 902,1822.14 903,1823.39 904,1824.49 905,1825.45 906,1826.3 907,1827.04 908,1827.69 909,1828.26 910,1828.76 911,1829.19 912,1829.58 913,1829.91 914,1830.21 915,1830.47 916,1830.7 917,1830.9 918,1831.09 919,1831.25 920,1831.4 921,1831.54 922,1831.67 923,1831.79 924,1831.9 925,1832 926,1832.1 927,1832.2 928,1832.29 929,1832.37 930,1832.46 931,1832.54 932,1832.61 933,1832.69 934,1832.76 935,1832.84 936,1832.91 937,1832.98 938,1833.04 939,1833.11 940,1833.18 941,1833.24 942,1833.3 943,1833.37 944,1833.43 945,1833.49 946,1833.55 947,1833.61 948,1833.67 949,1833.72 950,1833.78 951,1833.84 952,1833.89 953,1833.95 954,1834 955,1834.06 956,1834.11 957,1834.17 958,1834.22 959,1834.27 960,1834.32 961,1834.37 962,1834.42 963,1834.47 964,1834.53 965,1834.57 966,1834.62 967,1834.67 968,1834.72 969,1834.77 970,1834.82 971,1834.87 972,1834.91 973,1834.96 974,1835.01 975,1835.06 976,1835.1 977,1835.15 978,1835.19 979,1835.24 980,1835.29 981,1835.33 982,1835.38 983,1835.42 984,1835.47 985,1835.51 986,1835.56 987,1835.6 988,1835.64 989,1835.69 990,1835.73 991,1835.78 992,1835.82 993,1835.86 994,1835.91 995,1835.95 996,1835.99 997,1836.03 998,1836.08 999,1836.12 1000,1836.16 1001,1836.2 1002,1836.25 1003,1836.29 1004,1836.33 1005,1836.37 1006,1836.41 1007,1836.45 1008,1836.5 1009,1836.54 1010,1836.58 1011,1836.62 1012,1836.66 1013,1836.7 1014,1836.74 1015,1836.78 1016,1836.82 1017,1836.87 1018,1836.91 1019,1836.95 1020,1836.99 1021,1837.03 1022,1837.07 1023,1837.11 1024,1837.15 1025,1837.19 1026,1837.23 1027,1837.27 1028,1837.31 1029,1837.35 1030,1837.39 1031,1837.43 1032,1837.47 1033,1837.5 1034,1837.54 1035,1837.58 1036,1837.62 1037,1837.66 1038,1837.7 1039,1837.74 1040,1837.78 1041,1837.82 1042,1837.86 1043,1837.9 1044,1837.93 1045,1837.97 1046,1838.01 1047,1838.05 1048,1838.09 1049,1838.13 1050,1838.17 1051,1838.2 1052,1838.24 1053,1838.28 1054,1838.32 1055,1838.36 1056,1838.39 1057,1838.43 1058,1838.47 1059,1838.51 1060,1838.55 1061,1838.58 1062,1838.62 1063,1838.66 1064,1838.7 1065,1838.73 1066,1838.77 1067,1838.81 1068,1838.85 1069,1838.88 1070,1838.92 1071,1838.96 1072,1839 1073,1839.03 1074,1839.07 1075,1839.11 1076,1839.14 1077,1839.18 1078,1839.22 1079,1839.25 1080,1839.29 1081,1839.33 1082,1839.36 1083,1839.4 1084,1839.44 1085,1839.47 1086,1839.51 1087,1839.54 1088,1839.58 1089,1839.62 1090,1839.65 1091,1839.69 1092,1839.72 1093,1839.76 1094,1839.79 1095,1839.83 1096,1839.87 1097,1839.9 1098,1839.94 1099,1839.97 1100,1840.01 1101,1840.04 1102,1840.08 1103,1840.11 1104,1840.15 1105,1840.18 1106,1840.21 1107,1840.25 1108,1840.28 1109,1840.32 1110,1840.35 1111,1840.39 1112,1840.42 1113,1840.45 1114,1840.49 1115,1840.52 1116,1840.55 1117,1840.59 1118,1840.62 1119,1840.65 1120,1840.69 1121,1840.72 1122,1840.75 1123,1840.78 1124,1840.82 1125,1840.85 1126,1840.88 1127,1840.91 1128,1840.94 1129,1840.98 1130,1841.01 1131,1841.04 1132,1841.07 1133,1841.1 1134,1841.13 1135,1841.16 1136,1841.19 1137,1841.22 1138,1841.25 1139,1841.28 1140,1841.31 1141,1841.34 1142,1841.37 1143,1841.4 1144,1841.43 1145,1841.45 1146,1841.48 1147,1841.51 1148,1841.54 1149,1841.56 1150,1841.59 1151,1841.62 1152,1841.64 1153,1841.67 1154,1841.69 1155,1841.72 1156,1841.74 1157,1841.77 1158,1841.79 1159,1841.82 1160,1841.84 1161,1841.86 1162,1841.88 1163,1841.91 1164,1841.93 1165,1841.95 1166,1841.97 1167,1841.99 1168,1842.01 1169,1842.02 1170,1842.04 1171,1842.06 1172,1842.07 1173,1842.09 1174,1842.1 1175,1842.12 1176,1842.13 1177,1842.14 1178,1842.16 1179,1842.17 1180,1842.18 1181,1842.18 1182,1842.19 1183,1842.2 1184,1842.2 1185,1842.21 1186,1842.21 1187,1842.21 1188,1842.21 1189,1842.21 1190,1842.21 1191,1842.2 1192,1842.2 1193,1842.19 1194,1842.18 1195,1842.17 1196,1842.15 1197,1842.14 1198,1842.12 1199,1842.1 1200,1842.07 1201,1842.05 1202,1842.02 1203,1841.98 1204,1841.95 1205,1841.91 1206,1841.86 1207,1841.81 1208,1841.75 1209,1841.69 1210,1841.62 1211,1841.55 1212,1841.46 1213,1841.36 1214,1841.25 1215,1841.12 1216,1840.97 1217,1840.79 1218,1840.59 1219,1840.34 1220,1840.05 1221,1839.7 1222,1839.29 1223,1838.79 1224,1838.19 1225,1837.47 1226,1836.61 1227,1835.57 1228,1834.32 1229,1832.84 1230,1831.08 1231,1828.99 1232,1826.53 1233,1823.65 1234,1820.28 1235,1816.38 1236,1811.88 1237,1806.73 1238,1800.86 1239,1794.23 1240,1786.78 1241,1778.46 1242,1769.26 1243,1759.14 1244,1748.09 1245,1736.14 1246,1723.3 1247,1709.63 1248,1695.19 1249,1680.07 1250,1664.4 1251,1648.31 1252,1631.96 1253,1615.54 1254,1599.23 1255,1583.27 1256,1567.88 1257,1553.3 1258,1539.77 1259,1527.54 1260,1516.84 1261,1507.89 1262,1500.88 1263,1495.97 1264,1493.27 1265,1492.85 1266,1494.72 1267,1498.83 1268,1505.1 1269,1513.37 1270,1523.47 1271,1535.2 1272,1548.31 1273,1562.58 1274,1577.75 1275,1593.59 1276,1609.86 1277,1626.34 1278,1642.82 1279,1659.11 1280,1675.04 1281,1690.47 1282,1705.27 1283,1719.34 1284,1732.59 1285,1744.98 1286,1756.47 1287,1767.03 1288,1776.68 1289,1785.43 1290,1793.29 1291,1800.33 1292,1806.57 1293,1812.08 1294,1816.91 1295,1821.12 1296,1824.77 1297,1827.92 1298,1830.62 1299,1832.92 1300,1834.89 1301,1836.55 1302,1837.97 1303,1839.16 1304,1840.17 1305,1841.02 1306,1841.74 1307,1842.35 1308,1842.88 1309,1843.33 1310,1843.72 1311,1844.05 1312,1844.35 1313,1844.62 1314,1844.85 1315,1845.07 1316,1845.26 1317,1845.44 1318,1845.61 1319,1845.77 1320,1845.92 1321,1846.06 1322,1846.2 1323,1846.33 1324,1846.45 1325,1846.57 1326,1846.68 1327,1846.8 1328,1846.9 1329,1847.01 1330,1847.11 1331,1847.21 1332,1847.31 1333,1847.4 1334,1847.49 1335,1847.58 1336,1847.67" fill="none" stroke="#ffff00" stroke-width="10" stroke-linejoin="round" stroke-linecap="round" />
</svg></body></html>
